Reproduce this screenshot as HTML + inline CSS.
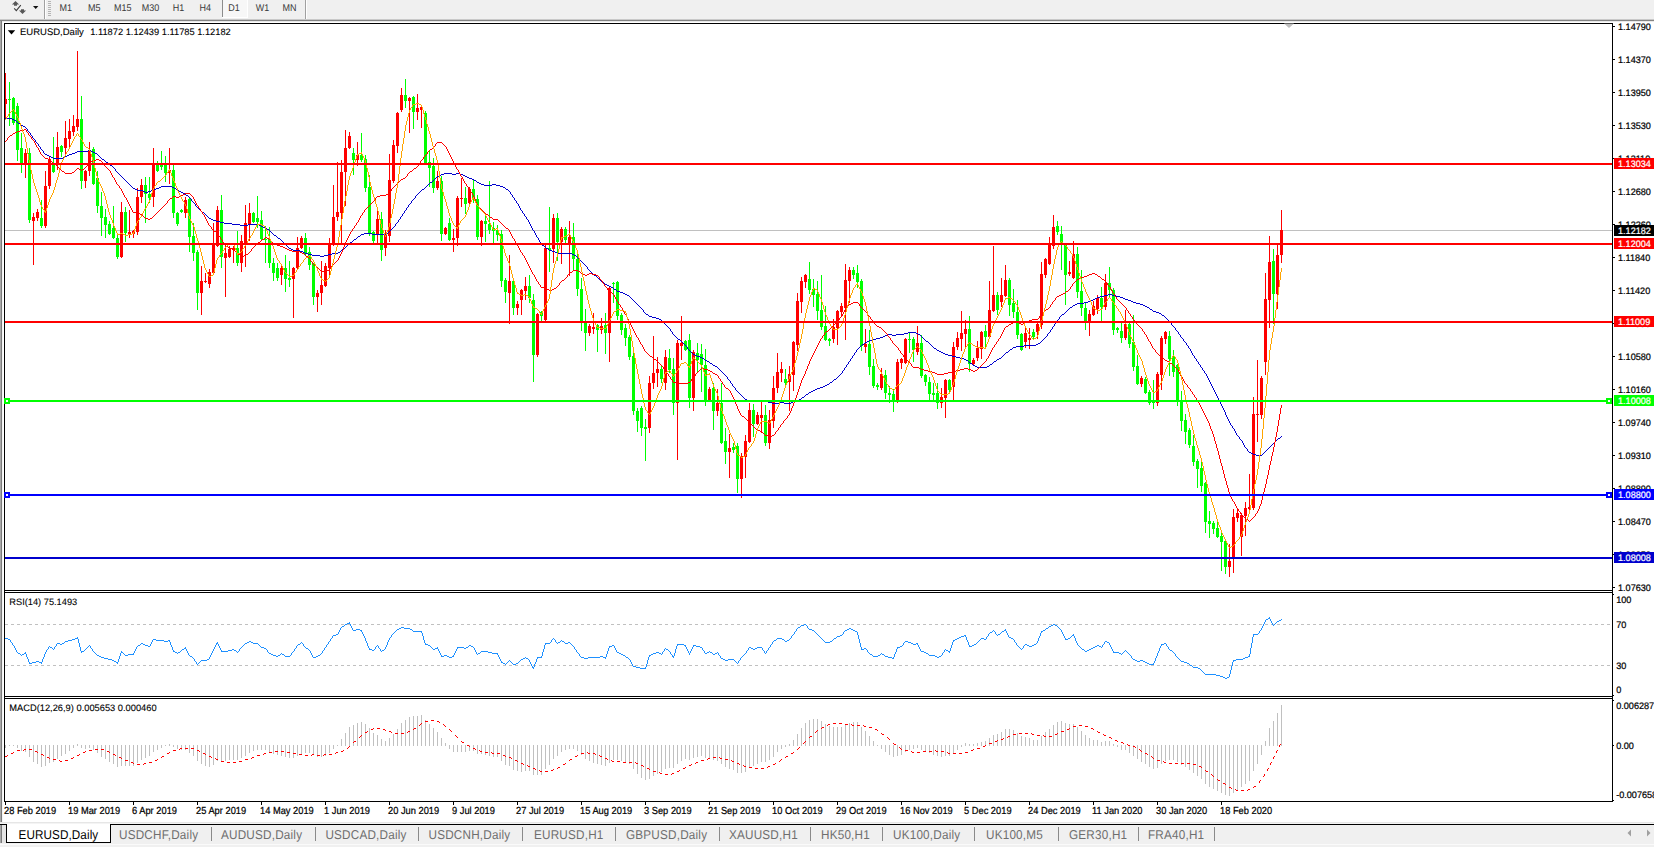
<!DOCTYPE html>
<html lang="en"><head><meta charset="utf-8"><title>EURUSD,Daily</title>
<style>html,body{margin:0;padding:0;background:#fff;overflow:hidden}svg{display:block}text{font-family:"Liberation Sans",sans-serif;fill:#000;text-rendering:geometricPrecision}.ax{stroke:#000;stroke-width:.22px}.dt{stroke:#000;stroke-width:.2px}.ttl{stroke:#000;stroke-width:.1px;text-rendering:geometricPrecision}.ax.w{stroke:#fff}.ax{font-size:9.1px}.dt{font-size:9.3px}.tb{font-size:9px;fill:#3a3a3a}.tab{font-size:11.7px;fill:#6e6e6e;letter-spacing:0.22px}.tabA{font-size:11.7px;fill:#000;letter-spacing:0.1px}.ttl{font-size:9.3px}.w{fill:#fff}</style></head><body>
<svg width="1654" height="847" viewBox="0 0 1654 847">
<rect width="1654" height="847" fill="#fff"/>
<g shape-rendering="crispEdges">
<rect x="0" y="0" width="1654" height="19" fill="#f0f0f0"/>
<rect x="0" y="19" width="1654" height="1" fill="#c9c9c9"/>
<rect x="0" y="20" width="1654" height="1" fill="#848484"/>
<rect x="0" y="21" width="1654" height="1" fill="#e9e9e9"/>
<rect x="44" y="0" width="1" height="19" fill="#a0a0a0"/><rect x="45" y="0" width="1" height="19" fill="#fff"/>
<rect x="305" y="0" width="1" height="19" fill="#a0a0a0"/><rect x="306" y="0" width="1" height="19" fill="#fff"/>
<rect x="48" y="1" width="3" height="1" fill="#b4b4b4"/>
<rect x="48" y="3" width="3" height="1" fill="#b4b4b4"/>
<rect x="48" y="5" width="3" height="1" fill="#b4b4b4"/>
<rect x="48" y="7" width="3" height="1" fill="#b4b4b4"/>
<rect x="48" y="9" width="3" height="1" fill="#b4b4b4"/>
<rect x="48" y="11" width="3" height="1" fill="#b4b4b4"/>
<rect x="48" y="13" width="3" height="1" fill="#b4b4b4"/>
<rect x="48" y="15" width="3" height="1" fill="#b4b4b4"/>
<rect x="222" y="0" width="25" height="18" fill="#f7f7f7"/><rect x="222" y="0" width="1" height="17" fill="#8c8c8c"/><rect x="222" y="17" width="26" height="1" fill="#fff"/><rect x="247" y="0" width="1" height="18" fill="#fff"/>
</g>
<g fill="#585858"><path d="M15.5 0.9 L19.1 4.6 L17 4.6 L17 5.8 L14 5.8 L14 4.6 L11.9 4.6 Z"/><path d="M21 9.3 L24 9.3 L24 10.5 L26.1 10.5 L22.5 14 L19 10.5 L21 10.5 Z"/><polyline points="14.2,8.4 16.3,10.7 20.8,5.2" fill="none" stroke="#3c3c3c" stroke-width="1.05"/><path d="M33 6 L38.4 6 L35.7 9 Z" fill="#111"/></g>
<text class="tb" transform="translate(59.6 11) scale(1 1.08)">M1</text>
<text class="tb" transform="translate(87.9 11) scale(1 1.08)">M5</text>
<text class="tb" transform="translate(113.9 11) scale(1 1.08)">M15</text>
<text class="tb" transform="translate(141.8 11) scale(1 1.08)">M30</text>
<text class="tb" transform="translate(172.8 11) scale(1 1.08)">H1</text>
<text class="tb" transform="translate(199.6 11) scale(1 1.08)">H4</text>
<text class="tb" transform="translate(228.3 11) scale(1 1.08)">D1</text>
<text class="tb" transform="translate(255.8 11) scale(1 1.08)">W1</text>
<text class="tb" transform="translate(282.6 11) scale(1 1.08)">MN</text>
<g shape-rendering="crispEdges">
<rect x="0" y="21" width="1" height="801" fill="#a8a8a8"/><rect x="1" y="21" width="1" height="801" fill="#7c7c7c"/><rect x="2" y="22" width="1" height="800" fill="#f4f4f4"/>
<rect x="4" y="23" width="1609" height="1" fill="#000"/>
<rect x="4" y="23" width="1" height="779" fill="#000"/>
<rect x="1612" y="23" width="1" height="779" fill="#000"/>
<rect x="4" y="590" width="1609" height="1" fill="#000"/>
<rect x="5" y="591" width="1607" height="1" fill="#fff"/>
<rect x="4" y="592" width="1609" height="1" fill="#000"/>
<rect x="4" y="696" width="1609" height="1" fill="#000"/>
<rect x="5" y="697" width="1607" height="1" fill="#fff"/>
<rect x="4" y="698" width="1609" height="1" fill="#000"/>
<rect x="4" y="801" width="1609" height="1" fill="#000"/>
</g>
<g shape-rendering="crispEdges">
<rect x="5" y="230" width="1607" height="1" fill="#c0c0c0"/>
</g>
<g shape-rendering="crispEdges">
<rect x="5" y="73" width="1" height="47" fill="#ff0000"/>
<rect x="5" y="99" width="2" height="5" fill="#ff0000"/>
<rect x="9" y="82" width="1" height="44" fill="#00ff00"/>
<rect x="8" y="99" width="3" height="1" fill="#00ff00"/>
<rect x="13" y="97" width="1" height="28" fill="#00ff00"/>
<rect x="12" y="98" width="3" height="25" fill="#00ff00"/>
<rect x="17" y="103" width="1" height="58" fill="#00ff00"/>
<rect x="16" y="106" width="3" height="44" fill="#00ff00"/>
<rect x="21" y="133" width="1" height="40" fill="#00ff00"/>
<rect x="20" y="148" width="3" height="15" fill="#00ff00"/>
<rect x="25" y="149" width="1" height="29" fill="#ff0000"/>
<rect x="24" y="153" width="3" height="11" fill="#ff0000"/>
<rect x="29" y="148" width="1" height="75" fill="#00ff00"/>
<rect x="28" y="153" width="3" height="67" fill="#00ff00"/>
<rect x="33" y="213" width="1" height="52" fill="#ff0000"/>
<rect x="32" y="217" width="3" height="4" fill="#ff0000"/>
<rect x="37" y="209" width="1" height="12" fill="#ff0000"/>
<rect x="36" y="212" width="3" height="6" fill="#ff0000"/>
<rect x="41" y="200" width="1" height="28" fill="#00ff00"/>
<rect x="40" y="218" width="3" height="8" fill="#00ff00"/>
<rect x="45" y="171" width="1" height="57" fill="#ff0000"/>
<rect x="44" y="186" width="3" height="40" fill="#ff0000"/>
<rect x="49" y="157" width="1" height="32" fill="#ff0000"/>
<rect x="48" y="159" width="3" height="27" fill="#ff0000"/>
<rect x="53" y="137" width="1" height="36" fill="#00ff00"/>
<rect x="52" y="164" width="3" height="8" fill="#00ff00"/>
<rect x="57" y="132" width="1" height="38" fill="#ff0000"/>
<rect x="56" y="147" width="3" height="17" fill="#ff0000"/>
<rect x="61" y="145" width="1" height="12" fill="#00ff00"/>
<rect x="60" y="146" width="3" height="6" fill="#00ff00"/>
<rect x="65" y="121" width="1" height="34" fill="#ff0000"/>
<rect x="64" y="138" width="3" height="10" fill="#ff0000"/>
<rect x="69" y="119" width="1" height="29" fill="#ff0000"/>
<rect x="68" y="131" width="3" height="8" fill="#ff0000"/>
<rect x="73" y="115" width="1" height="21" fill="#ff0000"/>
<rect x="72" y="126" width="3" height="6" fill="#ff0000"/>
<rect x="77" y="51" width="1" height="80" fill="#ff0000"/>
<rect x="76" y="119" width="3" height="8" fill="#ff0000"/>
<rect x="81" y="96" width="1" height="93" fill="#00ff00"/>
<rect x="80" y="119" width="3" height="62" fill="#00ff00"/>
<rect x="85" y="170" width="1" height="18" fill="#ff0000"/>
<rect x="84" y="171" width="3" height="10" fill="#ff0000"/>
<rect x="89" y="142" width="1" height="34" fill="#ff0000"/>
<rect x="88" y="150" width="3" height="21" fill="#ff0000"/>
<rect x="93" y="147" width="1" height="38" fill="#00ff00"/>
<rect x="92" y="149" width="3" height="35" fill="#00ff00"/>
<rect x="97" y="171" width="1" height="42" fill="#00ff00"/>
<rect x="96" y="178" width="3" height="28" fill="#00ff00"/>
<rect x="101" y="192" width="1" height="44" fill="#00ff00"/>
<rect x="100" y="206" width="3" height="12" fill="#00ff00"/>
<rect x="105" y="209" width="1" height="29" fill="#00ff00"/>
<rect x="104" y="217" width="3" height="8" fill="#00ff00"/>
<rect x="109" y="221" width="1" height="14" fill="#00ff00"/>
<rect x="108" y="224" width="3" height="10" fill="#00ff00"/>
<rect x="113" y="206" width="1" height="33" fill="#00ff00"/>
<rect x="112" y="228" width="3" height="10" fill="#00ff00"/>
<rect x="117" y="235" width="1" height="24" fill="#00ff00"/>
<rect x="116" y="238" width="3" height="19" fill="#00ff00"/>
<rect x="121" y="202" width="1" height="56" fill="#ff0000"/>
<rect x="120" y="212" width="3" height="45" fill="#ff0000"/>
<rect x="125" y="207" width="1" height="35" fill="#00ff00"/>
<rect x="124" y="212" width="3" height="21" fill="#00ff00"/>
<rect x="129" y="210" width="1" height="28" fill="#ff0000"/>
<rect x="128" y="232" width="3" height="2" fill="#ff0000"/>
<rect x="133" y="230" width="1" height="8" fill="#ff0000"/>
<rect x="132" y="231" width="3" height="3" fill="#ff0000"/>
<rect x="137" y="188" width="1" height="47" fill="#ff0000"/>
<rect x="136" y="197" width="3" height="35" fill="#ff0000"/>
<rect x="141" y="179" width="1" height="24" fill="#ff0000"/>
<rect x="140" y="185" width="3" height="12" fill="#ff0000"/>
<rect x="145" y="177" width="1" height="46" fill="#00ff00"/>
<rect x="144" y="185" width="3" height="9" fill="#00ff00"/>
<rect x="149" y="177" width="1" height="26" fill="#00ff00"/>
<rect x="148" y="194" width="3" height="4" fill="#00ff00"/>
<rect x="153" y="148" width="1" height="59" fill="#ff0000"/>
<rect x="152" y="164" width="3" height="33" fill="#ff0000"/>
<rect x="157" y="161" width="1" height="11" fill="#00ff00"/>
<rect x="156" y="164" width="3" height="7" fill="#00ff00"/>
<rect x="161" y="151" width="1" height="19" fill="#00ff00"/>
<rect x="160" y="165" width="3" height="2" fill="#00ff00"/>
<rect x="165" y="156" width="1" height="26" fill="#00ff00"/>
<rect x="164" y="165" width="3" height="8" fill="#00ff00"/>
<rect x="169" y="148" width="1" height="36" fill="#ff0000"/>
<rect x="168" y="170" width="3" height="3" fill="#ff0000"/>
<rect x="173" y="165" width="1" height="53" fill="#00ff00"/>
<rect x="172" y="170" width="3" height="43" fill="#00ff00"/>
<rect x="177" y="212" width="1" height="14" fill="#00ff00"/>
<rect x="176" y="213" width="3" height="11" fill="#00ff00"/>
<rect x="181" y="209" width="1" height="4" fill="#00ff00"/>
<rect x="180" y="210" width="3" height="2" fill="#00ff00"/>
<rect x="185" y="197" width="1" height="21" fill="#ff0000"/>
<rect x="184" y="200" width="3" height="13" fill="#ff0000"/>
<rect x="189" y="197" width="1" height="55" fill="#00ff00"/>
<rect x="188" y="199" width="3" height="38" fill="#00ff00"/>
<rect x="193" y="223" width="1" height="38" fill="#00ff00"/>
<rect x="192" y="236" width="3" height="17" fill="#00ff00"/>
<rect x="197" y="250" width="1" height="60" fill="#00ff00"/>
<rect x="196" y="252" width="3" height="41" fill="#00ff00"/>
<rect x="201" y="266" width="1" height="49" fill="#ff0000"/>
<rect x="200" y="281" width="3" height="12" fill="#ff0000"/>
<rect x="205" y="273" width="1" height="10" fill="#ff0000"/>
<rect x="204" y="281" width="3" height="1" fill="#ff0000"/>
<rect x="209" y="269" width="1" height="19" fill="#ff0000"/>
<rect x="208" y="272" width="3" height="12" fill="#ff0000"/>
<rect x="213" y="223" width="1" height="51" fill="#ff0000"/>
<rect x="212" y="244" width="3" height="29" fill="#ff0000"/>
<rect x="217" y="206" width="1" height="41" fill="#ff0000"/>
<rect x="216" y="210" width="3" height="36" fill="#ff0000"/>
<rect x="221" y="195" width="1" height="73" fill="#00ff00"/>
<rect x="220" y="210" width="3" height="47" fill="#00ff00"/>
<rect x="225" y="246" width="1" height="51" fill="#ff0000"/>
<rect x="224" y="253" width="3" height="5" fill="#ff0000"/>
<rect x="229" y="246" width="1" height="12" fill="#ff0000"/>
<rect x="228" y="249" width="3" height="8" fill="#ff0000"/>
<rect x="233" y="246" width="1" height="17" fill="#ff0000"/>
<rect x="232" y="248" width="3" height="2" fill="#ff0000"/>
<rect x="237" y="231" width="1" height="35" fill="#00ff00"/>
<rect x="236" y="248" width="3" height="15" fill="#00ff00"/>
<rect x="241" y="235" width="1" height="37" fill="#ff0000"/>
<rect x="240" y="241" width="3" height="22" fill="#ff0000"/>
<rect x="245" y="205" width="1" height="62" fill="#ff0000"/>
<rect x="244" y="223" width="3" height="20" fill="#ff0000"/>
<rect x="249" y="203" width="1" height="38" fill="#ff0000"/>
<rect x="248" y="213" width="3" height="11" fill="#ff0000"/>
<rect x="253" y="212" width="1" height="11" fill="#00ff00"/>
<rect x="252" y="213" width="3" height="9" fill="#00ff00"/>
<rect x="257" y="196" width="1" height="32" fill="#00ff00"/>
<rect x="256" y="218" width="3" height="4" fill="#00ff00"/>
<rect x="261" y="211" width="1" height="29" fill="#00ff00"/>
<rect x="260" y="220" width="3" height="19" fill="#00ff00"/>
<rect x="265" y="226" width="1" height="37" fill="#00ff00"/>
<rect x="264" y="239" width="3" height="1" fill="#00ff00"/>
<rect x="269" y="227" width="1" height="41" fill="#00ff00"/>
<rect x="268" y="239" width="3" height="24" fill="#00ff00"/>
<rect x="273" y="258" width="1" height="23" fill="#00ff00"/>
<rect x="272" y="263" width="3" height="10" fill="#00ff00"/>
<rect x="277" y="263" width="1" height="18" fill="#00ff00"/>
<rect x="276" y="268" width="3" height="10" fill="#00ff00"/>
<rect x="281" y="265" width="1" height="20" fill="#ff0000"/>
<rect x="280" y="268" width="3" height="7" fill="#ff0000"/>
<rect x="285" y="255" width="1" height="37" fill="#00ff00"/>
<rect x="284" y="268" width="3" height="11" fill="#00ff00"/>
<rect x="289" y="261" width="1" height="26" fill="#00ff00"/>
<rect x="288" y="278" width="3" height="2" fill="#00ff00"/>
<rect x="293" y="267" width="1" height="51" fill="#ff0000"/>
<rect x="292" y="268" width="3" height="11" fill="#ff0000"/>
<rect x="297" y="237" width="1" height="32" fill="#ff0000"/>
<rect x="296" y="248" width="3" height="20" fill="#ff0000"/>
<rect x="301" y="236" width="1" height="13" fill="#ff0000"/>
<rect x="300" y="238" width="3" height="10" fill="#ff0000"/>
<rect x="305" y="233" width="1" height="22" fill="#00ff00"/>
<rect x="304" y="238" width="3" height="16" fill="#00ff00"/>
<rect x="309" y="247" width="1" height="23" fill="#00ff00"/>
<rect x="308" y="252" width="3" height="13" fill="#00ff00"/>
<rect x="313" y="263" width="1" height="42" fill="#00ff00"/>
<rect x="312" y="264" width="3" height="33" fill="#00ff00"/>
<rect x="317" y="290" width="1" height="22" fill="#ff0000"/>
<rect x="316" y="293" width="3" height="4" fill="#ff0000"/>
<rect x="321" y="261" width="1" height="44" fill="#ff0000"/>
<rect x="320" y="285" width="3" height="8" fill="#ff0000"/>
<rect x="325" y="263" width="1" height="24" fill="#ff0000"/>
<rect x="324" y="266" width="3" height="20" fill="#ff0000"/>
<rect x="329" y="238" width="1" height="40" fill="#ff0000"/>
<rect x="328" y="243" width="3" height="25" fill="#ff0000"/>
<rect x="333" y="185" width="1" height="61" fill="#ff0000"/>
<rect x="332" y="217" width="3" height="27" fill="#ff0000"/>
<rect x="337" y="162" width="1" height="59" fill="#ff0000"/>
<rect x="336" y="212" width="3" height="5" fill="#ff0000"/>
<rect x="341" y="160" width="1" height="85" fill="#ff0000"/>
<rect x="340" y="172" width="3" height="41" fill="#ff0000"/>
<rect x="345" y="130" width="1" height="76" fill="#ff0000"/>
<rect x="344" y="148" width="3" height="24" fill="#ff0000"/>
<rect x="349" y="132" width="1" height="17" fill="#ff0000"/>
<rect x="348" y="136" width="3" height="12" fill="#ff0000"/>
<rect x="353" y="148" width="1" height="27" fill="#00ff00"/>
<rect x="352" y="153" width="3" height="7" fill="#00ff00"/>
<rect x="357" y="142" width="1" height="24" fill="#ff0000"/>
<rect x="356" y="155" width="3" height="5" fill="#ff0000"/>
<rect x="361" y="133" width="1" height="29" fill="#00ff00"/>
<rect x="360" y="155" width="3" height="5" fill="#00ff00"/>
<rect x="365" y="155" width="1" height="37" fill="#00ff00"/>
<rect x="364" y="159" width="3" height="29" fill="#00ff00"/>
<rect x="369" y="175" width="1" height="61" fill="#00ff00"/>
<rect x="368" y="187" width="3" height="46" fill="#00ff00"/>
<rect x="373" y="231" width="1" height="12" fill="#00ff00"/>
<rect x="372" y="232" width="3" height="9" fill="#00ff00"/>
<rect x="377" y="210" width="1" height="33" fill="#ff0000"/>
<rect x="376" y="219" width="3" height="15" fill="#ff0000"/>
<rect x="381" y="212" width="1" height="49" fill="#00ff00"/>
<rect x="380" y="219" width="3" height="31" fill="#00ff00"/>
<rect x="385" y="230" width="1" height="26" fill="#ff0000"/>
<rect x="384" y="235" width="3" height="13" fill="#ff0000"/>
<rect x="389" y="154" width="1" height="88" fill="#ff0000"/>
<rect x="388" y="180" width="3" height="56" fill="#ff0000"/>
<rect x="393" y="140" width="1" height="43" fill="#ff0000"/>
<rect x="392" y="145" width="3" height="36" fill="#ff0000"/>
<rect x="397" y="112" width="1" height="41" fill="#ff0000"/>
<rect x="396" y="113" width="3" height="33" fill="#ff0000"/>
<rect x="401" y="88" width="1" height="24" fill="#ff0000"/>
<rect x="400" y="95" width="3" height="15" fill="#ff0000"/>
<rect x="405" y="79" width="1" height="29" fill="#00ff00"/>
<rect x="404" y="95" width="3" height="6" fill="#00ff00"/>
<rect x="409" y="97" width="1" height="36" fill="#ff0000"/>
<rect x="408" y="98" width="3" height="3" fill="#ff0000"/>
<rect x="413" y="96" width="1" height="33" fill="#00ff00"/>
<rect x="412" y="97" width="3" height="15" fill="#00ff00"/>
<rect x="417" y="94" width="1" height="26" fill="#ff0000"/>
<rect x="416" y="108" width="3" height="4" fill="#ff0000"/>
<rect x="421" y="106" width="1" height="22" fill="#ff0000"/>
<rect x="420" y="107" width="3" height="3" fill="#ff0000"/>
<rect x="425" y="111" width="1" height="53" fill="#00ff00"/>
<rect x="424" y="113" width="3" height="50" fill="#00ff00"/>
<rect x="429" y="151" width="1" height="36" fill="#00ff00"/>
<rect x="428" y="162" width="3" height="6" fill="#00ff00"/>
<rect x="433" y="158" width="1" height="35" fill="#00ff00"/>
<rect x="432" y="166" width="3" height="22" fill="#00ff00"/>
<rect x="437" y="171" width="1" height="19" fill="#ff0000"/>
<rect x="436" y="181" width="3" height="7" fill="#ff0000"/>
<rect x="441" y="176" width="1" height="65" fill="#00ff00"/>
<rect x="440" y="181" width="3" height="53" fill="#00ff00"/>
<rect x="445" y="227" width="1" height="8" fill="#ff0000"/>
<rect x="444" y="228" width="3" height="6" fill="#ff0000"/>
<rect x="449" y="218" width="1" height="23" fill="#00ff00"/>
<rect x="448" y="223" width="3" height="17" fill="#00ff00"/>
<rect x="453" y="229" width="1" height="23" fill="#ff0000"/>
<rect x="452" y="238" width="3" height="2" fill="#ff0000"/>
<rect x="457" y="196" width="1" height="50" fill="#ff0000"/>
<rect x="456" y="198" width="3" height="40" fill="#ff0000"/>
<rect x="461" y="178" width="1" height="29" fill="#ff0000"/>
<rect x="460" y="198" width="3" height="1" fill="#ff0000"/>
<rect x="465" y="187" width="1" height="27" fill="#00ff00"/>
<rect x="464" y="198" width="3" height="6" fill="#00ff00"/>
<rect x="469" y="187" width="1" height="18" fill="#ff0000"/>
<rect x="468" y="189" width="3" height="14" fill="#ff0000"/>
<rect x="473" y="180" width="1" height="23" fill="#00ff00"/>
<rect x="472" y="189" width="3" height="9" fill="#00ff00"/>
<rect x="477" y="195" width="1" height="45" fill="#00ff00"/>
<rect x="476" y="199" width="3" height="38" fill="#00ff00"/>
<rect x="481" y="220" width="1" height="26" fill="#ff0000"/>
<rect x="480" y="221" width="3" height="16" fill="#ff0000"/>
<rect x="485" y="215" width="1" height="27" fill="#00ff00"/>
<rect x="484" y="221" width="3" height="3" fill="#00ff00"/>
<rect x="489" y="181" width="1" height="53" fill="#00ff00"/>
<rect x="488" y="224" width="3" height="6" fill="#00ff00"/>
<rect x="493" y="222" width="1" height="21" fill="#00ff00"/>
<rect x="492" y="228" width="3" height="3" fill="#00ff00"/>
<rect x="497" y="225" width="1" height="16" fill="#00ff00"/>
<rect x="496" y="230" width="3" height="5" fill="#00ff00"/>
<rect x="501" y="230" width="1" height="57" fill="#00ff00"/>
<rect x="500" y="234" width="3" height="47" fill="#00ff00"/>
<rect x="505" y="278" width="1" height="25" fill="#00ff00"/>
<rect x="504" y="280" width="3" height="12" fill="#00ff00"/>
<rect x="509" y="255" width="1" height="69" fill="#ff0000"/>
<rect x="508" y="281" width="3" height="12" fill="#ff0000"/>
<rect x="513" y="278" width="1" height="37" fill="#00ff00"/>
<rect x="512" y="281" width="3" height="27" fill="#00ff00"/>
<rect x="517" y="301" width="1" height="14" fill="#ff0000"/>
<rect x="516" y="304" width="3" height="4" fill="#ff0000"/>
<rect x="521" y="289" width="1" height="26" fill="#ff0000"/>
<rect x="520" y="290" width="3" height="10" fill="#ff0000"/>
<rect x="525" y="277" width="1" height="23" fill="#ff0000"/>
<rect x="524" y="286" width="3" height="5" fill="#ff0000"/>
<rect x="529" y="275" width="1" height="28" fill="#00ff00"/>
<rect x="528" y="286" width="3" height="12" fill="#00ff00"/>
<rect x="533" y="294" width="1" height="88" fill="#00ff00"/>
<rect x="532" y="300" width="3" height="55" fill="#00ff00"/>
<rect x="537" y="313" width="1" height="44" fill="#ff0000"/>
<rect x="536" y="314" width="3" height="41" fill="#ff0000"/>
<rect x="541" y="311" width="1" height="10" fill="#00ff00"/>
<rect x="540" y="312" width="3" height="4" fill="#00ff00"/>
<rect x="545" y="245" width="1" height="76" fill="#ff0000"/>
<rect x="544" y="248" width="3" height="72" fill="#ff0000"/>
<rect x="549" y="207" width="1" height="65" fill="#00ff00"/>
<rect x="548" y="248" width="3" height="2" fill="#00ff00"/>
<rect x="553" y="214" width="1" height="49" fill="#ff0000"/>
<rect x="552" y="218" width="3" height="31" fill="#ff0000"/>
<rect x="557" y="213" width="1" height="48" fill="#00ff00"/>
<rect x="556" y="218" width="3" height="24" fill="#00ff00"/>
<rect x="561" y="227" width="1" height="37" fill="#ff0000"/>
<rect x="560" y="229" width="3" height="13" fill="#ff0000"/>
<rect x="565" y="227" width="1" height="16" fill="#00ff00"/>
<rect x="564" y="229" width="3" height="11" fill="#00ff00"/>
<rect x="569" y="221" width="1" height="55" fill="#ff0000"/>
<rect x="568" y="237" width="3" height="7" fill="#ff0000"/>
<rect x="573" y="223" width="1" height="47" fill="#00ff00"/>
<rect x="572" y="237" width="3" height="22" fill="#00ff00"/>
<rect x="577" y="254" width="1" height="42" fill="#00ff00"/>
<rect x="576" y="259" width="3" height="30" fill="#00ff00"/>
<rect x="581" y="278" width="1" height="53" fill="#00ff00"/>
<rect x="580" y="289" width="3" height="32" fill="#00ff00"/>
<rect x="585" y="309" width="1" height="42" fill="#00ff00"/>
<rect x="584" y="321" width="3" height="12" fill="#00ff00"/>
<rect x="589" y="324" width="1" height="12" fill="#ff0000"/>
<rect x="588" y="326" width="3" height="7" fill="#ff0000"/>
<rect x="593" y="313" width="1" height="21" fill="#ff0000"/>
<rect x="592" y="327" width="3" height="2" fill="#ff0000"/>
<rect x="597" y="324" width="1" height="28" fill="#00ff00"/>
<rect x="596" y="325" width="3" height="5" fill="#00ff00"/>
<rect x="601" y="318" width="1" height="16" fill="#ff0000"/>
<rect x="600" y="326" width="3" height="4" fill="#ff0000"/>
<rect x="605" y="313" width="1" height="41" fill="#00ff00"/>
<rect x="604" y="325" width="3" height="8" fill="#00ff00"/>
<rect x="609" y="286" width="1" height="76" fill="#ff0000"/>
<rect x="608" y="288" width="3" height="45" fill="#ff0000"/>
<rect x="613" y="282" width="1" height="21" fill="#00ff00"/>
<rect x="612" y="283" width="3" height="1" fill="#00ff00"/>
<rect x="617" y="281" width="1" height="39" fill="#00ff00"/>
<rect x="616" y="282" width="3" height="34" fill="#00ff00"/>
<rect x="621" y="313" width="1" height="22" fill="#00ff00"/>
<rect x="620" y="315" width="3" height="15" fill="#00ff00"/>
<rect x="625" y="324" width="1" height="22" fill="#00ff00"/>
<rect x="624" y="328" width="3" height="10" fill="#00ff00"/>
<rect x="629" y="335" width="1" height="25" fill="#00ff00"/>
<rect x="628" y="337" width="3" height="20" fill="#00ff00"/>
<rect x="633" y="353" width="1" height="62" fill="#00ff00"/>
<rect x="632" y="356" width="3" height="55" fill="#00ff00"/>
<rect x="637" y="408" width="1" height="24" fill="#00ff00"/>
<rect x="636" y="411" width="3" height="10" fill="#00ff00"/>
<rect x="641" y="406" width="1" height="30" fill="#00ff00"/>
<rect x="640" y="408" width="3" height="20" fill="#00ff00"/>
<rect x="645" y="419" width="1" height="42" fill="#00ff00"/>
<rect x="644" y="427" width="3" height="2" fill="#00ff00"/>
<rect x="649" y="376" width="1" height="57" fill="#ff0000"/>
<rect x="648" y="383" width="3" height="45" fill="#ff0000"/>
<rect x="653" y="336" width="1" height="53" fill="#ff0000"/>
<rect x="652" y="373" width="3" height="10" fill="#ff0000"/>
<rect x="657" y="357" width="1" height="30" fill="#ff0000"/>
<rect x="656" y="369" width="3" height="4" fill="#ff0000"/>
<rect x="661" y="366" width="1" height="17" fill="#00ff00"/>
<rect x="660" y="369" width="3" height="10" fill="#00ff00"/>
<rect x="665" y="350" width="1" height="40" fill="#ff0000"/>
<rect x="664" y="357" width="3" height="26" fill="#ff0000"/>
<rect x="669" y="349" width="1" height="24" fill="#00ff00"/>
<rect x="668" y="358" width="3" height="12" fill="#00ff00"/>
<rect x="673" y="358" width="1" height="57" fill="#00ff00"/>
<rect x="672" y="369" width="3" height="34" fill="#00ff00"/>
<rect x="677" y="340" width="1" height="120" fill="#ff0000"/>
<rect x="676" y="343" width="3" height="60" fill="#ff0000"/>
<rect x="681" y="316" width="1" height="44" fill="#ff0000"/>
<rect x="680" y="343" width="3" height="3" fill="#ff0000"/>
<rect x="685" y="340" width="1" height="11" fill="#00ff00"/>
<rect x="684" y="341" width="3" height="9" fill="#00ff00"/>
<rect x="689" y="334" width="1" height="74" fill="#00ff00"/>
<rect x="688" y="340" width="3" height="58" fill="#00ff00"/>
<rect x="693" y="350" width="1" height="61" fill="#ff0000"/>
<rect x="692" y="352" width="3" height="46" fill="#ff0000"/>
<rect x="697" y="343" width="1" height="30" fill="#00ff00"/>
<rect x="696" y="353" width="3" height="7" fill="#00ff00"/>
<rect x="701" y="344" width="1" height="48" fill="#00ff00"/>
<rect x="700" y="354" width="3" height="11" fill="#00ff00"/>
<rect x="705" y="349" width="1" height="57" fill="#00ff00"/>
<rect x="704" y="365" width="3" height="35" fill="#00ff00"/>
<rect x="709" y="387" width="1" height="14" fill="#ff0000"/>
<rect x="708" y="389" width="3" height="11" fill="#ff0000"/>
<rect x="713" y="383" width="1" height="47" fill="#00ff00"/>
<rect x="712" y="388" width="3" height="23" fill="#00ff00"/>
<rect x="717" y="389" width="1" height="27" fill="#ff0000"/>
<rect x="716" y="403" width="3" height="8" fill="#ff0000"/>
<rect x="721" y="383" width="1" height="61" fill="#00ff00"/>
<rect x="720" y="403" width="3" height="40" fill="#00ff00"/>
<rect x="725" y="428" width="1" height="36" fill="#00ff00"/>
<rect x="724" y="441" width="3" height="11" fill="#00ff00"/>
<rect x="729" y="434" width="1" height="44" fill="#ff0000"/>
<rect x="728" y="448" width="3" height="4" fill="#ff0000"/>
<rect x="733" y="443" width="1" height="10" fill="#00ff00"/>
<rect x="732" y="447" width="3" height="3" fill="#00ff00"/>
<rect x="737" y="443" width="1" height="50" fill="#00ff00"/>
<rect x="736" y="446" width="3" height="33" fill="#00ff00"/>
<rect x="741" y="453" width="1" height="45" fill="#ff0000"/>
<rect x="740" y="456" width="3" height="23" fill="#ff0000"/>
<rect x="745" y="435" width="1" height="43" fill="#ff0000"/>
<rect x="744" y="441" width="3" height="16" fill="#ff0000"/>
<rect x="749" y="403" width="1" height="40" fill="#ff0000"/>
<rect x="748" y="410" width="3" height="32" fill="#ff0000"/>
<rect x="753" y="404" width="1" height="33" fill="#00ff00"/>
<rect x="752" y="410" width="3" height="14" fill="#00ff00"/>
<rect x="757" y="412" width="1" height="13" fill="#ff0000"/>
<rect x="756" y="415" width="3" height="9" fill="#ff0000"/>
<rect x="761" y="402" width="1" height="31" fill="#ff0000"/>
<rect x="760" y="415" width="3" height="3" fill="#ff0000"/>
<rect x="765" y="405" width="1" height="41" fill="#00ff00"/>
<rect x="764" y="415" width="3" height="28" fill="#00ff00"/>
<rect x="769" y="410" width="1" height="39" fill="#ff0000"/>
<rect x="768" y="420" width="3" height="23" fill="#ff0000"/>
<rect x="773" y="376" width="1" height="52" fill="#ff0000"/>
<rect x="772" y="388" width="3" height="33" fill="#ff0000"/>
<rect x="777" y="353" width="1" height="40" fill="#ff0000"/>
<rect x="776" y="372" width="3" height="16" fill="#ff0000"/>
<rect x="781" y="362" width="1" height="20" fill="#ff0000"/>
<rect x="780" y="369" width="3" height="4" fill="#ff0000"/>
<rect x="785" y="369" width="1" height="16" fill="#00ff00"/>
<rect x="784" y="379" width="3" height="4" fill="#00ff00"/>
<rect x="789" y="366" width="1" height="45" fill="#ff0000"/>
<rect x="788" y="374" width="3" height="8" fill="#ff0000"/>
<rect x="793" y="341" width="1" height="50" fill="#ff0000"/>
<rect x="792" y="342" width="3" height="33" fill="#ff0000"/>
<rect x="797" y="293" width="1" height="58" fill="#ff0000"/>
<rect x="796" y="301" width="3" height="44" fill="#ff0000"/>
<rect x="801" y="277" width="1" height="36" fill="#ff0000"/>
<rect x="800" y="281" width="3" height="21" fill="#ff0000"/>
<rect x="805" y="274" width="1" height="14" fill="#ff0000"/>
<rect x="804" y="275" width="3" height="7" fill="#ff0000"/>
<rect x="809" y="262" width="1" height="32" fill="#00ff00"/>
<rect x="808" y="279" width="3" height="11" fill="#00ff00"/>
<rect x="813" y="279" width="1" height="28" fill="#00ff00"/>
<rect x="812" y="289" width="3" height="6" fill="#00ff00"/>
<rect x="817" y="281" width="1" height="39" fill="#00ff00"/>
<rect x="816" y="294" width="3" height="17" fill="#00ff00"/>
<rect x="821" y="275" width="1" height="55" fill="#00ff00"/>
<rect x="820" y="310" width="3" height="17" fill="#00ff00"/>
<rect x="825" y="306" width="1" height="35" fill="#00ff00"/>
<rect x="824" y="326" width="3" height="14" fill="#00ff00"/>
<rect x="829" y="338" width="1" height="8" fill="#00ff00"/>
<rect x="828" y="339" width="3" height="2" fill="#00ff00"/>
<rect x="833" y="319" width="1" height="24" fill="#ff0000"/>
<rect x="832" y="327" width="3" height="12" fill="#ff0000"/>
<rect x="837" y="310" width="1" height="35" fill="#ff0000"/>
<rect x="836" y="311" width="3" height="17" fill="#ff0000"/>
<rect x="841" y="303" width="1" height="14" fill="#ff0000"/>
<rect x="840" y="306" width="3" height="6" fill="#ff0000"/>
<rect x="845" y="264" width="1" height="76" fill="#ff0000"/>
<rect x="844" y="280" width="3" height="28" fill="#ff0000"/>
<rect x="849" y="267" width="1" height="36" fill="#ff0000"/>
<rect x="848" y="270" width="3" height="11" fill="#ff0000"/>
<rect x="853" y="267" width="1" height="12" fill="#00ff00"/>
<rect x="852" y="270" width="3" height="5" fill="#00ff00"/>
<rect x="857" y="265" width="1" height="23" fill="#00ff00"/>
<rect x="856" y="273" width="3" height="9" fill="#00ff00"/>
<rect x="861" y="279" width="1" height="72" fill="#00ff00"/>
<rect x="860" y="281" width="3" height="65" fill="#00ff00"/>
<rect x="865" y="329" width="1" height="24" fill="#ff0000"/>
<rect x="864" y="344" width="3" height="3" fill="#ff0000"/>
<rect x="869" y="330" width="1" height="45" fill="#00ff00"/>
<rect x="868" y="344" width="3" height="23" fill="#00ff00"/>
<rect x="873" y="359" width="1" height="29" fill="#00ff00"/>
<rect x="872" y="366" width="3" height="20" fill="#00ff00"/>
<rect x="877" y="383" width="1" height="7" fill="#00ff00"/>
<rect x="876" y="385" width="3" height="2" fill="#00ff00"/>
<rect x="881" y="368" width="1" height="22" fill="#ff0000"/>
<rect x="880" y="374" width="3" height="14" fill="#ff0000"/>
<rect x="885" y="370" width="1" height="29" fill="#00ff00"/>
<rect x="884" y="375" width="3" height="18" fill="#00ff00"/>
<rect x="889" y="386" width="1" height="17" fill="#00ff00"/>
<rect x="888" y="393" width="3" height="2" fill="#00ff00"/>
<rect x="893" y="389" width="1" height="23" fill="#00ff00"/>
<rect x="892" y="394" width="3" height="7" fill="#00ff00"/>
<rect x="897" y="359" width="1" height="44" fill="#ff0000"/>
<rect x="896" y="362" width="3" height="38" fill="#ff0000"/>
<rect x="901" y="358" width="1" height="11" fill="#ff0000"/>
<rect x="900" y="359" width="3" height="4" fill="#ff0000"/>
<rect x="905" y="338" width="1" height="26" fill="#ff0000"/>
<rect x="904" y="339" width="3" height="24" fill="#ff0000"/>
<rect x="909" y="332" width="1" height="21" fill="#00ff00"/>
<rect x="908" y="339" width="3" height="1" fill="#00ff00"/>
<rect x="913" y="337" width="1" height="25" fill="#00ff00"/>
<rect x="912" y="339" width="3" height="11" fill="#00ff00"/>
<rect x="917" y="326" width="1" height="29" fill="#ff0000"/>
<rect x="916" y="343" width="3" height="9" fill="#ff0000"/>
<rect x="921" y="335" width="1" height="43" fill="#00ff00"/>
<rect x="920" y="343" width="3" height="33" fill="#00ff00"/>
<rect x="925" y="374" width="1" height="12" fill="#00ff00"/>
<rect x="924" y="375" width="3" height="7" fill="#00ff00"/>
<rect x="929" y="377" width="1" height="23" fill="#00ff00"/>
<rect x="928" y="382" width="3" height="12" fill="#00ff00"/>
<rect x="933" y="383" width="1" height="17" fill="#00ff00"/>
<rect x="932" y="393" width="3" height="2" fill="#00ff00"/>
<rect x="937" y="383" width="1" height="26" fill="#00ff00"/>
<rect x="936" y="393" width="3" height="10" fill="#00ff00"/>
<rect x="941" y="388" width="1" height="20" fill="#ff0000"/>
<rect x="940" y="397" width="3" height="6" fill="#ff0000"/>
<rect x="945" y="379" width="1" height="39" fill="#ff0000"/>
<rect x="944" y="380" width="3" height="18" fill="#ff0000"/>
<rect x="949" y="379" width="1" height="14" fill="#00ff00"/>
<rect x="948" y="380" width="3" height="10" fill="#00ff00"/>
<rect x="953" y="342" width="1" height="58" fill="#ff0000"/>
<rect x="952" y="347" width="3" height="40" fill="#ff0000"/>
<rect x="957" y="332" width="1" height="18" fill="#ff0000"/>
<rect x="956" y="338" width="3" height="9" fill="#ff0000"/>
<rect x="961" y="311" width="1" height="40" fill="#ff0000"/>
<rect x="960" y="333" width="3" height="6" fill="#ff0000"/>
<rect x="965" y="320" width="1" height="27" fill="#ff0000"/>
<rect x="964" y="329" width="3" height="5" fill="#ff0000"/>
<rect x="969" y="316" width="1" height="56" fill="#00ff00"/>
<rect x="968" y="329" width="3" height="35" fill="#00ff00"/>
<rect x="973" y="358" width="1" height="7" fill="#ff0000"/>
<rect x="972" y="360" width="3" height="4" fill="#ff0000"/>
<rect x="977" y="341" width="1" height="20" fill="#ff0000"/>
<rect x="976" y="348" width="3" height="10" fill="#ff0000"/>
<rect x="981" y="331" width="1" height="28" fill="#ff0000"/>
<rect x="980" y="332" width="3" height="17" fill="#ff0000"/>
<rect x="985" y="325" width="1" height="24" fill="#00ff00"/>
<rect x="984" y="331" width="3" height="6" fill="#00ff00"/>
<rect x="989" y="281" width="1" height="57" fill="#ff0000"/>
<rect x="988" y="310" width="3" height="27" fill="#ff0000"/>
<rect x="993" y="246" width="1" height="66" fill="#ff0000"/>
<rect x="992" y="295" width="3" height="16" fill="#ff0000"/>
<rect x="997" y="292" width="1" height="23" fill="#00ff00"/>
<rect x="996" y="295" width="3" height="15" fill="#00ff00"/>
<rect x="1001" y="278" width="1" height="29" fill="#ff0000"/>
<rect x="1000" y="295" width="3" height="7" fill="#ff0000"/>
<rect x="1005" y="265" width="1" height="32" fill="#ff0000"/>
<rect x="1004" y="280" width="3" height="16" fill="#ff0000"/>
<rect x="1009" y="278" width="1" height="38" fill="#00ff00"/>
<rect x="1008" y="280" width="3" height="25" fill="#00ff00"/>
<rect x="1013" y="289" width="1" height="29" fill="#00ff00"/>
<rect x="1012" y="303" width="3" height="9" fill="#00ff00"/>
<rect x="1017" y="300" width="1" height="39" fill="#00ff00"/>
<rect x="1016" y="312" width="3" height="23" fill="#00ff00"/>
<rect x="1021" y="333" width="1" height="18" fill="#00ff00"/>
<rect x="1020" y="334" width="3" height="16" fill="#00ff00"/>
<rect x="1025" y="326" width="1" height="22" fill="#ff0000"/>
<rect x="1024" y="333" width="3" height="9" fill="#ff0000"/>
<rect x="1029" y="328" width="1" height="21" fill="#ff0000"/>
<rect x="1028" y="338" width="3" height="2" fill="#ff0000"/>
<rect x="1033" y="329" width="1" height="11" fill="#00ff00"/>
<rect x="1032" y="332" width="3" height="5" fill="#00ff00"/>
<rect x="1037" y="323" width="1" height="16" fill="#ff0000"/>
<rect x="1036" y="324" width="3" height="8" fill="#ff0000"/>
<rect x="1041" y="262" width="1" height="67" fill="#ff0000"/>
<rect x="1040" y="274" width="3" height="51" fill="#ff0000"/>
<rect x="1045" y="258" width="1" height="20" fill="#ff0000"/>
<rect x="1044" y="259" width="3" height="16" fill="#ff0000"/>
<rect x="1049" y="237" width="1" height="28" fill="#ff0000"/>
<rect x="1048" y="244" width="3" height="20" fill="#ff0000"/>
<rect x="1053" y="215" width="1" height="34" fill="#ff0000"/>
<rect x="1052" y="227" width="3" height="19" fill="#ff0000"/>
<rect x="1057" y="221" width="1" height="14" fill="#00ff00"/>
<rect x="1056" y="226" width="3" height="6" fill="#00ff00"/>
<rect x="1061" y="226" width="1" height="44" fill="#00ff00"/>
<rect x="1060" y="234" width="3" height="11" fill="#00ff00"/>
<rect x="1065" y="243" width="1" height="62" fill="#00ff00"/>
<rect x="1064" y="245" width="3" height="30" fill="#00ff00"/>
<rect x="1069" y="261" width="1" height="15" fill="#ff0000"/>
<rect x="1068" y="272" width="3" height="2" fill="#ff0000"/>
<rect x="1073" y="241" width="1" height="38" fill="#ff0000"/>
<rect x="1072" y="254" width="3" height="24" fill="#ff0000"/>
<rect x="1077" y="247" width="1" height="51" fill="#00ff00"/>
<rect x="1076" y="254" width="3" height="38" fill="#00ff00"/>
<rect x="1081" y="270" width="1" height="46" fill="#00ff00"/>
<rect x="1080" y="291" width="3" height="17" fill="#00ff00"/>
<rect x="1085" y="303" width="1" height="27" fill="#00ff00"/>
<rect x="1084" y="308" width="3" height="14" fill="#00ff00"/>
<rect x="1089" y="310" width="1" height="26" fill="#ff0000"/>
<rect x="1088" y="314" width="3" height="8" fill="#ff0000"/>
<rect x="1093" y="301" width="1" height="15" fill="#ff0000"/>
<rect x="1092" y="306" width="3" height="9" fill="#ff0000"/>
<rect x="1097" y="295" width="1" height="19" fill="#ff0000"/>
<rect x="1096" y="298" width="3" height="11" fill="#ff0000"/>
<rect x="1101" y="287" width="1" height="34" fill="#00ff00"/>
<rect x="1100" y="298" width="3" height="9" fill="#00ff00"/>
<rect x="1105" y="274" width="1" height="36" fill="#ff0000"/>
<rect x="1104" y="283" width="3" height="24" fill="#ff0000"/>
<rect x="1109" y="267" width="1" height="31" fill="#00ff00"/>
<rect x="1108" y="283" width="3" height="7" fill="#00ff00"/>
<rect x="1113" y="288" width="1" height="47" fill="#00ff00"/>
<rect x="1112" y="290" width="3" height="40" fill="#00ff00"/>
<rect x="1117" y="327" width="1" height="6" fill="#00ff00"/>
<rect x="1116" y="328" width="3" height="2" fill="#00ff00"/>
<rect x="1121" y="323" width="1" height="20" fill="#00ff00"/>
<rect x="1120" y="331" width="3" height="7" fill="#00ff00"/>
<rect x="1125" y="310" width="1" height="30" fill="#ff0000"/>
<rect x="1124" y="324" width="3" height="14" fill="#ff0000"/>
<rect x="1129" y="322" width="1" height="26" fill="#00ff00"/>
<rect x="1128" y="324" width="3" height="20" fill="#00ff00"/>
<rect x="1133" y="315" width="1" height="56" fill="#00ff00"/>
<rect x="1132" y="342" width="3" height="25" fill="#00ff00"/>
<rect x="1137" y="355" width="1" height="30" fill="#00ff00"/>
<rect x="1136" y="366" width="3" height="18" fill="#00ff00"/>
<rect x="1141" y="376" width="1" height="11" fill="#ff0000"/>
<rect x="1140" y="378" width="3" height="6" fill="#ff0000"/>
<rect x="1145" y="377" width="1" height="17" fill="#00ff00"/>
<rect x="1144" y="379" width="3" height="14" fill="#00ff00"/>
<rect x="1149" y="390" width="1" height="15" fill="#00ff00"/>
<rect x="1148" y="392" width="3" height="11" fill="#00ff00"/>
<rect x="1153" y="380" width="1" height="29" fill="#00ff00"/>
<rect x="1152" y="401" width="3" height="2" fill="#00ff00"/>
<rect x="1157" y="372" width="1" height="34" fill="#ff0000"/>
<rect x="1156" y="374" width="3" height="29" fill="#ff0000"/>
<rect x="1161" y="336" width="1" height="54" fill="#ff0000"/>
<rect x="1160" y="338" width="3" height="37" fill="#ff0000"/>
<rect x="1165" y="331" width="1" height="13" fill="#ff0000"/>
<rect x="1164" y="332" width="3" height="7" fill="#ff0000"/>
<rect x="1169" y="331" width="1" height="45" fill="#00ff00"/>
<rect x="1168" y="336" width="3" height="23" fill="#00ff00"/>
<rect x="1173" y="350" width="1" height="27" fill="#00ff00"/>
<rect x="1172" y="357" width="3" height="15" fill="#00ff00"/>
<rect x="1177" y="364" width="1" height="42" fill="#00ff00"/>
<rect x="1176" y="365" width="3" height="35" fill="#00ff00"/>
<rect x="1181" y="391" width="1" height="40" fill="#00ff00"/>
<rect x="1180" y="400" width="3" height="21" fill="#00ff00"/>
<rect x="1185" y="414" width="1" height="30" fill="#00ff00"/>
<rect x="1184" y="420" width="3" height="12" fill="#00ff00"/>
<rect x="1189" y="428" width="1" height="20" fill="#00ff00"/>
<rect x="1188" y="430" width="3" height="15" fill="#00ff00"/>
<rect x="1193" y="435" width="1" height="31" fill="#00ff00"/>
<rect x="1192" y="446" width="3" height="16" fill="#00ff00"/>
<rect x="1197" y="459" width="1" height="29" fill="#00ff00"/>
<rect x="1196" y="461" width="3" height="8" fill="#00ff00"/>
<rect x="1201" y="460" width="1" height="32" fill="#00ff00"/>
<rect x="1200" y="468" width="3" height="18" fill="#00ff00"/>
<rect x="1205" y="482" width="1" height="51" fill="#00ff00"/>
<rect x="1204" y="483" width="3" height="39" fill="#00ff00"/>
<rect x="1209" y="511" width="1" height="27" fill="#00ff00"/>
<rect x="1208" y="521" width="3" height="3" fill="#00ff00"/>
<rect x="1213" y="521" width="1" height="13" fill="#00ff00"/>
<rect x="1212" y="523" width="3" height="6" fill="#00ff00"/>
<rect x="1217" y="520" width="1" height="18" fill="#00ff00"/>
<rect x="1216" y="528" width="3" height="9" fill="#00ff00"/>
<rect x="1221" y="531" width="1" height="40" fill="#00ff00"/>
<rect x="1220" y="536" width="3" height="6" fill="#00ff00"/>
<rect x="1225" y="539" width="1" height="35" fill="#00ff00"/>
<rect x="1224" y="541" width="3" height="26" fill="#00ff00"/>
<rect x="1229" y="544" width="1" height="33" fill="#ff0000"/>
<rect x="1228" y="561" width="3" height="6" fill="#ff0000"/>
<rect x="1233" y="509" width="1" height="64" fill="#ff0000"/>
<rect x="1232" y="517" width="3" height="41" fill="#ff0000"/>
<rect x="1237" y="508" width="1" height="14" fill="#ff0000"/>
<rect x="1236" y="513" width="3" height="5" fill="#ff0000"/>
<rect x="1241" y="513" width="1" height="43" fill="#ff0000"/>
<rect x="1240" y="515" width="3" height="22" fill="#ff0000"/>
<rect x="1245" y="502" width="1" height="34" fill="#ff0000"/>
<rect x="1244" y="508" width="3" height="8" fill="#ff0000"/>
<rect x="1249" y="474" width="1" height="37" fill="#ff0000"/>
<rect x="1248" y="507" width="3" height="2" fill="#ff0000"/>
<rect x="1253" y="397" width="1" height="113" fill="#ff0000"/>
<rect x="1252" y="414" width="3" height="94" fill="#ff0000"/>
<rect x="1257" y="360" width="1" height="82" fill="#ff0000"/>
<rect x="1256" y="414" width="3" height="1" fill="#ff0000"/>
<rect x="1261" y="376" width="1" height="43" fill="#ff0000"/>
<rect x="1260" y="378" width="3" height="37" fill="#ff0000"/>
<rect x="1265" y="273" width="1" height="102" fill="#ff0000"/>
<rect x="1264" y="299" width="3" height="63" fill="#ff0000"/>
<rect x="1269" y="236" width="1" height="92" fill="#ff0000"/>
<rect x="1268" y="262" width="3" height="38" fill="#ff0000"/>
<rect x="1273" y="249" width="1" height="75" fill="#00ff00"/>
<rect x="1272" y="261" width="3" height="33" fill="#00ff00"/>
<rect x="1277" y="244" width="1" height="65" fill="#ff0000"/>
<rect x="1276" y="255" width="3" height="39" fill="#ff0000"/>
<rect x="1281" y="210" width="1" height="53" fill="#ff0000"/>
<rect x="1280" y="230" width="3" height="25" fill="#ff0000"/>
</g>
<clipPath id="cm"><rect x="5" y="24" width="1607" height="566"/></clipPath>
<g clip-path="url(#cm)">
<path d="M5 118h7v1h-7zM12 119h2v1h-2zM14 120h2v1h-2zM16 121h1v1h-1zM17 122h1v1h-1zM18 123h2v1h-2zM20 124h1v1h-1zM21 125h2v1h-2zM23 126h2v1h-2zM25 127h1v1h-1zM26 128h1v1h-1zM27 129h1v2h-1zM28 131h1v1h-1zM29 132h1v1h-1zM30 133h1v2h-1zM31 135h1v1h-1zM32 136h1v2h-1zM33 138h1v1h-1zM34 139h1v1h-1zM35 140h1v2h-1zM36 142h1v1h-1zM37 143h1v1h-1zM38 144h1v2h-1zM39 146h1v1h-1zM40 147h1v2h-1zM41 149h1v1h-1zM42 150h1v1h-1zM43 151h1v2h-1zM44 153h1v1h-1zM45 154h2v1h-2zM47 155h2v1h-2zM49 156h2v1h-2zM51 157h2v1h-2zM53 158h10v1h-10zM63 157h2v1h-2zM65 156h2v1h-2zM67 155h2v1h-2zM69 154h3v1h-3zM72 153h3v1h-3zM75 152h2v1h-2zM77 151h11v1h-11zM88 150h3v1h-3zM91 151h2v1h-2zM93 152h2v1h-2zM95 153h2v1h-2zM97 154h1v1h-1zM98 155h1v1h-1zM99 156h1v1h-1zM100 157h1v1h-1zM101 158h1v1h-1zM102 159h2v1h-2zM104 160h1v1h-1zM105 161h1v1h-1zM106 162h2v1h-2zM108 163h1v1h-1zM109 164h1v1h-1zM110 165h2v1h-2zM112 166h1v1h-1zM113 167h1v1h-1zM114 168h1v1h-1zM115 169h1v2h-1zM116 171h1v1h-1zM117 172h1v1h-1zM118 173h1v1h-1zM119 174h1v1h-1zM120 175h1v1h-1zM121 176h1v1h-1zM122 177h1v1h-1zM123 178h1v1h-1zM124 179h1v1h-1zM125 180h1v1h-1zM126 181h1v1h-1zM127 182h1v1h-1zM128 183h1v1h-1zM129 184h1v1h-1zM130 185h1v1h-1zM131 186h1v1h-1zM132 187h1v1h-1zM133 188h2v1h-2zM135 189h2v1h-2zM137 190h6v1h-6zM143 191h2v1h-2zM145 192h3v1h-3zM148 191h3v1h-3zM151 190h2v1h-2zM153 189h3v1h-3zM156 188h3v1h-3zM159 187h2v1h-2zM161 186h11v1h-11zM172 187h2v1h-2zM174 188h2v1h-2zM176 189h1v1h-1zM177 190h2v1h-2zM179 191h2v1h-2zM181 192h2v1h-2zM183 193h2v1h-2zM185 194h1v1h-1zM186 195h2v1h-2zM188 196h1v1h-1zM189 197h1v1h-1zM190 198h1v1h-1zM191 199h1v2h-1zM192 201h1v1h-1zM193 202h1v1h-1zM194 203h1v1h-1zM195 204h1v2h-1zM196 206h1v1h-1zM197 207h1v1h-1zM198 208h1v1h-1zM199 209h1v1h-1zM200 210h1v1h-1zM201 211h1v1h-1zM202 212h2v1h-2zM204 213h1v1h-1zM205 214h1v1h-1zM206 215h1v1h-1zM207 216h1v1h-1zM208 217h1v1h-1zM209 218h2v1h-2zM211 219h2v1h-2zM213 220h3v1h-3zM216 221h4v1h-4zM220 222h4v1h-4zM224 223h8v1h-8zM232 224h8v1h-8zM240 225h8v1h-8zM248 224h11v1h-11zM259 225h2v1h-2zM261 226h2v1h-2zM263 227h2v1h-2zM265 228h2v1h-2zM267 229h2v1h-2zM269 230h1v1h-1zM270 231h1v1h-1zM271 232h1v1h-1zM272 233h1v1h-1zM273 234h1v1h-1zM274 235h2v1h-2zM276 236h1v1h-1zM277 237h1v1h-1zM278 238h2v1h-2zM280 239h1v1h-1zM281 240h1v1h-1zM282 241h1v1h-1zM283 242h1v1h-1zM284 243h1v1h-1zM285 244h1v1h-1zM286 245h1v1h-1zM287 246h1v1h-1zM288 247h1v1h-1zM289 248h2v1h-2zM291 249h2v1h-2zM293 250h7v1h-7zM300 251h3v1h-3zM303 252h2v1h-2zM305 253h3v1h-3zM308 254h4v1h-4zM312 255h8v1h-8zM320 256h4v1h-4zM324 255h4v1h-4zM328 254h4v1h-4zM332 253h6v1h-6zM338 252h2v1h-2zM340 251h1v1h-1zM341 250h1v1h-1zM342 249h2v1h-2zM344 248h1v1h-1zM345 247h1v1h-1zM346 246h1v1h-1zM347 245h1v1h-1zM348 244h1v1h-1zM349 243h1v1h-1zM350 242h2v1h-2zM352 241h1v1h-1zM353 240h1v1h-1zM354 239h2v1h-2zM356 238h1v1h-1zM357 237h1v1h-1zM358 236h2v1h-2zM360 235h1v1h-1zM361 234h3v1h-3zM364 233h8v1h-8zM372 234h14v1h-14zM386 233h2v1h-2zM388 232h1v1h-1zM389 231h1v1h-1zM390 230h1v1h-1zM391 229h1v1h-1zM392 228h1v1h-1zM393 227h1v1h-1zM394 226h1v1h-1zM395 224h1v2h-1zM396 223h1v1h-1zM397 222h1v1h-1zM398 220h1v2h-1zM399 219h1v1h-1zM400 217h1v2h-1zM401 216h1v1h-1zM402 214h1v2h-1zM403 213h1v1h-1zM404 211h1v2h-1zM405 210h1v1h-1zM406 208h1v2h-1zM407 207h1v1h-1zM408 205h1v2h-1zM409 204h1v1h-1zM410 203h1v1h-1zM411 201h1v2h-1zM412 200h1v1h-1zM413 199h1v1h-1zM414 198h1v1h-1zM415 196h1v2h-1zM416 195h1v1h-1zM417 194h1v1h-1zM418 193h1v1h-1zM419 192h1v1h-1zM420 191h1v1h-1zM421 190h1v1h-1zM422 189h2v1h-2zM424 188h1v1h-1zM425 187h1v1h-1zM426 186h1v1h-1zM427 185h1v1h-1zM428 184h1v1h-1zM429 183h1v1h-1zM430 182h2v1h-2zM432 181h1v1h-1zM433 180h1v1h-1zM434 179h1v1h-1zM435 178h1v1h-1zM436 177h1v1h-1zM437 176h2v1h-2zM439 175h2v1h-2zM441 174h3v1h-3zM444 173h8v1h-8zM452 174h4v1h-4zM456 173h4v1h-4zM460 174h3v1h-3zM463 175h2v1h-2zM465 176h2v1h-2zM467 177h2v1h-2zM469 178h3v1h-3zM472 179h2v1h-2zM474 180h2v1h-2zM476 181h1v1h-1zM477 182h2v1h-2zM479 183h2v1h-2zM481 184h3v1h-3zM484 185h8v1h-8zM492 184h4v1h-4zM496 185h4v1h-4zM500 186h3v1h-3zM503 187h2v1h-2zM505 188h1v1h-1zM506 189h2v1h-2zM508 190h1v1h-1zM509 191h1v1h-1zM510 192h1v2h-1zM511 194h1v1h-1zM512 195h1v2h-1zM513 197h1v1h-1zM514 198h1v2h-1zM515 200h1v1h-1zM516 201h1v2h-1zM517 203h1v1h-1zM518 204h1v2h-1zM519 206h1v2h-1zM520 208h1v2h-1zM521 210h1v1h-1zM522 211h1v2h-1zM523 213h1v1h-1zM524 214h1v2h-1zM525 216h1v1h-1zM526 217h1v2h-1zM527 219h1v1h-1zM528 220h1v2h-1zM529 222h1v2h-1zM530 224h1v2h-1zM531 226h1v2h-1zM532 228h1v2h-1zM533 230h1v1h-1zM534 231h1v2h-1zM535 233h1v2h-1zM536 235h1v2h-1zM537 237h1v1h-1zM538 238h1v2h-1zM539 240h1v2h-1zM540 242h1v2h-1zM541 244h1v1h-1zM542 245h2v1h-2zM544 246h1v1h-1zM545 247h1v1h-1zM546 248h2v1h-2zM548 249h1v1h-1zM549 250h3v1h-3zM552 251h3v1h-3zM555 252h2v1h-2zM557 253h15v1h-15zM572 254h2v1h-2zM574 255h2v1h-2zM576 256h1v1h-1zM577 257h1v1h-1zM578 258h1v1h-1zM579 259h1v1h-1zM580 260h1v1h-1zM581 261h1v1h-1zM582 262h1v1h-1zM583 263h1v1h-1zM584 264h1v1h-1zM585 265h1v1h-1zM586 266h1v1h-1zM587 267h1v2h-1zM588 269h1v1h-1zM589 270h1v1h-1zM590 271h1v1h-1zM591 272h1v1h-1zM592 273h1v1h-1zM593 274h1v1h-1zM594 275h2v1h-2zM596 276h1v1h-1zM597 277h1v1h-1zM598 278h1v1h-1zM599 279h1v1h-1zM600 280h1v1h-1zM601 281h1v1h-1zM602 282h2v1h-2zM604 283h1v1h-1zM605 284h2v1h-2zM607 285h2v1h-2zM609 286h2v1h-2zM611 287h2v1h-2zM613 288h1v1h-1zM614 289h2v1h-2zM616 290h1v1h-1zM617 291h3v1h-3zM620 292h3v1h-3zM623 293h2v1h-2zM625 294h2v1h-2zM627 295h2v1h-2zM629 296h1v1h-1zM630 297h1v1h-1zM631 298h1v1h-1zM632 299h1v1h-1zM633 300h1v1h-1zM634 301h1v1h-1zM635 302h1v1h-1zM636 303h1v1h-1zM637 304h1v1h-1zM638 305h1v1h-1zM639 306h1v1h-1zM640 307h1v1h-1zM641 308h1v1h-1zM642 309h1v1h-1zM643 310h1v2h-1zM644 312h1v1h-1zM645 313h1v1h-1zM646 314h2v1h-2zM648 315h1v1h-1zM649 316h3v1h-3zM652 317h4v1h-4zM656 318h3v1h-3zM659 319h2v1h-2zM661 320h1v1h-1zM662 321h1v1h-1zM663 322h1v1h-1zM664 323h1v1h-1zM665 324h1v1h-1zM666 325h1v1h-1zM667 326h1v1h-1zM668 327h1v1h-1zM669 328h1v1h-1zM670 329h1v2h-1zM671 331h1v1h-1zM672 332h1v2h-1zM673 334h1v1h-1zM674 335h1v1h-1zM675 336h1v1h-1zM676 337h1v1h-1zM677 338h1v1h-1zM678 339h2v1h-2zM680 340h1v1h-1zM681 341h1v1h-1zM682 342h1v1h-1zM683 343h1v1h-1zM684 344h1v1h-1zM685 345h1v1h-1zM686 346h1v1h-1zM687 347h1v2h-1zM688 349h1v1h-1zM689 350h1v1h-1zM690 351h1v1h-1zM691 352h1v1h-1zM692 353h1v1h-1zM693 354h2v1h-2zM695 355h2v1h-2zM697 356h3v1h-3zM700 357h2v1h-2zM702 358h2v1h-2zM704 359h1v1h-1zM705 360h2v1h-2zM707 361h2v1h-2zM709 362h1v1h-1zM710 363h2v1h-2zM712 364h1v1h-1zM713 365h2v1h-2zM715 366h2v1h-2zM717 367h1v1h-1zM718 368h1v1h-1zM719 369h1v1h-1zM720 370h1v1h-1zM721 371h1v1h-1zM722 372h1v1h-1zM723 373h1v1h-1zM724 374h1v1h-1zM725 375h1v1h-1zM726 376h1v1h-1zM727 377h1v2h-1zM728 379h1v1h-1zM729 380h1v1h-1zM730 381h1v2h-1zM731 383h1v1h-1zM732 384h1v2h-1zM733 386h1v1h-1zM734 387h1v1h-1zM735 388h1v2h-1zM736 390h1v1h-1zM737 391h1v1h-1zM738 392h1v1h-1zM739 393h1v1h-1zM740 394h1v1h-1zM741 395h1v1h-1zM742 396h1v1h-1zM743 397h1v1h-1zM744 398h1v1h-1zM745 399h2v1h-2zM747 400h2v1h-2zM749 401h11v1h-11zM760 400h4v1h-4zM764 401h4v1h-4zM768 402h4v1h-4zM772 403h8v1h-8zM780 402h4v1h-4zM784 403h7v1h-7zM791 402h2v1h-2zM793 401h3v1h-3zM796 400h3v1h-3zM799 399h2v1h-2zM801 398h1v1h-1zM802 397h2v1h-2zM804 396h1v1h-1zM805 395h1v1h-1zM806 394h2v1h-2zM808 393h1v1h-1zM809 392h2v1h-2zM811 391h2v1h-2zM813 390h2v1h-2zM815 389h2v1h-2zM817 388h3v1h-3zM820 387h3v1h-3zM823 386h2v1h-2zM825 385h2v1h-2zM827 384h2v1h-2zM829 383h1v1h-1zM830 382h2v1h-2zM832 381h1v1h-1zM833 380h1v1h-1zM834 379h2v1h-2zM836 378h1v1h-1zM837 377h1v1h-1zM838 376h1v1h-1zM839 375h1v1h-1zM840 374h1v1h-1zM841 373h1v1h-1zM842 371h1v2h-1zM843 370h1v1h-1zM844 368h1v2h-1zM845 367h1v1h-1zM846 365h1v2h-1zM847 364h1v1h-1zM848 362h1v2h-1zM849 361h1v1h-1zM850 359h1v2h-1zM851 358h1v1h-1zM852 356h1v2h-1zM853 355h1v1h-1zM854 353h1v2h-1zM855 352h1v1h-1zM856 350h1v2h-1zM857 349h1v1h-1zM858 348h1v1h-1zM859 347h1v1h-1zM860 346h1v1h-1zM861 345h1v1h-1zM862 344h2v1h-2zM864 343h1v1h-1zM865 342h2v1h-2zM867 341h2v1h-2zM869 340h3v1h-3zM872 339h4v1h-4zM876 338h4v1h-4zM880 337h3v1h-3zM883 336h2v1h-2zM885 335h3v1h-3zM888 334h4v1h-4zM892 335h4v1h-4zM896 334h8v1h-8zM904 333h4v1h-4zM908 332h8v1h-8zM916 333h2v1h-2zM918 334h2v1h-2zM920 335h1v1h-1zM921 336h1v1h-1zM922 337h1v1h-1zM923 338h1v1h-1zM924 339h1v1h-1zM925 340h1v1h-1zM926 341h2v1h-2zM928 342h1v1h-1zM929 343h1v1h-1zM930 344h1v1h-1zM931 345h1v1h-1zM932 346h1v1h-1zM933 347h1v1h-1zM934 348h2v1h-2zM936 349h1v1h-1zM937 350h2v1h-2zM939 351h2v1h-2zM941 352h2v1h-2zM943 353h2v1h-2zM945 354h3v1h-3zM948 355h4v1h-4zM952 356h4v1h-4zM956 357h4v1h-4zM960 358h4v1h-4zM964 359h2v1h-2zM966 360h2v1h-2zM968 361h1v1h-1zM969 362h1v1h-1zM970 363h2v1h-2zM972 364h1v1h-1zM973 365h2v1h-2zM975 366h2v1h-2zM977 367h10v1h-10zM987 366h2v1h-2zM989 365h1v1h-1zM990 364h2v1h-2zM992 363h1v1h-1zM993 362h1v1h-1zM994 361h2v1h-2zM996 360h1v1h-1zM997 359h2v1h-2zM999 358h2v1h-2zM1001 357h1v1h-1zM1002 356h1v1h-1zM1003 355h1v1h-1zM1004 354h1v1h-1zM1005 353h1v1h-1zM1006 352h2v1h-2zM1008 351h1v1h-1zM1009 350h1v1h-1zM1010 349h2v1h-2zM1012 348h1v1h-1zM1013 347h3v1h-3zM1016 346h8v1h-8zM1024 345h12v1h-12zM1036 344h2v1h-2zM1038 343h2v1h-2zM1040 342h1v1h-1zM1041 341h1v1h-1zM1042 340h1v1h-1zM1043 339h1v1h-1zM1044 338h1v1h-1zM1045 337h1v1h-1zM1046 336h1v1h-1zM1047 334h1v2h-1zM1048 333h1v1h-1zM1049 332h1v1h-1zM1050 330h1v2h-1zM1051 329h1v1h-1zM1052 327h1v2h-1zM1053 326h1v1h-1zM1054 324h1v2h-1zM1055 323h1v1h-1zM1056 321h1v2h-1zM1057 320h1v1h-1zM1058 319h1v1h-1zM1059 317h1v2h-1zM1060 316h1v1h-1zM1061 315h1v1h-1zM1062 314h2v1h-2zM1064 313h1v1h-1zM1065 312h1v1h-1zM1066 311h1v1h-1zM1067 310h1v1h-1zM1068 309h1v1h-1zM1069 308h1v1h-1zM1070 307h2v1h-2zM1072 306h1v1h-1zM1073 305h2v1h-2zM1075 304h2v1h-2zM1077 303h7v1h-7zM1084 302h4v1h-4zM1088 301h3v1h-3zM1091 300h2v1h-2zM1093 299h2v1h-2zM1095 298h2v1h-2zM1097 297h3v1h-3zM1100 296h4v1h-4zM1104 295h4v1h-4zM1108 294h4v1h-4zM1112 295h4v1h-4zM1116 296h4v1h-4zM1120 297h3v1h-3zM1123 298h2v1h-2zM1125 299h3v1h-3zM1128 300h3v1h-3zM1131 301h2v1h-2zM1133 302h3v1h-3zM1136 303h4v1h-4zM1140 304h3v1h-3zM1143 305h2v1h-2zM1145 306h2v1h-2zM1147 307h2v1h-2zM1149 308h1v1h-1zM1150 309h2v1h-2zM1152 310h1v1h-1zM1153 311h3v1h-3zM1156 312h3v1h-3zM1159 313h2v1h-2zM1161 314h1v1h-1zM1162 315h2v1h-2zM1164 316h1v1h-1zM1165 317h1v1h-1zM1166 318h1v1h-1zM1167 319h1v1h-1zM1168 320h1v1h-1zM1169 321h1v1h-1zM1170 322h1v1h-1zM1171 323h1v2h-1zM1172 325h1v1h-1zM1173 326h1v1h-1zM1174 327h1v1h-1zM1175 328h1v2h-1zM1176 330h1v1h-1zM1177 331h1v1h-1zM1178 332h1v2h-1zM1179 334h1v1h-1zM1180 335h1v2h-1zM1181 337h1v1h-1zM1182 338h1v1h-1zM1183 339h1v2h-1zM1184 341h1v1h-1zM1185 342h1v1h-1zM1186 343h1v2h-1zM1187 345h1v1h-1zM1188 346h1v2h-1zM1189 348h1v1h-1zM1190 349h1v2h-1zM1191 351h1v2h-1zM1192 353h1v2h-1zM1193 355h1v1h-1zM1194 356h1v2h-1zM1195 358h1v1h-1zM1196 359h1v2h-1zM1197 361h1v1h-1zM1198 362h1v2h-1zM1199 364h1v1h-1zM1200 365h1v2h-1zM1201 367h1v1h-1zM1202 368h1v2h-1zM1203 370h1v1h-1zM1204 371h1v2h-1zM1205 373h1v1h-1zM1206 374h1v2h-1zM1207 376h1v2h-1zM1208 378h1v2h-1zM1209 380h1v2h-1zM1210 382h1v2h-1zM1211 384h1v2h-1zM1212 386h1v2h-1zM1213 388h1v2h-1zM1214 390h1v2h-1zM1215 392h1v2h-1zM1216 394h1v2h-1zM1217 396h1v2h-1zM1218 398h1v2h-1zM1219 400h1v2h-1zM1220 402h1v2h-1zM1221 404h1v2h-1zM1222 406h1v2h-1zM1223 408h1v2h-1zM1224 410h1v2h-1zM1225 412h1v3h-1zM1226 415h1v2h-1zM1227 417h1v2h-1zM1228 419h1v2h-1zM1229 421h1v2h-1zM1230 423h1v2h-1zM1231 425h1v1h-1zM1232 426h1v2h-1zM1233 428h1v1h-1zM1234 429h1v2h-1zM1235 431h1v2h-1zM1236 433h1v2h-1zM1237 435h1v1h-1zM1238 436h1v1h-1zM1239 437h1v2h-1zM1240 439h1v1h-1zM1241 440h1v1h-1zM1242 441h1v2h-1zM1243 443h1v2h-1zM1244 445h1v2h-1zM1245 447h1v1h-1zM1246 448h1v1h-1zM1247 449h1v2h-1zM1248 451h1v1h-1zM1249 452h2v1h-2zM1251 453h2v1h-2zM1253 454h3v1h-3zM1256 455h6v1h-6zM1262 454h1v1h-1zM1263 453h1v1h-1zM1264 452h1v1h-1zM1265 451h1v1h-1zM1266 450h1v1h-1zM1267 449h1v1h-1zM1268 448h1v1h-1zM1269 447h1v1h-1zM1270 446h1v1h-1zM1271 445h1v1h-1zM1272 444h1v1h-1zM1273 443h1v1h-1zM1274 442h1v1h-1zM1275 441h1v1h-1zM1276 440h1v1h-1zM1277 439h1v1h-1zM1278 438h2v1h-2zM1280 437h1v1h-1zM1281 436h1v1h-1z" fill="#0000cd" shape-rendering="crispEdges"/>
<path d="M5 141h1v1h-1zM6 140h1v1h-1zM7 138h1v2h-1zM8 137h1v1h-1zM9 136h1v1h-1zM10 135h2v1h-2zM12 134h1v1h-1zM13 133h2v1h-2zM15 132h2v1h-2zM17 131h3v1h-3zM20 130h4v1h-4zM24 129h2v1h-2zM26 130h1v2h-1zM27 132h1v1h-1zM28 133h1v2h-1zM29 135h1v1h-1zM30 136h1v1h-1zM31 137h1v2h-1zM32 139h1v1h-1zM33 140h1v1h-1zM34 141h1v2h-1zM35 143h1v2h-1zM36 145h1v2h-1zM37 147h1v1h-1zM38 148h1v2h-1zM39 150h1v2h-1zM40 152h1v2h-1zM41 154h1v1h-1zM42 155h1v1h-1zM43 156h1v1h-1zM44 157h1v1h-1zM45 158h3v1h-3zM48 159h2v1h-2zM50 160h1v1h-1zM51 161h1v1h-1zM52 162h1v1h-1zM53 163h1v1h-1zM54 164h2v1h-2zM56 165h1v1h-1zM57 166h1v1h-1zM58 167h1v1h-1zM59 168h1v1h-1zM60 169h1v1h-1zM61 170h1v1h-1zM62 171h2v1h-2zM64 172h1v1h-1zM65 173h7v1h-7zM72 172h2v1h-2zM74 171h1v1h-1zM75 170h1v1h-1zM76 169h1v1h-1zM77 168h2v1h-2zM79 169h2v1h-2zM81 170h1v1h-1zM82 169h2v1h-2zM84 168h1v1h-1zM85 167h1v1h-1zM86 166h1v1h-1zM87 164h1v2h-1zM88 163h1v1h-1zM89 162h2v1h-2zM91 161h2v1h-2zM93 160h3v1h-3zM96 159h3v1h-3zM99 160h2v1h-2zM101 161h1v1h-1zM102 162h1v1h-1zM103 163h1v2h-1zM104 165h1v1h-1zM105 166h1v1h-1zM106 167h1v1h-1zM107 168h1v1h-1zM108 169h1v1h-1zM109 170h1v1h-1zM110 171h1v2h-1zM111 173h1v2h-1zM112 175h1v2h-1zM113 177h1v1h-1zM114 178h1v2h-1zM115 180h1v2h-1zM116 182h1v2h-1zM117 184h1v1h-1zM118 185h1v1h-1zM119 186h1v2h-1zM120 188h1v1h-1zM121 189h1v2h-1zM122 191h1v2h-1zM123 193h1v2h-1zM124 195h1v2h-1zM125 197h1v1h-1zM126 198h1v2h-1zM127 200h1v2h-1zM128 202h1v2h-1zM129 204h1v2h-1zM130 206h1v2h-1zM131 208h1v2h-1zM132 210h1v2h-1zM133 212h3v1h-3zM136 213h4v1h-4zM140 214h2v1h-2zM142 215h1v1h-1zM143 216h1v1h-1zM144 217h1v1h-1zM145 218h3v1h-3zM148 219h2v1h-2zM150 218h2v1h-2zM152 217h1v1h-1zM153 216h1v1h-1zM154 215h1v1h-1zM155 214h1v1h-1zM156 213h1v1h-1zM157 212h1v1h-1zM158 211h1v1h-1zM159 210h1v1h-1zM160 209h1v1h-1zM161 208h1v1h-1zM162 207h1v1h-1zM163 206h1v1h-1zM164 205h1v1h-1zM165 204h1v1h-1zM166 203h1v1h-1zM167 201h1v2h-1zM168 200h1v1h-1zM169 199h1v1h-1zM170 198h2v1h-2zM172 197h1v1h-1zM173 196h3v1h-3zM176 197h3v1h-3zM179 196h2v1h-2zM181 195h2v1h-2zM183 194h2v1h-2zM185 193h5v1h-5zM190 194h1v1h-1zM191 195h1v1h-1zM192 196h1v1h-1zM193 197h1v2h-1zM194 199h1v2h-1zM195 201h1v2h-1zM196 203h1v2h-1zM197 205h1v1h-1zM198 206h1v2h-1zM199 208h1v1h-1zM200 209h1v2h-1zM201 211h1v1h-1zM202 212h1v2h-1zM203 214h1v1h-1zM204 215h1v2h-1zM205 217h1v2h-1zM206 219h1v2h-1zM207 221h1v2h-1zM208 223h1v2h-1zM209 225h1v1h-1zM210 226h1v1h-1zM211 227h1v2h-1zM212 229h1v1h-1zM213 230h1v1h-1zM214 231h2v1h-2zM216 232h1v1h-1zM217 233h1v1h-1zM218 234h1v2h-1zM219 236h1v1h-1zM220 237h1v2h-1zM221 239h1v1h-1zM222 240h1v2h-1zM223 242h1v1h-1zM224 243h1v2h-1zM225 245h1v1h-1zM226 246h2v1h-2zM228 247h1v1h-1zM229 248h3v1h-3zM232 249h2v1h-2zM234 250h1v1h-1zM235 251h1v1h-1zM236 252h1v1h-1zM237 253h1v1h-1zM238 254h2v1h-2zM240 255h1v1h-1zM241 256h3v1h-3zM244 255h2v1h-2zM246 254h2v1h-2zM248 253h1v1h-1zM249 252h1v1h-1zM250 251h1v1h-1zM251 249h1v2h-1zM252 248h1v1h-1zM253 247h1v1h-1zM254 246h1v1h-1zM255 245h1v1h-1zM256 244h1v1h-1zM257 243h1v1h-1zM258 242h2v1h-2zM260 241h1v1h-1zM261 240h1v1h-1zM262 239h2v1h-2zM264 238h1v1h-1zM265 237h2v1h-2zM267 238h2v1h-2zM269 239h1v1h-1zM270 240h1v1h-1zM271 241h1v1h-1zM272 242h1v1h-1zM273 243h2v1h-2zM275 244h2v1h-2zM277 245h3v1h-3zM280 246h3v1h-3zM283 247h2v1h-2zM285 248h2v1h-2zM287 249h2v1h-2zM289 250h3v1h-3zM292 251h8v1h-8zM300 252h2v1h-2zM302 253h2v1h-2zM304 254h1v1h-1zM305 255h1v1h-1zM306 256h2v1h-2zM308 257h1v1h-1zM309 258h1v1h-1zM310 259h1v2h-1zM311 261h1v1h-1zM312 262h1v2h-1zM313 264h1v1h-1zM314 265h2v1h-2zM316 266h1v1h-1zM317 267h1v1h-1zM318 268h1v1h-1zM319 269h1v1h-1zM320 270h1v1h-1zM321 271h6v1h-6zM327 270h2v1h-2zM329 269h1v1h-1zM330 268h1v1h-1zM331 266h1v2h-1zM332 265h1v1h-1zM333 264h1v1h-1zM334 263h1v1h-1zM335 262h1v1h-1zM336 261h1v1h-1zM337 260h1v1h-1zM338 258h1v2h-1zM339 256h1v2h-1zM340 254h1v2h-1zM341 252h1v2h-1zM342 250h1v2h-1zM343 247h1v3h-1zM344 245h1v2h-1zM345 242h1v3h-1zM346 240h1v2h-1zM347 238h1v2h-1zM348 236h1v2h-1zM349 234h1v2h-1zM350 232h1v2h-1zM351 231h1v1h-1zM352 229h1v2h-1zM353 228h1v1h-1zM354 226h1v2h-1zM355 225h1v1h-1zM356 223h1v2h-1zM357 222h1v1h-1zM358 220h1v2h-1zM359 218h1v2h-1zM360 216h1v2h-1zM361 215h1v1h-1zM362 213h1v2h-1zM363 212h1v1h-1zM364 210h1v2h-1zM365 209h1v1h-1zM366 208h1v1h-1zM367 207h1v1h-1zM368 206h1v1h-1zM369 205h1v1h-1zM370 204h1v1h-1zM371 203h1v1h-1zM372 202h1v1h-1zM373 201h1v1h-1zM374 200h1v1h-1zM375 198h1v2h-1zM376 197h1v1h-1zM377 196h3v1h-3zM380 195h6v1h-6zM386 194h2v1h-2zM388 193h1v1h-1zM389 192h1v1h-1zM390 191h1v1h-1zM391 189h1v2h-1zM392 188h1v1h-1zM393 187h1v1h-1zM394 186h1v1h-1zM395 185h1v1h-1zM396 184h1v1h-1zM397 183h1v1h-1zM398 182h1v1h-1zM399 181h1v1h-1zM400 180h1v1h-1zM401 179h2v1h-2zM403 178h2v1h-2zM405 177h1v1h-1zM406 176h1v1h-1zM407 174h1v2h-1zM408 173h1v1h-1zM409 172h1v1h-1zM410 171h2v1h-2zM412 170h1v1h-1zM413 169h1v1h-1zM414 168h2v1h-2zM416 167h1v1h-1zM417 166h1v1h-1zM418 164h1v2h-1zM419 163h1v1h-1zM420 161h1v2h-1zM421 160h1v1h-1zM422 159h1v1h-1zM423 157h1v2h-1zM424 156h1v1h-1zM425 155h1v1h-1zM426 154h1v1h-1zM427 152h1v2h-1zM428 151h1v1h-1zM429 150h1v1h-1zM430 149h2v1h-2zM432 148h1v1h-1zM433 147h1v1h-1zM434 146h1v1h-1zM435 144h1v2h-1zM436 143h1v1h-1zM437 142h5v1h-5zM442 143h1v1h-1zM443 144h1v1h-1zM444 145h1v1h-1zM445 146h1v1h-1zM446 147h1v2h-1zM447 149h1v2h-1zM448 151h1v2h-1zM449 153h1v2h-1zM450 155h1v2h-1zM451 157h1v2h-1zM452 159h1v2h-1zM453 161h1v2h-1zM454 163h1v2h-1zM455 165h1v2h-1zM456 167h1v2h-1zM457 169h1v1h-1zM458 170h1v2h-1zM459 172h1v2h-1zM460 174h1v2h-1zM461 176h1v1h-1zM462 177h1v2h-1zM463 179h1v2h-1zM464 181h1v2h-1zM465 183h1v1h-1zM466 184h1v2h-1zM467 186h1v1h-1zM468 187h1v2h-1zM469 189h1v1h-1zM470 190h1v2h-1zM471 192h1v1h-1zM472 193h1v2h-1zM473 195h1v2h-1zM474 197h1v2h-1zM475 199h1v3h-1zM476 202h1v2h-1zM477 204h1v2h-1zM478 206h1v1h-1zM479 207h1v1h-1zM480 208h1v1h-1zM481 209h1v1h-1zM482 210h1v1h-1zM483 211h1v1h-1zM484 212h1v1h-1zM485 213h1v1h-1zM486 214h2v1h-2zM488 215h1v1h-1zM489 216h1v1h-1zM490 217h2v1h-2zM492 218h1v1h-1zM493 219h5v1h-5zM498 220h1v1h-1zM499 221h1v1h-1zM500 222h1v1h-1zM501 223h1v1h-1zM502 224h1v1h-1zM503 225h1v1h-1zM504 226h1v1h-1zM505 227h1v1h-1zM506 228h2v1h-2zM508 229h1v1h-1zM509 230h1v2h-1zM510 232h1v2h-1zM511 234h1v2h-1zM512 236h1v2h-1zM513 238h1v1h-1zM514 239h1v2h-1zM515 241h1v2h-1zM516 243h1v2h-1zM517 245h1v1h-1zM518 246h1v2h-1zM519 248h1v2h-1zM520 250h1v2h-1zM521 252h1v1h-1zM522 253h1v2h-1zM523 255h1v1h-1zM524 256h1v2h-1zM525 258h1v2h-1zM526 260h1v2h-1zM527 262h1v2h-1zM528 264h1v2h-1zM529 266h1v2h-1zM530 268h1v2h-1zM531 270h1v2h-1zM532 272h1v2h-1zM533 274h1v1h-1zM534 275h1v2h-1zM535 277h1v2h-1zM536 279h1v2h-1zM537 281h1v1h-1zM538 282h1v2h-1zM539 284h1v1h-1zM540 285h1v2h-1zM541 287h3v1h-3zM544 288h3v1h-3zM547 289h2v1h-2zM549 290h3v1h-3zM552 289h2v1h-2zM554 288h2v1h-2zM556 287h1v1h-1zM557 286h1v1h-1zM558 285h1v1h-1zM559 283h1v2h-1zM560 282h1v1h-1zM561 281h1v1h-1zM562 280h2v1h-2zM564 279h1v1h-1zM565 278h1v1h-1zM566 277h1v1h-1zM567 275h1v2h-1zM568 274h1v1h-1zM569 273h1v1h-1zM570 272h2v1h-2zM572 271h1v1h-1zM573 270h5v1h-5zM578 271h2v1h-2zM580 272h1v1h-1zM581 273h2v1h-2zM583 274h2v1h-2zM585 275h2v1h-2zM587 274h2v1h-2zM589 273h3v1h-3zM592 274h4v1h-4zM596 275h2v1h-2zM598 276h1v1h-1zM599 277h1v2h-1zM600 279h1v1h-1zM601 280h1v1h-1zM602 281h1v2h-1zM603 283h1v1h-1zM604 284h1v2h-1zM605 286h1v1h-1zM606 287h1v1h-1zM607 288h1v2h-1zM608 290h1v1h-1zM609 291h1v1h-1zM610 292h2v1h-2zM612 293h1v1h-1zM613 294h1v1h-1zM614 295h1v2h-1zM615 297h1v2h-1zM616 299h1v2h-1zM617 301h1v1h-1zM618 302h1v2h-1zM619 304h1v1h-1zM620 305h1v2h-1zM621 307h1v1h-1zM622 308h1v2h-1zM623 310h1v2h-1zM624 312h1v2h-1zM625 314h1v1h-1zM626 315h1v2h-1zM627 317h1v2h-1zM628 319h1v2h-1zM629 321h1v2h-1zM630 323h1v2h-1zM631 325h1v2h-1zM632 327h1v2h-1zM633 329h1v2h-1zM634 331h1v2h-1zM635 333h1v2h-1zM636 335h1v2h-1zM637 337h1v1h-1zM638 338h1v2h-1zM639 340h1v2h-1zM640 342h1v2h-1zM641 344h1v1h-1zM642 345h1v2h-1zM643 347h1v2h-1zM644 349h1v2h-1zM645 351h1v1h-1zM646 352h1v1h-1zM647 353h1v1h-1zM648 354h1v1h-1zM649 355h1v1h-1zM650 356h2v1h-2zM652 357h1v1h-1zM653 358h1v1h-1zM654 359h2v1h-2zM656 360h1v1h-1zM657 361h1v1h-1zM658 362h1v1h-1zM659 363h1v1h-1zM660 364h1v1h-1zM661 365h1v1h-1zM662 366h1v1h-1zM663 367h1v2h-1zM664 369h1v1h-1zM665 370h1v1h-1zM666 371h1v2h-1zM667 373h1v1h-1zM668 374h1v2h-1zM669 376h1v1h-1zM670 377h1v2h-1zM671 379h1v1h-1zM672 380h1v2h-1zM673 382h3v1h-3zM676 383h12v1h-12zM688 382h2v1h-2zM690 381h1v1h-1zM691 379h1v2h-1zM692 378h1v1h-1zM693 377h1v1h-1zM694 376h1v1h-1zM695 374h1v2h-1zM696 373h1v1h-1zM697 372h1v1h-1zM698 371h1v1h-1zM699 370h1v1h-1zM700 369h1v1h-1zM701 368h3v1h-3zM704 369h4v1h-4zM708 370h2v1h-2zM710 371h2v1h-2zM712 372h1v1h-1zM713 373h2v1h-2zM715 374h2v1h-2zM717 375h1v1h-1zM718 376h1v2h-1zM719 378h1v1h-1zM720 379h1v2h-1zM721 381h1v1h-1zM722 382h1v2h-1zM723 384h1v1h-1zM724 385h1v2h-1zM725 387h1v1h-1zM726 388h2v1h-2zM728 389h1v1h-1zM729 390h1v1h-1zM730 391h1v2h-1zM731 393h1v2h-1zM732 395h1v2h-1zM733 397h1v2h-1zM734 399h1v2h-1zM735 401h1v3h-1zM736 404h1v2h-1zM737 406h1v3h-1zM738 409h1v2h-1zM739 411h1v2h-1zM740 413h1v2h-1zM741 415h1v1h-1zM742 416h2v1h-2zM744 417h1v1h-1zM745 418h1v1h-1zM746 419h1v1h-1zM747 420h1v1h-1zM748 421h1v1h-1zM749 422h1v1h-1zM750 423h1v1h-1zM751 424h1v1h-1zM752 425h1v1h-1zM753 426h1v1h-1zM754 427h1v1h-1zM755 428h1v1h-1zM756 429h1v1h-1zM757 430h3v1h-3zM760 431h2v1h-2zM762 432h1v1h-1zM763 433h1v1h-1zM764 434h1v1h-1zM765 435h3v1h-3zM768 436h4v1h-4zM772 435h2v1h-2zM774 434h1v1h-1zM775 432h1v2h-1zM776 431h1v1h-1zM777 430h1v1h-1zM778 428h1v2h-1zM779 427h1v1h-1zM780 425h1v2h-1zM781 424h1v1h-1zM782 423h1v1h-1zM783 421h1v2h-1zM784 420h1v1h-1zM785 419h1v1h-1zM786 418h1v1h-1zM787 416h1v2h-1zM788 415h1v1h-1zM789 413h1v2h-1zM790 411h1v2h-1zM791 408h1v3h-1zM792 406h1v2h-1zM793 403h1v3h-1zM794 400h1v3h-1zM795 398h1v2h-1zM796 395h1v3h-1zM797 392h1v3h-1zM798 389h1v3h-1zM799 386h1v3h-1zM800 383h1v3h-1zM801 380h1v3h-1zM802 378h1v2h-1zM803 376h1v2h-1zM804 374h1v2h-1zM805 371h1v3h-1zM806 369h1v2h-1zM807 366h1v3h-1zM808 364h1v2h-1zM809 361h1v3h-1zM810 359h1v2h-1zM811 357h1v2h-1zM812 355h1v2h-1zM813 353h1v2h-1zM814 351h1v2h-1zM815 349h1v2h-1zM816 347h1v2h-1zM817 345h1v2h-1zM818 343h1v2h-1zM819 341h1v2h-1zM820 339h1v2h-1zM821 338h1v1h-1zM822 336h1v2h-1zM823 335h1v1h-1zM824 333h1v2h-1zM825 332h1v1h-1zM826 331h2v1h-2zM828 330h1v1h-1zM829 329h1v1h-1zM830 328h1v1h-1zM831 327h1v1h-1zM832 326h1v1h-1zM833 325h1v1h-1zM834 324h1v1h-1zM835 323h1v1h-1zM836 322h1v1h-1zM837 321h1v1h-1zM838 320h1v1h-1zM839 318h1v2h-1zM840 317h1v1h-1zM841 316h1v1h-1zM842 314h1v2h-1zM843 312h1v2h-1zM844 310h1v2h-1zM845 309h1v1h-1zM846 308h1v1h-1zM847 306h1v2h-1zM848 305h1v1h-1zM849 304h2v1h-2zM851 303h2v1h-2zM853 302h5v1h-5zM858 303h1v1h-1zM859 304h1v2h-1zM860 306h1v1h-1zM861 307h1v1h-1zM862 308h1v1h-1zM863 309h1v1h-1zM864 310h1v1h-1zM865 311h1v1h-1zM866 312h1v1h-1zM867 313h1v2h-1zM868 315h1v1h-1zM869 316h1v1h-1zM870 317h1v2h-1zM871 319h1v1h-1zM872 320h1v2h-1zM873 322h1v1h-1zM874 323h1v1h-1zM875 324h1v1h-1zM876 325h1v1h-1zM877 326h2v1h-2zM879 327h2v1h-2zM881 328h1v1h-1zM882 329h1v1h-1zM883 330h1v1h-1zM884 331h1v1h-1zM885 332h1v1h-1zM886 333h1v1h-1zM887 334h1v2h-1zM888 336h1v1h-1zM889 337h1v1h-1zM890 338h1v2h-1zM891 340h1v1h-1zM892 341h1v2h-1zM893 343h1v1h-1zM894 344h1v1h-1zM895 345h1v1h-1zM896 346h1v1h-1zM897 347h1v1h-1zM898 348h1v2h-1zM899 350h1v1h-1zM900 351h1v2h-1zM901 353h1v1h-1zM902 354h1v1h-1zM903 355h1v2h-1zM904 357h1v1h-1zM905 358h1v1h-1zM906 359h1v1h-1zM907 360h1v1h-1zM908 361h1v1h-1zM909 362h1v1h-1zM910 363h1v1h-1zM911 364h1v2h-1zM912 366h1v1h-1zM913 367h6v1h-6zM919 368h2v1h-2zM921 369h3v1h-3zM924 370h4v1h-4zM928 371h4v1h-4zM932 372h3v1h-3zM935 373h2v1h-2zM937 374h7v1h-7zM944 373h4v1h-4zM948 372h4v1h-4zM952 371h4v1h-4zM956 370h4v1h-4zM960 369h4v1h-4zM964 368h4v1h-4zM968 369h3v1h-3zM971 370h2v1h-2zM973 371h2v1h-2zM975 370h2v1h-2zM977 369h1v1h-1zM978 368h1v1h-1zM979 367h1v1h-1zM980 366h1v1h-1zM981 365h1v1h-1zM982 364h1v1h-1zM983 363h1v1h-1zM984 362h1v1h-1zM985 361h1v1h-1zM986 359h1v2h-1zM987 358h1v1h-1zM988 356h1v2h-1zM989 354h1v2h-1zM990 352h1v2h-1zM991 350h1v2h-1zM992 348h1v2h-1zM993 347h1v1h-1zM994 345h1v2h-1zM995 344h1v1h-1zM996 342h1v2h-1zM997 341h1v1h-1zM998 339h1v2h-1zM999 338h1v1h-1zM1000 336h1v2h-1zM1001 334h1v2h-1zM1002 332h1v2h-1zM1003 330h1v2h-1zM1004 328h1v2h-1zM1005 327h1v1h-1zM1006 326h2v1h-2zM1008 325h1v1h-1zM1009 324h2v1h-2zM1011 323h2v1h-2zM1013 322h6v1h-6zM1019 323h2v1h-2zM1021 324h2v1h-2zM1023 323h2v1h-2zM1025 322h2v1h-2zM1027 321h2v1h-2zM1029 320h3v1h-3zM1032 319h6v1h-6zM1038 318h1v1h-1zM1039 316h1v2h-1zM1040 315h1v1h-1zM1041 314h1v1h-1zM1042 313h1v1h-1zM1043 312h1v1h-1zM1044 311h1v1h-1zM1045 310h1v1h-1zM1046 309h2v1h-2zM1048 308h1v1h-1zM1049 307h1v1h-1zM1050 305h1v2h-1zM1051 304h1v1h-1zM1052 302h1v2h-1zM1053 301h1v1h-1zM1054 300h1v1h-1zM1055 298h1v2h-1zM1056 297h1v1h-1zM1057 296h2v1h-2zM1059 295h2v1h-2zM1061 294h2v1h-2zM1063 293h2v1h-2zM1065 292h1v1h-1zM1066 291h2v1h-2zM1068 290h1v1h-1zM1069 289h1v1h-1zM1070 287h1v2h-1zM1071 286h1v1h-1zM1072 284h1v2h-1zM1073 283h1v1h-1zM1074 282h1v1h-1zM1075 281h1v1h-1zM1076 280h1v1h-1zM1077 279h2v1h-2zM1079 278h2v1h-2zM1081 277h3v1h-3zM1084 276h3v1h-3zM1087 275h2v1h-2zM1089 274h3v1h-3zM1092 273h3v1h-3zM1095 274h2v1h-2zM1097 275h1v1h-1zM1098 276h2v1h-2zM1100 277h1v1h-1zM1101 278h1v1h-1zM1102 279h2v1h-2zM1104 280h1v1h-1zM1105 281h1v1h-1zM1106 282h1v1h-1zM1107 283h1v2h-1zM1108 285h1v1h-1zM1109 286h1v1h-1zM1110 287h1v2h-1zM1111 289h1v2h-1zM1112 291h1v2h-1zM1113 293h1v1h-1zM1114 294h1v2h-1zM1115 296h1v1h-1zM1116 297h1v2h-1zM1117 299h1v1h-1zM1118 300h1v1h-1zM1119 301h1v1h-1zM1120 302h1v1h-1zM1121 303h1v1h-1zM1122 304h1v1h-1zM1123 305h1v1h-1zM1124 306h1v1h-1zM1125 307h1v1h-1zM1126 308h1v2h-1zM1127 310h1v1h-1zM1128 311h1v2h-1zM1129 313h1v1h-1zM1130 314h1v2h-1zM1131 316h1v1h-1zM1132 317h1v2h-1zM1133 319h1v1h-1zM1134 320h1v1h-1zM1135 321h1v2h-1zM1136 323h1v1h-1zM1137 324h1v1h-1zM1138 325h1v1h-1zM1139 326h1v1h-1zM1140 327h1v1h-1zM1141 328h1v1h-1zM1142 329h1v2h-1zM1143 331h1v1h-1zM1144 332h1v2h-1zM1145 334h1v1h-1zM1146 335h1v2h-1zM1147 337h1v2h-1zM1148 339h1v2h-1zM1149 341h1v1h-1zM1150 342h1v2h-1zM1151 344h1v2h-1zM1152 346h1v2h-1zM1153 348h1v1h-1zM1154 349h1v1h-1zM1155 350h1v2h-1zM1156 352h1v1h-1zM1157 353h1v1h-1zM1158 354h1v1h-1zM1159 355h1v1h-1zM1160 356h1v1h-1zM1161 357h1v1h-1zM1162 358h2v1h-2zM1164 359h1v1h-1zM1165 360h2v1h-2zM1167 361h2v1h-2zM1169 362h1v1h-1zM1170 363h2v1h-2zM1172 364h1v1h-1zM1173 365h1v1h-1zM1174 366h1v1h-1zM1175 367h1v1h-1zM1176 368h1v1h-1zM1177 369h1v1h-1zM1178 370h1v2h-1zM1179 372h1v2h-1zM1180 374h1v2h-1zM1181 376h1v1h-1zM1182 377h1v2h-1zM1183 379h1v2h-1zM1184 381h1v2h-1zM1185 383h1v1h-1zM1186 384h1v1h-1zM1187 385h1v2h-1zM1188 387h1v1h-1zM1189 388h1v1h-1zM1190 389h1v2h-1zM1191 391h1v1h-1zM1192 392h1v2h-1zM1193 394h1v1h-1zM1194 395h1v2h-1zM1195 397h1v1h-1zM1196 398h1v2h-1zM1197 400h1v1h-1zM1198 401h1v2h-1zM1199 403h1v2h-1zM1200 405h1v2h-1zM1201 407h1v2h-1zM1202 409h1v2h-1zM1203 411h1v2h-1zM1204 413h1v2h-1zM1205 415h1v2h-1zM1206 417h1v2h-1zM1207 419h1v2h-1zM1208 421h1v2h-1zM1209 423h1v3h-1zM1210 426h1v3h-1zM1211 429h1v2h-1zM1212 431h1v3h-1zM1213 434h1v3h-1zM1214 437h1v4h-1zM1215 441h1v3h-1zM1216 444h1v4h-1zM1217 448h1v3h-1zM1218 451h1v4h-1zM1219 455h1v4h-1zM1220 459h1v4h-1zM1221 463h1v3h-1zM1222 466h1v4h-1zM1223 470h1v4h-1zM1224 474h1v4h-1zM1225 478h1v3h-1zM1226 481h1v4h-1zM1227 485h1v3h-1zM1228 488h1v4h-1zM1229 492h1v3h-1zM1230 495h1v2h-1zM1231 497h1v2h-1zM1232 499h1v2h-1zM1233 501h1v1h-1zM1234 502h1v2h-1zM1235 504h1v2h-1zM1236 506h1v2h-1zM1237 508h1v1h-1zM1238 509h1v2h-1zM1239 511h1v1h-1zM1240 512h1v2h-1zM1241 514h1v1h-1zM1242 515h1v1h-1zM1243 516h1v1h-1zM1244 517h1v1h-1zM1245 518h1v1h-1zM1246 519h2v1h-2zM1248 520h1v1h-1zM1249 521h1v1h-1zM1250 520h1v1h-1zM1251 519h1v1h-1zM1252 518h1v1h-1zM1253 517h1v1h-1zM1254 516h1v1h-1zM1255 514h1v2h-1zM1256 513h1v1h-1zM1257 511h1v2h-1zM1258 509h1v2h-1zM1259 506h1v3h-1zM1260 504h1v2h-1zM1261 500h1v4h-1zM1262 496h1v4h-1zM1263 492h1v4h-1zM1264 488h1v4h-1zM1265 484h1v4h-1zM1266 479h1v5h-1zM1267 475h1v4h-1zM1268 470h1v5h-1zM1269 465h1v5h-1zM1270 461h1v4h-1zM1271 456h1v5h-1zM1272 452h1v4h-1zM1273 447h1v5h-1zM1274 442h1v5h-1zM1275 437h1v5h-1zM1276 432h1v5h-1zM1277 426h1v6h-1zM1278 420h1v6h-1zM1279 414h1v6h-1zM1280 408h1v6h-1zM1281 405h1v3h-1z" fill="#ff0000" shape-rendering="crispEdges"/>
<path d="M5 119h1v1h-1zM6 117h1v2h-1zM7 116h1v1h-1zM8 114h1v2h-1zM9 113h1v1h-1zM10 112h1v1h-1zM11 111h1v1h-1zM12 110h1v1h-1zM13 109h1v1h-1zM14 110h1v2h-1zM15 112h1v2h-1zM16 114h1v2h-1zM17 116h1v2h-1zM18 118h1v3h-1zM19 121h1v2h-1zM20 123h1v3h-1zM21 126h1v3h-1zM22 129h1v3h-1zM23 132h1v2h-1zM24 134h1v3h-1zM25 137h1v5h-1zM26 142h1v6h-1zM27 148h1v6h-1zM28 154h1v6h-1zM29 160h1v5h-1zM30 165h1v5h-1zM31 170h1v4h-1zM32 174h1v5h-1zM33 179h1v4h-1zM34 183h1v3h-1zM35 186h1v3h-1zM36 189h1v3h-1zM37 192h1v3h-1zM38 195h1v3h-1zM39 198h1v4h-1zM40 202h1v3h-1zM41 205h1v2h-1zM42 207h1v2h-1zM43 209h1v1h-1zM44 210h1v2h-1zM45 211h1v2h-1zM46 208h1v3h-1zM47 205h1v3h-1zM48 202h1v3h-1zM49 199h1v3h-1zM50 197h1v2h-1zM51 195h1v2h-1zM52 193h1v2h-1zM53 190h1v3h-1zM54 187h1v3h-1zM55 183h1v4h-1zM56 180h1v3h-1zM57 177h1v3h-1zM58 173h1v4h-1zM59 169h1v4h-1zM60 165h1v4h-1zM61 162h1v3h-1zM62 160h1v2h-1zM63 158h1v2h-1zM64 156h1v2h-1zM65 154h1v2h-1zM66 152h1v2h-1zM67 151h1v1h-1zM68 149h1v2h-1zM69 147h1v2h-1zM70 145h1v2h-1zM71 143h1v2h-1zM72 141h1v2h-1zM73 139h1v2h-1zM74 137h1v2h-1zM75 136h1v1h-1zM76 134h1v2h-1zM77 133h1v1h-1zM78 134h1v2h-1zM79 136h1v1h-1zM80 137h1v2h-1zM81 139h1v1h-1zM82 140h1v2h-1zM83 142h1v2h-1zM84 144h1v2h-1zM85 146h1v1h-1zM86 147h2v1h-2zM88 148h1v1h-1zM89 149h1v2h-1zM90 151h1v3h-1zM91 154h1v3h-1zM92 157h1v3h-1zM93 160h1v4h-1zM94 164h1v4h-1zM95 168h1v4h-1zM96 172h1v4h-1zM97 176h1v4h-1zM98 180h1v2h-1zM99 182h1v2h-1zM100 184h1v2h-1zM101 186h1v2h-1zM102 188h1v3h-1zM103 191h1v2h-1zM104 193h1v3h-1zM105 196h1v4h-1zM106 200h1v4h-1zM107 204h1v4h-1zM108 208h1v4h-1zM109 212h1v3h-1zM110 215h1v3h-1zM111 218h1v2h-1zM112 220h1v3h-1zM113 223h1v3h-1zM114 226h1v2h-1zM115 228h1v3h-1zM116 231h1v2h-1zM117 233h1v2h-1zM118 234h2v1h-2zM120 233h3v1h-3zM123 234h2v1h-2zM125 235h3v1h-3zM128 234h4v1h-4zM132 233h2v1h-2zM133 232h1v1h-1zM134 229h1v3h-1zM135 226h1v3h-1zM136 223h1v3h-1zM137 221h1v2h-1zM138 220h1v1h-1zM139 218h1v2h-1zM140 217h1v1h-1zM141 215h1v2h-1zM142 213h1v2h-1zM143 211h1v2h-1zM144 209h1v2h-1zM145 208h1v1h-1zM146 206h1v2h-1zM147 204h1v2h-1zM148 202h1v2h-1zM149 200h1v2h-1zM150 197h1v3h-1zM151 193h1v4h-1zM152 190h1v3h-1zM153 188h1v2h-1zM154 186h1v2h-1zM155 185h1v1h-1zM156 183h1v2h-1zM157 182h1v1h-1zM158 181h2v1h-2zM160 180h1v1h-1zM161 179h1v1h-1zM162 178h1v1h-1zM163 177h1v1h-1zM164 176h1v1h-1zM165 175h1v1h-1zM166 173h1v2h-1zM167 172h1v1h-1zM168 170h1v2h-1zM169 169h1v2h-1zM170 171h1v2h-1zM171 173h1v3h-1zM172 176h1v2h-1zM173 178h1v3h-1zM174 181h1v2h-1zM175 183h1v3h-1zM176 186h1v2h-1zM177 188h1v3h-1zM178 191h1v2h-1zM179 193h1v2h-1zM180 195h1v2h-1zM181 197h1v2h-1zM182 199h1v2h-1zM183 201h1v1h-1zM184 202h1v2h-1zM185 204h1v2h-1zM186 206h1v3h-1zM187 209h1v4h-1zM188 213h1v3h-1zM189 216h1v3h-1zM190 219h1v2h-1zM191 221h1v2h-1zM192 223h1v2h-1zM193 225h1v2h-1zM194 227h1v4h-1zM195 231h1v3h-1zM196 234h1v4h-1zM197 238h1v3h-1zM198 241h1v4h-1zM199 245h1v3h-1zM200 248h1v4h-1zM201 252h1v4h-1zM202 256h1v4h-1zM203 260h1v4h-1zM204 264h1v4h-1zM205 268h1v2h-1zM206 270h1v2h-1zM207 272h1v2h-1zM208 274h1v2h-1zM209 276h2v1h-2zM211 275h2v1h-2zM213 272h1v3h-1zM214 268h1v4h-1zM215 264h1v4h-1zM216 260h1v4h-1zM217 258h1v2h-1zM218 257h1v1h-1zM219 255h1v2h-1zM220 254h1v1h-1zM221 253h1v1h-1zM222 251h1v2h-1zM223 250h1v1h-1zM224 248h1v2h-1zM225 247h1v1h-1zM226 246h1v1h-1zM227 245h1v1h-1zM228 244h1v1h-1zM229 243h5v1h-5zM233 244h1v1h-1zM234 245h1v3h-1zM235 248h1v2h-1zM236 250h1v3h-1zM237 253h1v2h-1zM238 253h2v1h-2zM240 252h1v1h-1zM241 251h1v1h-1zM242 249h1v2h-1zM243 248h1v1h-1zM244 246h1v2h-1zM245 245h1v1h-1zM246 243h1v2h-1zM247 241h1v2h-1zM248 239h1v2h-1zM249 238h1v1h-1zM250 236h1v2h-1zM251 235h1v1h-1zM252 233h1v2h-1zM253 231h1v2h-1zM254 229h1v2h-1zM255 227h1v2h-1zM256 225h1v2h-1zM257 224h5v1h-5zM262 225h2v1h-2zM264 226h1v1h-1zM265 227h1v2h-1zM266 229h1v2h-1zM267 231h1v3h-1zM268 234h1v2h-1zM269 236h1v3h-1zM270 239h1v2h-1zM271 241h1v3h-1zM272 244h1v2h-1zM273 246h1v3h-1zM274 249h1v3h-1zM275 252h1v3h-1zM276 255h1v3h-1zM277 258h1v2h-1zM278 260h1v1h-1zM279 261h1v2h-1zM280 263h1v1h-1zM281 264h1v2h-1zM282 266h1v2h-1zM283 268h1v2h-1zM284 270h1v2h-1zM285 272h1v1h-1zM286 273h1v1h-1zM287 274h1v1h-1zM288 275h1v1h-1zM289 276h3v1h-3zM292 275h2v1h-2zM294 273h1v2h-1zM295 272h1v1h-1zM296 270h1v2h-1zM297 269h1v1h-1zM298 267h1v2h-1zM299 266h1v1h-1zM300 264h1v2h-1zM301 263h1v1h-1zM302 262h1v1h-1zM303 260h1v2h-1zM304 259h1v1h-1zM305 258h1v1h-1zM306 257h2v1h-2zM308 256h1v1h-1zM309 255h1v1h-1zM310 256h1v1h-1zM311 257h1v2h-1zM312 259h1v1h-1zM313 260h1v2h-1zM314 262h1v2h-1zM315 264h1v2h-1zM316 266h1v2h-1zM317 268h1v3h-1zM318 271h1v2h-1zM319 273h1v3h-1zM320 276h1v2h-1zM321 278h1v2h-1zM322 279h1v1h-1zM323 280h2v1h-2zM325 281h1v1h-1zM326 280h1v1h-1zM327 279h1v1h-1zM328 278h1v1h-1zM329 275h1v3h-1zM330 271h1v4h-1zM331 267h1v4h-1zM332 263h1v4h-1zM333 259h1v4h-1zM334 255h1v4h-1zM335 251h1v4h-1zM336 247h1v4h-1zM337 243h1v4h-1zM338 237h1v6h-1zM339 231h1v6h-1zM340 225h1v6h-1zM341 219h1v6h-1zM342 213h1v6h-1zM343 207h1v6h-1zM344 201h1v6h-1zM345 196h1v5h-1zM346 191h1v5h-1zM347 185h1v6h-1zM348 180h1v5h-1zM349 176h1v4h-1zM350 173h1v3h-1zM351 171h1v2h-1zM352 168h1v3h-1zM353 165h1v3h-1zM354 162h1v3h-1zM355 159h1v3h-1zM356 156h1v3h-1zM357 154h1v2h-1zM358 154h1v1h-1zM359 153h3v1h-3zM361 152h1v1h-1zM362 154h1v2h-1zM363 156h1v2h-1zM364 158h1v2h-1zM365 160h1v3h-1zM366 163h1v5h-1zM367 168h1v4h-1zM368 172h1v5h-1zM369 177h1v5h-1zM370 182h1v4h-1zM371 186h1v4h-1zM372 190h1v4h-1zM373 194h1v3h-1zM374 197h1v3h-1zM375 200h1v4h-1zM376 204h1v3h-1zM377 207h1v4h-1zM378 211h1v4h-1zM379 215h1v5h-1zM380 220h1v4h-1zM381 224h1v4h-1zM382 228h1v2h-1zM383 230h1v3h-1zM384 233h1v2h-1zM385 235h1v2h-1zM386 232h1v3h-1zM387 230h1v2h-1zM388 227h1v3h-1zM389 223h1v4h-1zM390 218h1v5h-1zM391 214h1v4h-1zM392 209h1v5h-1zM393 204h1v5h-1zM394 199h1v5h-1zM395 193h1v6h-1zM396 188h1v5h-1zM397 182h1v6h-1zM398 174h1v8h-1zM399 166h1v8h-1zM400 158h1v8h-1zM401 151h1v7h-1zM402 144h1v7h-1zM403 138h1v6h-1zM404 131h1v7h-1zM405 125h1v6h-1zM406 121h1v4h-1zM407 117h1v4h-1zM408 113h1v4h-1zM409 110h1v3h-1zM410 108h1v2h-1zM411 107h1v1h-1zM412 105h1v2h-1zM413 104h3v1h-3zM416 103h3v1h-3zM419 104h2v1h-2zM421 105h1v2h-1zM422 107h1v3h-1zM423 110h1v4h-1zM424 114h1v3h-1zM425 117h1v3h-1zM426 120h1v4h-1zM427 124h1v3h-1zM428 127h1v4h-1zM429 131h1v3h-1zM430 134h1v4h-1zM431 138h1v4h-1zM432 142h1v4h-1zM433 146h1v3h-1zM434 149h1v4h-1zM435 153h1v3h-1zM436 156h1v4h-1zM437 160h1v5h-1zM438 165h1v6h-1zM439 171h1v7h-1zM440 178h1v6h-1zM441 184h1v5h-1zM442 189h1v3h-1zM443 192h1v4h-1zM444 196h1v3h-1zM445 199h1v3h-1zM446 202h1v4h-1zM447 206h1v3h-1zM448 209h1v4h-1zM449 213h1v3h-1zM450 216h1v2h-1zM451 218h1v3h-1zM452 221h1v2h-1zM453 223h1v2h-1zM454 225h1v1h-1zM455 226h1v1h-1zM456 227h2v1h-2zM457 228h1v1h-1zM458 225h1v2h-1zM459 223h1v2h-1zM460 221h1v2h-1zM461 220h1v1h-1zM462 219h1v1h-1zM463 218h1v1h-1zM464 217h1v1h-1zM465 215h1v2h-1zM466 212h1v3h-1zM467 210h1v2h-1zM468 207h1v3h-1zM469 204h1v3h-1zM470 202h1v2h-1zM471 200h1v2h-1zM472 198h1v2h-1zM473 197h1v2h-1zM474 199h1v2h-1zM475 201h1v2h-1zM476 203h1v2h-1zM477 205h1v1h-1zM478 206h1v1h-1zM479 207h1v2h-1zM480 209h1v1h-1zM481 210h1v1h-1zM482 211h1v1h-1zM483 212h1v1h-1zM484 213h1v1h-1zM485 214h1v2h-1zM486 216h1v2h-1zM487 218h1v2h-1zM488 220h1v2h-1zM489 222h1v1h-1zM490 223h1v2h-1zM491 225h1v2h-1zM492 227h1v2h-1zM493 229h3v1h-3zM496 228h2v1h-2zM497 229h1v1h-1zM498 230h1v3h-1zM499 233h1v3h-1zM500 236h1v3h-1zM501 239h1v3h-1zM502 242h1v4h-1zM503 246h1v3h-1zM504 249h1v4h-1zM505 253h1v3h-1zM506 256h1v2h-1zM507 258h1v3h-1zM508 261h1v2h-1zM509 263h1v3h-1zM510 266h1v4h-1zM511 270h1v4h-1zM512 274h1v4h-1zM513 278h1v3h-1zM514 281h1v4h-1zM515 285h1v3h-1zM516 288h1v4h-1zM517 292h1v2h-1zM518 293h1v1h-1zM519 294h2v1h-2zM521 295h3v1h-3zM524 294h2v1h-2zM526 295h2v1h-2zM528 296h1v1h-1zM529 297h1v2h-1zM530 299h1v2h-1zM531 301h1v3h-1zM532 304h1v2h-1zM533 306h1v2h-1zM534 307h1v1h-1zM535 308h2v1h-2zM537 309h1v1h-1zM538 310h1v1h-1zM539 311h1v2h-1zM540 313h2v1h-2zM541 314h1v1h-1zM542 311h1v2h-1zM543 309h1v2h-1zM544 307h1v2h-1zM545 305h1v2h-1zM546 303h1v2h-1zM547 301h1v2h-1zM548 299h1v2h-1zM549 294h1v5h-1zM550 287h1v7h-1zM551 280h1v7h-1zM552 273h1v7h-1zM553 268h1v5h-1zM554 264h1v4h-1zM555 261h1v3h-1zM556 257h1v4h-1zM557 253h1v4h-1zM558 249h1v4h-1zM559 244h1v5h-1zM560 240h1v4h-1zM561 237h1v3h-1zM562 237h2v1h-2zM564 236h2v1h-2zM566 235h2v1h-2zM568 234h2v1h-2zM569 233h1v1h-1zM570 235h1v2h-1zM571 237h1v2h-1zM572 239h1v2h-1zM573 241h1v2h-1zM574 243h1v2h-1zM575 245h1v3h-1zM576 248h1v2h-1zM577 250h1v4h-1zM578 254h1v4h-1zM579 258h1v5h-1zM580 263h1v4h-1zM581 267h1v5h-1zM582 272h1v5h-1zM583 277h1v4h-1zM584 281h1v5h-1zM585 286h1v5h-1zM586 291h1v4h-1zM587 295h1v5h-1zM588 300h1v4h-1zM589 304h1v4h-1zM590 308h1v3h-1zM591 311h1v4h-1zM592 315h1v3h-1zM593 318h1v3h-1zM594 321h1v2h-1zM595 323h1v2h-1zM596 325h1v2h-1zM597 327h3v1h-3zM600 328h6v1h-6zM606 326h1v2h-1zM607 324h1v2h-1zM608 322h1v2h-1zM609 320h1v2h-1zM610 318h1v2h-1zM611 316h1v2h-1zM612 314h1v2h-1zM613 312h1v2h-1zM614 311h2v1h-2zM616 310h1v1h-1zM617 309h3v1h-3zM620 310h4v1h-4zM624 311h2v1h-2zM625 312h1v1h-1zM626 313h1v4h-1zM627 317h1v3h-1zM628 320h1v4h-1zM629 324h1v5h-1zM630 329h1v6h-1zM631 335h1v6h-1zM632 341h1v6h-1zM633 347h1v6h-1zM634 353h1v5h-1zM635 358h1v6h-1zM636 364h1v5h-1zM637 369h1v5h-1zM638 374h1v5h-1zM639 379h1v5h-1zM640 384h1v5h-1zM641 389h1v5h-1zM642 394h1v4h-1zM643 398h1v5h-1zM644 403h1v4h-1zM645 407h1v3h-1zM646 410h1v1h-1zM647 411h1v2h-1zM648 413h1v1h-1zM649 414h1v1h-1zM650 412h1v2h-1zM651 410h1v2h-1zM652 408h1v2h-1zM653 406h1v2h-1zM654 403h1v3h-1zM655 401h1v2h-1zM656 398h1v3h-1zM657 395h1v3h-1zM658 393h1v2h-1zM659 391h1v2h-1zM660 389h1v2h-1zM661 386h1v3h-1zM662 382h1v4h-1zM663 378h1v4h-1zM664 374h1v4h-1zM665 372h1v2h-1zM666 372h1v1h-1zM667 371h2v1h-2zM669 370h1v1h-1zM670 371h1v2h-1zM671 373h1v1h-1zM672 374h1v2h-1zM673 376h1v1h-1zM674 374h1v2h-1zM675 373h1v1h-1zM676 371h1v2h-1zM677 370h1v1h-1zM678 368h1v2h-1zM679 366h1v2h-1zM680 364h1v2h-1zM681 363h3v1h-3zM684 362h2v1h-2zM686 363h1v1h-1zM687 364h1v2h-1zM688 366h2v1h-2zM689 367h1v1h-1zM690 364h1v2h-1zM691 361h1v3h-1zM692 359h1v2h-1zM693 357h1v2h-1zM694 358h1v1h-1zM695 359h1v1h-1zM696 360h1v1h-1zM697 361h1v1h-1zM698 362h1v1h-1zM699 363h1v1h-1zM700 364h1v1h-1zM701 365h1v2h-1zM702 367h1v2h-1zM703 369h1v3h-1zM704 372h1v2h-1zM705 374h1v2h-1zM706 375h1v1h-1zM707 374h3v1h-3zM709 373h1v1h-1zM710 375h1v3h-1zM711 378h1v3h-1zM712 381h1v3h-1zM713 384h1v3h-1zM714 387h1v2h-1zM715 389h1v2h-1zM716 391h1v2h-1zM717 393h1v3h-1zM718 396h1v4h-1zM719 400h1v4h-1zM720 404h1v4h-1zM721 408h1v3h-1zM722 411h1v3h-1zM723 414h1v2h-1zM724 416h1v3h-1zM725 419h1v3h-1zM726 422h1v3h-1zM727 425h1v2h-1zM728 427h1v3h-1zM729 430h1v3h-1zM730 433h1v2h-1zM731 435h1v2h-1zM732 437h1v2h-1zM733 439h1v2h-1zM734 441h1v4h-1zM735 445h1v4h-1zM736 449h1v4h-1zM737 453h1v2h-1zM738 455h2v1h-2zM740 456h1v1h-1zM741 457h2v1h-2zM743 456h2v1h-2zM745 454h1v2h-1zM746 452h1v2h-1zM747 450h1v2h-1zM748 448h1v2h-1zM749 447h1v1h-1zM750 446h1v1h-1zM751 444h1v2h-1zM752 443h1v1h-1zM753 441h1v2h-1zM754 438h1v3h-1zM755 434h1v4h-1zM756 431h1v3h-1zM757 428h1v3h-1zM758 426h1v2h-1zM759 424h1v2h-1zM760 422h1v2h-1zM761 421h6v1h-6zM767 422h2v1h-2zM769 423h1v1h-1zM770 421h1v2h-1zM771 419h1v2h-1zM772 417h1v2h-1zM773 415h1v2h-1zM774 413h1v2h-1zM775 411h1v2h-1zM776 409h1v2h-1zM777 407h1v2h-1zM778 405h1v2h-1zM779 402h1v3h-1zM780 400h1v2h-1zM781 397h1v3h-1zM782 394h1v3h-1zM783 391h1v3h-1zM784 388h1v3h-1zM785 385h1v3h-1zM786 383h1v2h-1zM787 381h1v2h-1zM788 379h1v2h-1zM789 376h1v3h-1zM790 374h1v2h-1zM791 372h1v2h-1zM792 370h1v2h-1zM793 367h1v3h-1zM794 363h1v4h-1zM795 360h1v3h-1zM796 356h1v4h-1zM797 352h1v4h-1zM798 348h1v4h-1zM799 343h1v5h-1zM800 339h1v4h-1zM801 334h1v5h-1zM802 329h1v5h-1zM803 323h1v6h-1zM804 318h1v5h-1zM805 313h1v5h-1zM806 309h1v4h-1zM807 305h1v4h-1zM808 301h1v4h-1zM809 297h1v4h-1zM810 295h1v2h-1zM811 292h1v3h-1zM812 290h1v2h-1zM813 288h1v2h-1zM814 288h1v1h-1zM815 289h2v1h-2zM817 290h1v2h-1zM818 292h1v2h-1zM819 294h1v3h-1zM820 297h1v2h-1zM821 299h1v3h-1zM822 302h1v3h-1zM823 305h1v4h-1zM824 309h1v3h-1zM825 312h1v3h-1zM826 315h1v2h-1zM827 317h1v3h-1zM828 320h1v2h-1zM829 322h1v2h-1zM830 324h1v2h-1zM831 326h1v1h-1zM832 327h1v2h-1zM833 329h5v1h-5zM838 328h1v1h-1zM839 327h1v1h-1zM840 326h1v1h-1zM841 324h1v2h-1zM842 321h1v3h-1zM843 318h1v3h-1zM844 315h1v3h-1zM845 312h1v3h-1zM846 308h1v4h-1zM847 305h1v3h-1zM848 301h1v4h-1zM849 298h1v3h-1zM850 295h1v3h-1zM851 293h1v2h-1zM852 290h1v3h-1zM853 288h1v2h-1zM854 287h1v1h-1zM855 285h1v2h-1zM856 284h2v1h-2zM857 283h1v1h-1zM858 285h1v2h-1zM859 287h1v2h-1zM860 289h1v2h-1zM861 291h1v2h-1zM862 293h1v3h-1zM863 296h1v3h-1zM864 299h1v3h-1zM865 302h1v4h-1zM866 306h1v5h-1zM867 311h1v5h-1zM868 316h1v5h-1zM869 321h1v5h-1zM870 326h1v6h-1zM871 332h1v5h-1zM872 337h1v6h-1zM873 343h1v5h-1zM874 348h1v5h-1zM875 353h1v6h-1zM876 359h1v5h-1zM877 364h1v3h-1zM878 367h1v2h-1zM879 369h1v1h-1zM880 370h1v2h-1zM881 372h1v2h-1zM882 374h1v2h-1zM883 376h1v2h-1zM884 378h1v2h-1zM885 380h1v2h-1zM886 382h1v2h-1zM887 384h1v1h-1zM888 385h1v2h-1zM889 387h1v1h-1zM890 388h2v1h-2zM892 389h1v1h-1zM893 390h1v1h-1zM894 389h1v1h-1zM895 387h1v2h-1zM896 386h1v1h-1zM897 385h1v1h-1zM898 384h2v1h-2zM900 383h1v1h-1zM901 381h1v2h-1zM902 378h1v3h-1zM903 376h1v2h-1zM904 373h1v3h-1zM905 370h1v3h-1zM906 367h1v3h-1zM907 365h1v2h-1zM908 362h1v3h-1zM909 359h1v3h-1zM910 357h1v2h-1zM911 354h1v3h-1zM912 352h1v2h-1zM913 350h1v2h-1zM914 349h1v1h-1zM915 348h1v1h-1zM916 347h1v1h-1zM917 346h1v1h-1zM918 347h1v1h-1zM919 348h1v1h-1zM920 349h1v1h-1zM921 350h1v2h-1zM922 352h1v2h-1zM923 354h1v2h-1zM924 356h1v2h-1zM925 358h1v2h-1zM926 360h1v3h-1zM927 363h1v2h-1zM928 365h1v3h-1zM929 368h1v3h-1zM930 371h1v2h-1zM931 373h1v2h-1zM932 375h1v2h-1zM933 377h1v3h-1zM934 380h1v3h-1zM935 383h1v3h-1zM936 386h1v3h-1zM937 389h1v2h-1zM938 391h1v1h-1zM939 392h1v1h-1zM940 393h1v1h-1zM941 394h7v1h-7zM948 393h2v1h-2zM949 392h1v1h-1zM950 390h1v2h-1zM951 387h1v3h-1zM952 385h1v2h-1zM953 382h1v3h-1zM954 379h1v3h-1zM955 375h1v4h-1zM956 372h1v3h-1zM957 369h1v3h-1zM958 366h1v3h-1zM959 363h1v3h-1zM960 360h1v3h-1zM961 357h1v3h-1zM962 354h1v3h-1zM963 352h1v2h-1zM964 349h1v3h-1zM965 347h1v2h-1zM966 346h1v1h-1zM967 344h1v2h-1zM968 343h1v1h-1zM969 342h1v1h-1zM970 343h2v1h-2zM972 344h1v1h-1zM973 345h2v1h-2zM975 346h2v1h-2zM977 347h7v1h-7zM984 348h2v1h-2zM985 347h1v1h-1zM986 344h1v3h-1zM987 342h1v2h-1zM988 339h1v3h-1zM989 336h1v3h-1zM990 333h1v3h-1zM991 329h1v4h-1zM992 326h1v3h-1zM993 324h1v2h-1zM994 322h1v2h-1zM995 320h1v2h-1zM996 318h1v2h-1zM997 316h1v2h-1zM998 314h1v2h-1zM999 312h1v2h-1zM1000 310h1v2h-1zM1001 308h1v2h-1zM1002 305h1v3h-1zM1003 303h1v2h-1zM1004 300h1v3h-1zM1005 298h1v2h-1zM1006 298h2v1h-2zM1008 297h2v1h-2zM1010 298h2v1h-2zM1012 299h1v1h-1zM1013 300h1v1h-1zM1014 301h1v1h-1zM1015 302h1v2h-1zM1016 304h1v1h-1zM1017 305h1v2h-1zM1018 307h1v3h-1zM1019 310h1v2h-1zM1020 312h1v3h-1zM1021 315h1v3h-1zM1022 318h1v3h-1zM1023 321h1v2h-1zM1024 323h1v3h-1zM1025 326h1v2h-1zM1026 328h1v2h-1zM1027 330h1v2h-1zM1028 332h1v2h-1zM1029 334h1v1h-1zM1030 335h1v1h-1zM1031 336h1v2h-1zM1032 338h1v1h-1zM1033 339h1v1h-1zM1034 338h2v1h-2zM1036 337h1v1h-1zM1037 335h1v2h-1zM1038 331h1v4h-1zM1039 327h1v4h-1zM1040 323h1v4h-1zM1041 320h1v3h-1zM1042 316h1v4h-1zM1043 312h1v4h-1zM1044 308h1v4h-1zM1045 304h1v4h-1zM1046 300h1v4h-1zM1047 295h1v5h-1zM1048 291h1v4h-1zM1049 286h1v5h-1zM1050 280h1v6h-1zM1051 275h1v5h-1zM1052 269h1v6h-1zM1053 264h1v5h-1zM1054 259h1v5h-1zM1055 255h1v4h-1zM1056 250h1v5h-1zM1057 247h1v3h-1zM1058 245h1v2h-1zM1059 244h1v1h-1zM1060 242h1v2h-1zM1061 241h1v1h-1zM1062 242h1v1h-1zM1063 243h1v1h-1zM1064 244h1v1h-1zM1065 245h1v1h-1zM1066 246h1v1h-1zM1067 247h1v2h-1zM1068 249h1v1h-1zM1069 250h1v1h-1zM1070 251h1v2h-1zM1071 253h1v1h-1zM1072 254h1v2h-1zM1073 256h1v2h-1zM1074 258h1v3h-1zM1075 261h1v3h-1zM1076 264h1v3h-1zM1077 267h1v3h-1zM1078 270h1v3h-1zM1079 273h1v3h-1zM1080 276h1v3h-1zM1081 279h1v3h-1zM1082 282h1v2h-1zM1083 284h1v3h-1zM1084 287h1v2h-1zM1085 289h1v3h-1zM1086 292h1v2h-1zM1087 294h1v2h-1zM1088 296h1v2h-1zM1089 298h1v2h-1zM1090 300h1v2h-1zM1091 302h1v3h-1zM1092 305h1v2h-1zM1093 307h1v2h-1zM1094 308h1v1h-1zM1095 309h2v1h-2zM1097 310h3v1h-3zM1100 309h2v1h-2zM1102 307h1v2h-1zM1103 305h1v2h-1zM1104 303h1v2h-1zM1105 302h1v1h-1zM1106 301h1v1h-1zM1107 299h1v2h-1zM1108 298h1v1h-1zM1109 297h1v1h-1zM1110 298h1v1h-1zM1111 299h1v2h-1zM1112 301h1v1h-1zM1113 302h1v1h-1zM1114 303h1v2h-1zM1115 305h1v1h-1zM1116 306h1v2h-1zM1117 308h1v1h-1zM1118 309h1v2h-1zM1119 311h1v1h-1zM1120 312h1v2h-1zM1121 314h1v2h-1zM1122 316h1v2h-1zM1123 318h1v2h-1zM1124 320h1v2h-1zM1125 322h1v2h-1zM1126 324h1v3h-1zM1127 327h1v2h-1zM1128 329h1v3h-1zM1129 332h1v3h-1zM1130 335h1v2h-1zM1131 337h1v2h-1zM1132 339h1v2h-1zM1133 341h1v2h-1zM1134 343h1v2h-1zM1135 345h1v3h-1zM1136 348h1v2h-1zM1137 350h1v3h-1zM1138 353h1v2h-1zM1139 355h1v2h-1zM1140 357h1v2h-1zM1141 359h1v2h-1zM1142 361h1v4h-1zM1143 365h1v3h-1zM1144 368h1v4h-1zM1145 372h1v3h-1zM1146 375h1v3h-1zM1147 378h1v3h-1zM1148 381h1v3h-1zM1149 384h1v2h-1zM1150 386h1v2h-1zM1151 388h1v2h-1zM1152 390h1v2h-1zM1153 392h2v1h-2zM1155 391h2v1h-2zM1157 389h1v2h-1zM1158 387h1v2h-1zM1159 385h1v2h-1zM1160 383h1v2h-1zM1161 381h1v2h-1zM1162 378h1v3h-1zM1163 375h1v3h-1zM1164 372h1v3h-1zM1165 369h1v3h-1zM1166 367h1v2h-1zM1167 365h1v2h-1zM1168 363h1v2h-1zM1169 361h1v2h-1zM1170 359h1v2h-1zM1171 358h1v1h-1zM1172 356h1v2h-1zM1173 355h1v1h-1zM1174 356h1v1h-1zM1175 357h1v2h-1zM1176 359h1v1h-1zM1177 360h1v3h-1zM1178 363h1v4h-1zM1179 367h1v4h-1zM1180 371h1v4h-1zM1181 375h1v5h-1zM1182 380h1v5h-1zM1183 385h1v5h-1zM1184 390h1v5h-1zM1185 395h1v5h-1zM1186 400h1v4h-1zM1187 404h1v4h-1zM1188 408h1v4h-1zM1189 412h1v5h-1zM1190 417h1v4h-1zM1191 421h1v5h-1zM1192 426h1v4h-1zM1193 430h1v4h-1zM1194 434h1v4h-1zM1195 438h1v3h-1zM1196 441h1v4h-1zM1197 445h1v3h-1zM1198 448h1v3h-1zM1199 451h1v4h-1zM1200 455h1v3h-1zM1201 458h1v4h-1zM1202 462h1v4h-1zM1203 466h1v5h-1zM1204 471h1v4h-1zM1205 475h1v5h-1zM1206 480h1v4h-1zM1207 484h1v4h-1zM1208 488h1v4h-1zM1209 492h1v3h-1zM1210 495h1v3h-1zM1211 498h1v4h-1zM1212 502h1v3h-1zM1213 505h1v3h-1zM1214 508h1v4h-1zM1215 512h1v3h-1zM1216 515h1v4h-1zM1217 519h1v3h-1zM1218 522h1v3h-1zM1219 525h1v2h-1zM1220 527h1v3h-1zM1221 530h1v3h-1zM1222 533h1v2h-1zM1223 535h1v2h-1zM1224 537h1v2h-1zM1225 539h1v2h-1zM1226 541h1v2h-1zM1227 543h1v2h-1zM1228 545h1v2h-1zM1229 547h2v1h-2zM1231 546h2v1h-2zM1233 545h1v1h-1zM1234 544h1v1h-1zM1235 542h1v2h-1zM1236 541h1v1h-1zM1237 540h1v1h-1zM1238 539h1v1h-1zM1239 537h1v2h-1zM1240 536h1v1h-1zM1241 534h1v2h-1zM1242 531h1v3h-1zM1243 528h1v3h-1zM1244 525h1v3h-1zM1245 522h1v3h-1zM1246 519h1v3h-1zM1247 517h1v2h-1zM1248 514h1v3h-1zM1249 510h1v4h-1zM1250 505h1v5h-1zM1251 499h1v6h-1zM1252 494h1v5h-1zM1253 489h1v5h-1zM1254 484h1v5h-1zM1255 480h1v4h-1zM1256 475h1v5h-1zM1257 469h1v6h-1zM1258 462h1v7h-1zM1259 455h1v7h-1zM1260 448h1v7h-1zM1261 439h1v9h-1zM1262 429h1v10h-1zM1263 418h1v11h-1zM1264 408h1v10h-1zM1265 396h1v12h-1zM1266 384h1v12h-1zM1267 372h1v12h-1zM1268 360h1v12h-1zM1269 350h1v10h-1zM1270 344h1v6h-1zM1271 338h1v6h-1zM1272 332h1v6h-1zM1273 326h1v6h-1zM1274 318h1v8h-1zM1275 310h1v8h-1zM1276 302h1v8h-1zM1277 295h1v7h-1zM1278 287h1v8h-1zM1279 280h1v7h-1zM1280 272h1v8h-1zM1281 268h1v4h-1z" fill="#ffa500" shape-rendering="crispEdges"/>
</g>
<g shape-rendering="crispEdges">
<rect x="5" y="163" width="1607" height="2" fill="#ff0000"/>
<rect x="5" y="243" width="1607" height="2" fill="#ff0000"/>
<rect x="5" y="321" width="1607" height="2" fill="#ff0000"/>
<rect x="5" y="400" width="1607" height="2" fill="#00ff00"/>
<rect x="5" y="494" width="1607" height="2" fill="#0000ff"/>
<rect x="5" y="557" width="1607" height="2" fill="#0000cd"/>
<rect x="4" y="398" width="6" height="6" fill="#00ff00"/><rect x="6" y="400" width="2" height="2" fill="#fff"/>
<rect x="1606" y="398" width="6" height="6" fill="#00ff00"/><rect x="1608" y="400" width="2" height="2" fill="#fff"/>
<rect x="4" y="492" width="6" height="6" fill="#0000ff"/><rect x="6" y="494" width="2" height="2" fill="#fff"/>
<rect x="1606" y="492" width="6" height="6" fill="#0000ff"/><rect x="1608" y="494" width="2" height="2" fill="#fff"/>
</g>
<g shape-rendering="crispEdges">
<rect x="1613" y="22" width="41" height="800" fill="#fff"/>
<rect x="1612" y="23" width="1" height="779" fill="#000"/>
<rect x="1613" y="26" width="2" height="1" fill="#000"/>
<rect x="1613" y="59" width="2" height="1" fill="#000"/>
<rect x="1613" y="92" width="2" height="1" fill="#000"/>
<rect x="1613" y="125" width="2" height="1" fill="#000"/>
<rect x="1613" y="158" width="2" height="1" fill="#000"/>
<rect x="1613" y="191" width="2" height="1" fill="#000"/>
<rect x="1613" y="224" width="2" height="1" fill="#000"/>
<rect x="1613" y="257" width="2" height="1" fill="#000"/>
<rect x="1613" y="290" width="2" height="1" fill="#000"/>
<rect x="1613" y="323" width="2" height="1" fill="#000"/>
<rect x="1613" y="356" width="2" height="1" fill="#000"/>
<rect x="1613" y="389" width="2" height="1" fill="#000"/>
<rect x="1613" y="422" width="2" height="1" fill="#000"/>
<rect x="1613" y="455" width="2" height="1" fill="#000"/>
<rect x="1613" y="488" width="2" height="1" fill="#000"/>
<rect x="1613" y="521" width="2" height="1" fill="#000"/>
<rect x="1613" y="554" width="2" height="1" fill="#000"/>
<rect x="1613" y="587" width="2" height="1" fill="#000"/>
<rect x="1613" y="594" width="1" height="1" fill="#000"/>
<rect x="1613" y="695" width="1" height="1" fill="#000"/>
<rect x="1613" y="700" width="1" height="1" fill="#000"/>
<rect x="1613" y="745" width="1" height="1" fill="#000"/>
<rect x="1613" y="800" width="1" height="1" fill="#000"/>
</g>
<text class="ax" transform="translate(1618 29.9) scale(1 1.03)">1.14790</text>
<text class="ax" transform="translate(1618 62.9) scale(1 1.03)">1.14370</text>
<text class="ax" transform="translate(1618 95.9) scale(1 1.03)">1.13950</text>
<text class="ax" transform="translate(1618 128.9) scale(1 1.03)">1.13530</text>
<text class="ax" transform="translate(1618 161.9) scale(1 1.03)">1.13110</text>
<text class="ax" transform="translate(1618 194.9) scale(1 1.03)">1.12680</text>
<text class="ax" transform="translate(1618 227.9) scale(1 1.03)">1.12260</text>
<text class="ax" transform="translate(1618 260.9) scale(1 1.03)">1.11840</text>
<text class="ax" transform="translate(1618 293.9) scale(1 1.03)">1.11420</text>
<text class="ax" transform="translate(1618 326.9) scale(1 1.03)">1.11000</text>
<text class="ax" transform="translate(1618 359.9) scale(1 1.03)">1.10580</text>
<text class="ax" transform="translate(1618 392.9) scale(1 1.03)">1.10160</text>
<text class="ax" transform="translate(1618 425.9) scale(1 1.03)">1.09740</text>
<text class="ax" transform="translate(1618 458.9) scale(1 1.03)">1.09310</text>
<text class="ax" transform="translate(1618 491.9) scale(1 1.03)">1.08890</text>
<text class="ax" transform="translate(1618 524.9) scale(1 1.03)">1.08470</text>
<text class="ax" transform="translate(1618 557.9) scale(1 1.03)">1.08050</text>
<text class="ax" transform="translate(1618 590.9) scale(1 1.03)">1.07630</text>
<text class="ax" transform="translate(1616.2 603.3) scale(1 1.03)">100</text>
<text class="ax" transform="translate(1616.2 628) scale(1 1.03)">70</text>
<text class="ax" transform="translate(1616.2 669) scale(1 1.03)">30</text>
<text class="ax" transform="translate(1616.2 692.8) scale(1 1.03)">0</text>
<text class="ax" transform="translate(1616.2 708.8) scale(1 1.03)">0.006287</text>
<text class="ax" transform="translate(1616.2 749) scale(1 1.03)">0.00</text>
<text class="ax" transform="translate(1616.2 798.3) scale(1 1.03)">-0.007658</text>
<g shape-rendering="crispEdges">
<rect x="1614" y="225" width="40" height="11" fill="#000"/>
<rect x="1614" y="158" width="40" height="11" fill="#ff0000"/>
<rect x="1614" y="238" width="40" height="11" fill="#ff0000"/>
<rect x="1614" y="316" width="40" height="11" fill="#ff0000"/>
<rect x="1614" y="395" width="40" height="11" fill="#00ff00"/>
<rect x="1614" y="489" width="40" height="11" fill="#0000ff"/>
<rect x="1614" y="552" width="40" height="11" fill="#0000cd"/>
</g>
<text class="ax w" transform="translate(1618 233.8) scale(1 1.03)">1.12182</text>
<text class="ax w" transform="translate(1618 166.8) scale(1 1.03)">1.13034</text>
<text class="ax w" transform="translate(1618 246.8) scale(1 1.03)">1.12004</text>
<text class="ax w" transform="translate(1618 324.8) scale(1 1.03)">1.11009</text>
<text class="ax w" transform="translate(1618 403.8) scale(1 1.03)">1.10008</text>
<text class="ax w" transform="translate(1618 497.8) scale(1 1.03)">1.08800</text>
<text class="ax w" transform="translate(1618 560.8) scale(1 1.03)">1.08008</text>
<path d="M7.8 30.2 L15.2 30.2 L11.5 34.4 Z" fill="#000"/>
<text class="ttl" transform="translate(20 34.7) scale(1 1)" style="font-size:9.5px">EURUSD,Daily</text>
<text class="ttl" transform="translate(90.2 34.7) scale(1 1)" style="font-size:9.29px">1.11872 1.12439 1.11785 1.12182</text>
<path d="M1284 23.5 L1294 23.5 L1289 28 Z" fill="#c0c0c0"/>
<text class="ttl" transform="translate(9.3 605.1) scale(1 1)" style="font-size:9.25px">RSI(14) 75.1493</text>
<text class="ttl" transform="translate(9.3 711.1) scale(1 1)">MACD(12,26,9) 0.005653 0.000460</text>
<g shape-rendering="crispEdges">
<line x1="5" y1="624.5" x2="1612" y2="624.5" stroke="#c0c0c0" stroke-width="1" stroke-dasharray="3 3"/>
<line x1="5" y1="665.5" x2="1612" y2="665.5" stroke="#c0c0c0" stroke-width="1" stroke-dasharray="3 3"/>
</g>
<path d="M5 638h3v1h-3zM8 639h2v1h-2zM10 640h1v2h-1zM11 642h1v1h-1zM12 643h1v2h-1zM13 645h1v1h-1zM14 646h1v2h-1zM15 648h1v2h-1zM16 650h1v2h-1zM17 652h1v1h-1zM18 653h2v1h-2zM20 654h1v1h-1zM21 655h1v1h-1zM22 654h2v1h-2zM24 653h2v1h-2zM25 652h1v1h-1zM26 654h1v3h-1zM27 657h1v2h-1zM28 659h1v3h-1zM29 662h1v2h-1zM30 663h2v1h-2zM32 662h4v1h-4zM36 661h3v1h-3zM39 662h3v1h-3zM41 663h1v1h-1zM42 659h1v3h-1zM43 657h1v2h-1zM44 654h1v3h-1zM45 652h1v2h-1zM46 650h1v2h-1zM47 649h1v1h-1zM48 647h1v2h-1zM49 646h1v1h-1zM50 647h2v1h-2zM52 648h1v1h-1zM53 649h1v1h-1zM54 647h1v2h-1zM55 646h1v1h-1zM56 644h1v2h-1zM57 643h3v1h-3zM60 644h2v1h-2zM62 643h2v1h-2zM64 642h1v1h-1zM65 641h3v1h-3zM68 640h4v1h-4zM72 639h3v1h-3zM75 638h3v1h-3zM77 637h1v1h-1zM78 639h1v4h-1zM79 643h1v4h-1zM80 647h1v4h-1zM81 651h1v2h-1zM82 651h2v1h-2zM84 650h1v1h-1zM85 649h1v1h-1zM86 648h1v1h-1zM87 647h1v1h-1zM88 646h1v1h-1zM89 645h1v1h-1zM90 646h1v2h-1zM91 648h1v1h-1zM92 649h1v2h-1zM93 651h1v1h-1zM94 652h1v1h-1zM95 653h1v1h-1zM96 654h1v1h-1zM97 655h2v1h-2zM99 656h2v1h-2zM101 657h3v1h-3zM104 658h4v1h-4zM108 659h4v1h-4zM112 660h2v1h-2zM114 661h2v1h-2zM116 662h2v1h-2zM117 663h1v1h-1zM118 659h1v3h-1zM119 656h1v3h-1zM120 653h1v3h-1zM121 651h1v2h-1zM122 652h1v1h-1zM123 653h1v1h-1zM124 654h1v1h-1zM125 655h3v1h-3zM128 654h6v1h-6zM133 653h1v1h-1zM134 651h1v2h-1zM135 649h1v2h-1zM136 647h1v2h-1zM137 646h1v1h-1zM138 645h2v1h-2zM140 644h1v1h-1zM141 643h2v1h-2zM143 644h2v1h-2zM145 645h3v1h-3zM148 646h2v1h-2zM150 644h1v2h-1zM151 642h1v2h-1zM152 640h1v2h-1zM153 639h3v1h-3zM156 640h8v1h-8zM164 641h4v1h-4zM168 640h2v1h-2zM169 641h1v1h-1zM170 642h1v3h-1zM171 645h1v2h-1zM172 647h1v3h-1zM173 650h1v2h-1zM174 651h1v1h-1zM175 652h2v1h-2zM177 653h1v1h-1zM178 652h2v1h-2zM180 651h1v1h-1zM181 650h1v1h-1zM182 649h2v1h-2zM184 648h2v1h-2zM185 647h1v1h-1zM186 649h1v2h-1zM187 651h1v2h-1zM188 653h1v2h-1zM189 655h1v1h-1zM190 656h2v1h-2zM192 657h1v1h-1zM193 658h1v1h-1zM194 659h1v2h-1zM195 661h1v1h-1zM196 662h1v2h-1zM197 664h1v1h-1zM198 663h1v1h-1zM199 662h1v1h-1zM200 661h1v1h-1zM201 660h6v1h-6zM207 659h2v1h-2zM209 657h1v2h-1zM210 655h1v2h-1zM211 653h1v2h-1zM212 651h1v2h-1zM213 649h1v2h-1zM214 647h1v2h-1zM215 645h1v2h-1zM216 643h1v2h-1zM217 642h1v2h-1zM218 644h1v2h-1zM219 646h1v2h-1zM220 648h1v2h-1zM221 650h1v2h-1zM222 651h6v1h-6zM228 650h4v1h-4zM232 649h2v1h-2zM234 650h2v1h-2zM236 651h1v1h-1zM237 652h1v1h-1zM238 651h1v1h-1zM239 649h1v2h-1zM240 648h1v1h-1zM241 647h1v1h-1zM242 646h1v1h-1zM243 645h1v1h-1zM244 644h1v1h-1zM245 643h2v1h-2zM247 642h2v1h-2zM249 641h2v1h-2zM251 642h2v1h-2zM253 643h5v1h-5zM258 644h1v1h-1zM259 645h1v1h-1zM260 646h1v1h-1zM261 647h3v1h-3zM264 648h2v1h-2zM266 649h1v1h-1zM267 650h1v2h-1zM268 652h1v1h-1zM269 653h2v1h-2zM271 654h2v1h-2zM273 655h3v1h-3zM276 656h2v1h-2zM278 655h2v1h-2zM280 654h1v1h-1zM281 653h1v1h-1zM282 654h2v1h-2zM284 655h1v1h-1zM285 656h5v1h-5zM290 655h1v1h-1zM291 653h1v2h-1zM292 652h1v1h-1zM293 651h1v1h-1zM294 649h1v2h-1zM295 648h1v1h-1zM296 646h1v2h-1zM297 645h1v1h-1zM298 644h2v1h-2zM300 643h1v1h-1zM301 642h1v1h-1zM302 643h1v1h-1zM303 644h1v2h-1zM304 646h1v1h-1zM305 647h1v1h-1zM306 648h2v1h-2zM308 649h1v1h-1zM309 650h1v1h-1zM310 651h1v2h-1zM311 653h1v2h-1zM312 655h1v2h-1zM313 657h3v1h-3zM316 656h2v1h-2zM318 655h2v1h-2zM320 654h1v1h-1zM321 653h1v1h-1zM322 651h1v2h-1zM323 650h1v1h-1zM324 648h1v2h-1zM325 647h1v1h-1zM326 645h1v2h-1zM327 644h1v1h-1zM328 642h1v2h-1zM329 641h1v1h-1zM330 639h1v2h-1zM331 638h1v1h-1zM332 636h1v2h-1zM333 635h3v1h-3zM336 634h2v1h-2zM338 632h1v2h-1zM339 630h1v2h-1zM340 628h1v2h-1zM341 627h1v1h-1zM342 626h2v1h-2zM344 625h1v1h-1zM345 624h2v1h-2zM347 623h3v1h-3zM349 622h1v1h-1zM350 624h1v2h-1zM351 626h1v2h-1zM352 628h1v2h-1zM353 630h3v1h-3zM356 629h4v1h-4zM360 630h2v1h-2zM361 631h1v1h-1zM362 632h1v2h-1zM363 634h1v2h-1zM364 636h1v2h-1zM365 638h1v3h-1zM366 641h1v2h-1zM367 643h1v3h-1zM368 646h1v2h-1zM369 648h1v2h-1zM370 649h2v1h-2zM372 650h2v1h-2zM374 649h1v1h-1zM375 647h1v2h-1zM376 646h1v1h-1zM377 645h1v1h-1zM378 646h1v2h-1zM379 648h1v1h-1zM380 649h1v2h-1zM381 651h1v1h-1zM382 650h2v1h-2zM384 649h1v1h-1zM385 647h1v2h-1zM386 645h1v2h-1zM387 642h1v3h-1zM388 640h1v2h-1zM389 638h1v2h-1zM390 637h1v1h-1zM391 635h1v2h-1zM392 634h1v1h-1zM393 633h1v1h-1zM394 632h1v1h-1zM395 631h1v1h-1zM396 630h1v1h-1zM397 629h2v1h-2zM399 628h2v1h-2zM401 627h3v1h-3zM404 628h6v1h-6zM410 629h2v1h-2zM412 630h1v1h-1zM413 631h9v1h-9zM421 632h1v1h-1zM422 633h1v3h-1zM423 636h1v4h-1zM424 640h1v3h-1zM425 643h1v2h-1zM426 644h2v1h-2zM428 645h2v1h-2zM430 646h1v1h-1zM431 647h1v1h-1zM432 648h1v1h-1zM433 649h2v1h-2zM435 648h3v1h-3zM437 647h1v1h-1zM438 649h1v2h-1zM439 651h1v2h-1zM440 653h1v2h-1zM441 655h1v2h-1zM442 656h2v1h-2zM444 655h3v1h-3zM447 656h2v1h-2zM449 657h3v1h-3zM452 656h2v1h-2zM453 655h1v1h-1zM454 653h1v2h-1zM455 651h1v2h-1zM456 649h1v2h-1zM457 647h1v2h-1zM458 647h6v1h-6zM464 648h2v1h-2zM466 647h2v1h-2zM468 646h1v1h-1zM469 645h2v1h-2zM471 646h2v1h-2zM473 647h1v1h-1zM474 648h1v2h-1zM475 650h1v2h-1zM476 652h1v2h-1zM477 654h1v1h-1zM478 653h2v1h-2zM480 652h1v1h-1zM481 651h7v1h-7zM488 652h4v1h-4zM492 653h6v1h-6zM497 654h1v1h-1zM498 655h1v2h-1zM499 657h1v2h-1zM500 659h1v2h-1zM501 661h1v2h-1zM502 662h1v1h-1zM503 663h2v1h-2zM505 664h1v1h-1zM506 663h1v1h-1zM507 662h1v1h-1zM508 661h1v1h-1zM509 660h1v1h-1zM510 661h1v1h-1zM511 662h1v1h-1zM512 663h1v1h-1zM513 664h3v1h-3zM516 663h2v1h-2zM518 662h1v1h-1zM519 661h1v1h-1zM520 660h1v1h-1zM521 659h2v1h-2zM523 658h2v1h-2zM525 657h1v1h-1zM526 658h2v1h-2zM528 659h1v1h-1zM529 660h1v2h-1zM530 662h1v2h-1zM531 664h1v2h-1zM532 666h1v2h-1zM533 667h1v2h-1zM534 664h1v3h-1zM535 662h1v2h-1zM536 659h1v3h-1zM537 657h1v2h-1zM538 657h4v1h-4zM541 656h1v1h-1zM542 652h1v4h-1zM543 649h1v3h-1zM544 645h1v4h-1zM545 643h1v2h-1zM546 643h4v1h-4zM550 642h1v1h-1zM551 640h1v2h-1zM552 639h1v1h-1zM553 638h1v1h-1zM554 639h1v1h-1zM555 640h1v2h-1zM556 642h1v1h-1zM557 643h1v1h-1zM558 642h2v1h-2zM560 641h1v1h-1zM561 640h1v1h-1zM562 641h2v1h-2zM564 642h1v1h-1zM565 643h3v1h-3zM568 642h2v1h-2zM570 643h1v1h-1zM571 644h1v1h-1zM572 645h1v1h-1zM573 646h1v1h-1zM574 647h1v2h-1zM575 649h1v1h-1zM576 650h1v2h-1zM577 652h1v1h-1zM578 653h1v1h-1zM579 654h1v2h-1zM580 656h1v1h-1zM581 657h3v1h-3zM584 658h4v1h-4zM588 657h12v1h-12zM600 656h3v1h-3zM603 657h3v1h-3zM605 658h1v1h-1zM606 654h1v3h-1zM607 651h1v3h-1zM608 648h1v3h-1zM609 646h1v2h-1zM610 646h2v1h-2zM612 645h2v1h-2zM614 646h1v2h-1zM615 648h1v2h-1zM616 650h1v2h-1zM617 652h2v1h-2zM619 653h2v1h-2zM621 654h2v1h-2zM623 655h2v1h-2zM625 656h1v1h-1zM626 657h2v1h-2zM628 658h1v1h-1zM629 659h1v1h-1zM630 660h1v2h-1zM631 662h1v2h-1zM632 664h1v2h-1zM633 666h3v1h-3zM636 667h4v1h-4zM640 668h6v1h-6zM645 667h1v1h-1zM646 664h1v3h-1zM647 660h1v4h-1zM648 657h1v3h-1zM649 655h1v2h-1zM650 655h1v1h-1zM651 654h2v1h-2zM653 653h3v1h-3zM656 652h3v1h-3zM659 653h2v1h-2zM661 654h1v1h-1zM662 652h1v2h-1zM663 651h1v1h-1zM664 649h1v2h-1zM665 648h1v1h-1zM666 649h2v1h-2zM668 650h1v1h-1zM669 651h1v1h-1zM670 652h1v2h-1zM671 654h1v1h-1zM672 655h1v2h-1zM673 656h1v2h-1zM674 653h1v3h-1zM675 649h1v4h-1zM676 646h1v3h-1zM677 644h1v2h-1zM678 644h6v1h-6zM684 645h2v1h-2zM685 646h1v1h-1zM686 647h1v2h-1zM687 649h1v2h-1zM688 651h1v2h-1zM689 653h1v2h-1zM690 651h1v2h-1zM691 649h1v2h-1zM692 647h1v2h-1zM693 645h1v2h-1zM694 645h2v1h-2zM696 646h4v1h-4zM700 647h2v1h-2zM702 648h1v2h-1zM703 650h1v1h-1zM704 651h1v2h-1zM705 653h2v1h-2zM707 652h2v1h-2zM709 651h1v1h-1zM710 652h2v1h-2zM712 653h1v1h-1zM713 654h2v1h-2zM715 653h2v1h-2zM717 652h1v1h-1zM718 653h1v2h-1zM719 655h1v1h-1zM720 656h1v2h-1zM721 658h2v1h-2zM723 659h2v1h-2zM725 660h3v1h-3zM728 659h6v1h-6zM734 660h1v1h-1zM735 661h1v1h-1zM736 662h1v1h-1zM737 663h1v1h-1zM738 661h1v2h-1zM739 660h1v1h-1zM740 658h1v2h-1zM741 657h1v1h-1zM742 656h1v1h-1zM743 655h1v1h-1zM744 654h1v1h-1zM745 653h1v1h-1zM746 651h1v2h-1zM747 650h1v1h-1zM748 648h1v2h-1zM749 647h2v1h-2zM751 648h2v1h-2zM753 649h2v1h-2zM755 648h2v1h-2zM757 647h5v1h-5zM762 648h1v2h-1zM763 650h1v1h-1zM764 651h1v2h-1zM765 653h1v1h-1zM766 651h1v2h-1zM767 650h1v1h-1zM768 648h1v2h-1zM769 647h1v1h-1zM770 645h1v2h-1zM771 644h1v1h-1zM772 642h1v2h-1zM773 641h1v1h-1zM774 640h2v1h-2zM776 639h1v1h-1zM777 638h5v1h-5zM782 639h2v1h-2zM784 640h1v1h-1zM785 641h2v1h-2zM787 640h2v1h-2zM789 639h1v1h-1zM790 638h1v1h-1zM791 636h1v2h-1zM792 635h1v1h-1zM793 634h1v1h-1zM794 632h1v2h-1zM795 631h1v1h-1zM796 629h1v2h-1zM797 628h1v1h-1zM798 627h2v1h-2zM800 626h1v1h-1zM801 625h3v1h-3zM804 624h2v1h-2zM806 625h1v1h-1zM807 626h1v2h-1zM808 628h1v1h-1zM809 629h3v1h-3zM812 630h2v1h-2zM814 631h1v1h-1zM815 632h1v1h-1zM816 633h1v1h-1zM817 634h1v1h-1zM818 635h1v1h-1zM819 636h1v1h-1zM820 637h1v1h-1zM821 638h1v1h-1zM822 639h1v1h-1zM823 640h1v1h-1zM824 641h1v1h-1zM825 642h5v1h-5zM830 641h2v1h-2zM832 640h1v1h-1zM833 639h1v1h-1zM834 638h2v1h-2zM836 637h1v1h-1zM837 636h3v1h-3zM840 635h2v1h-2zM842 634h1v1h-1zM843 632h1v2h-1zM844 631h1v1h-1zM845 630h2v1h-2zM847 629h2v1h-2zM849 628h2v1h-2zM851 629h2v1h-2zM853 630h2v1h-2zM855 631h2v1h-2zM857 632h1v3h-1zM858 635h1v4h-1zM859 639h1v4h-1zM860 643h1v4h-1zM861 647h1v3h-1zM862 649h2v1h-2zM864 648h2v1h-2zM866 649h1v1h-1zM867 650h1v2h-1zM868 652h1v1h-1zM869 653h1v1h-1zM870 654h2v1h-2zM872 655h1v1h-1zM873 656h5v1h-5zM878 655h2v1h-2zM880 654h1v1h-1zM881 653h1v1h-1zM882 654h2v1h-2zM884 655h1v1h-1zM885 656h3v1h-3zM888 657h4v1h-4zM892 658h2v1h-2zM893 657h1v1h-1zM894 654h1v3h-1zM895 652h1v2h-1zM896 649h1v3h-1zM897 647h1v2h-1zM898 647h2v1h-2zM900 646h2v1h-2zM902 645h1v1h-1zM903 643h1v2h-1zM904 642h1v1h-1zM905 641h3v1h-3zM908 642h3v1h-3zM911 643h2v1h-2zM913 644h3v1h-3zM916 643h2v1h-2zM917 644h1v1h-1zM918 645h1v2h-1zM919 647h1v2h-1zM920 649h1v2h-1zM921 651h3v1h-3zM924 652h2v1h-2zM926 653h2v1h-2zM928 654h1v1h-1zM929 655h6v1h-6zM935 656h2v1h-2zM937 657h2v1h-2zM939 656h2v1h-2zM941 655h1v1h-1zM942 653h1v2h-1zM943 652h1v1h-1zM944 650h1v2h-1zM945 649h1v1h-1zM946 650h2v1h-2zM948 651h2v1h-2zM949 652h1v1h-1zM950 648h1v3h-1zM951 645h1v3h-1zM952 642h1v3h-1zM953 640h1v2h-1zM954 640h1v1h-1zM955 639h2v1h-2zM957 638h2v1h-2zM959 637h2v1h-2zM961 636h3v1h-3zM964 635h2v1h-2zM965 636h1v1h-1zM966 637h1v3h-1zM967 640h1v2h-1zM968 642h1v3h-1zM969 645h1v2h-1zM970 646h2v1h-2zM972 645h2v1h-2zM974 644h2v1h-2zM976 643h1v1h-1zM977 642h1v1h-1zM978 641h1v1h-1zM979 640h1v1h-1zM980 639h1v1h-1zM981 638h3v1h-3zM984 639h2v1h-2zM986 637h1v2h-1zM987 636h1v1h-1zM988 634h1v2h-1zM989 633h1v1h-1zM990 632h2v1h-2zM992 631h1v1h-1zM993 630h1v1h-1zM994 631h1v1h-1zM995 632h1v2h-1zM996 634h1v1h-1zM997 635h1v1h-1zM998 634h2v1h-2zM1000 633h1v1h-1zM1001 632h1v1h-1zM1002 631h2v1h-2zM1004 630h2v1h-2zM1005 629h1v1h-1zM1006 631h1v2h-1zM1007 633h1v2h-1zM1008 635h1v2h-1zM1009 637h2v1h-2zM1011 638h2v1h-2zM1013 639h1v1h-1zM1014 640h1v2h-1zM1015 642h1v1h-1zM1016 643h1v2h-1zM1017 645h1v1h-1zM1018 646h1v1h-1zM1019 647h1v1h-1zM1020 648h1v1h-1zM1021 649h1v1h-1zM1022 648h1v1h-1zM1023 646h1v2h-1zM1024 645h1v1h-1zM1025 644h2v1h-2zM1027 645h2v1h-2zM1029 646h3v1h-3zM1032 645h2v1h-2zM1034 644h2v1h-2zM1036 643h1v1h-1zM1037 641h1v2h-1zM1038 638h1v3h-1zM1039 636h1v2h-1zM1040 633h1v3h-1zM1041 631h1v2h-1zM1042 631h1v1h-1zM1043 630h2v1h-2zM1045 629h1v1h-1zM1046 628h2v1h-2zM1048 627h1v1h-1zM1049 626h2v1h-2zM1051 625h2v1h-2zM1053 624h2v1h-2zM1055 625h2v1h-2zM1057 626h1v1h-1zM1058 627h1v1h-1zM1059 628h1v1h-1zM1060 629h1v1h-1zM1061 630h1v2h-1zM1062 632h1v2h-1zM1063 634h1v2h-1zM1064 636h1v2h-1zM1065 638h1v2h-1zM1066 639h2v1h-2zM1068 638h2v1h-2zM1070 637h1v1h-1zM1071 636h1v1h-1zM1072 635h2v1h-2zM1073 634h1v1h-1zM1074 636h1v2h-1zM1075 638h1v3h-1zM1076 641h1v2h-1zM1077 643h1v2h-1zM1078 645h1v1h-1zM1079 646h1v1h-1zM1080 647h1v1h-1zM1081 648h1v1h-1zM1082 649h2v1h-2zM1084 650h1v1h-1zM1085 651h2v1h-2zM1087 650h2v1h-2zM1089 649h2v1h-2zM1091 648h2v1h-2zM1093 647h2v1h-2zM1095 646h2v1h-2zM1097 645h2v1h-2zM1099 646h2v1h-2zM1101 647h1v1h-1zM1102 645h1v2h-1zM1103 644h1v1h-1zM1104 642h1v2h-1zM1105 641h2v1h-2zM1107 642h2v1h-2zM1109 643h1v2h-1zM1110 645h1v2h-1zM1111 647h1v2h-1zM1112 649h1v2h-1zM1113 651h1v2h-1zM1114 652h5v1h-5zM1119 653h2v1h-2zM1121 654h1v1h-1zM1122 653h1v1h-1zM1123 652h1v1h-1zM1124 651h1v1h-1zM1125 650h1v1h-1zM1126 651h1v1h-1zM1127 652h1v1h-1zM1128 653h1v1h-1zM1129 654h1v1h-1zM1130 655h1v1h-1zM1131 656h1v2h-1zM1132 658h1v1h-1zM1133 659h2v1h-2zM1135 660h2v1h-2zM1137 661h3v1h-3zM1140 660h3v1h-3zM1143 661h2v1h-2zM1145 662h2v1h-2zM1147 663h2v1h-2zM1149 664h5v1h-5zM1153 663h1v1h-1zM1154 661h1v2h-1zM1155 658h1v3h-1zM1156 656h1v2h-1zM1157 653h1v3h-1zM1158 651h1v2h-1zM1159 648h1v3h-1zM1160 646h1v2h-1zM1161 644h1v2h-1zM1162 644h2v1h-2zM1164 643h2v1h-2zM1166 644h1v2h-1zM1167 646h1v1h-1zM1168 647h1v2h-1zM1169 649h1v1h-1zM1170 650h2v1h-2zM1172 651h1v1h-1zM1173 652h1v1h-1zM1174 653h1v1h-1zM1175 654h1v2h-1zM1176 656h1v1h-1zM1177 657h1v1h-1zM1178 658h1v1h-1zM1179 659h1v1h-1zM1180 660h1v1h-1zM1181 661h3v1h-3zM1184 662h3v1h-3zM1187 663h2v1h-2zM1189 664h1v1h-1zM1190 665h2v1h-2zM1192 666h1v1h-1zM1193 667h5v1h-5zM1198 668h2v1h-2zM1200 669h1v1h-1zM1201 670h1v1h-1zM1202 671h1v1h-1zM1203 672h1v1h-1zM1204 673h1v1h-1zM1205 674h11v1h-11zM1216 675h4v1h-4zM1220 676h3v1h-3zM1223 677h2v1h-2zM1225 678h2v1h-2zM1227 677h2v1h-2zM1229 674h1v3h-1zM1230 670h1v4h-1zM1231 666h1v4h-1zM1232 662h1v4h-1zM1233 660h1v2h-1zM1234 660h2v1h-2zM1236 659h7v1h-7zM1243 658h2v1h-2zM1245 657h3v1h-3zM1248 656h2v1h-2zM1249 654h1v2h-1zM1250 648h1v6h-1zM1251 643h1v5h-1zM1252 637h1v6h-1zM1253 634h1v3h-1zM1254 634h4v1h-4zM1258 633h1v1h-1zM1259 631h1v2h-1zM1260 630h1v1h-1zM1261 628h1v2h-1zM1262 626h1v2h-1zM1263 624h1v2h-1zM1264 622h1v2h-1zM1265 620h1v2h-1zM1266 619h2v1h-2zM1268 618h2v1h-2zM1269 617h1v1h-1zM1270 619h1v2h-1zM1271 621h1v2h-1zM1272 623h1v2h-1zM1273 625h1v1h-1zM1274 624h1v1h-1zM1275 623h1v1h-1zM1276 622h1v1h-1zM1277 621h2v1h-2zM1279 620h2v1h-2zM1281 619h1v1h-1z" fill="#1e90ff" shape-rendering="crispEdges"/>
<g shape-rendering="crispEdges">
<rect x="5" y="745" width="1" height="3" fill="#c0c0c0"/>
<rect x="9" y="745" width="1" height="1" fill="#c0c0c0"/>
<rect x="13" y="745" width="1" height="1" fill="#c0c0c0"/>
<rect x="17" y="745" width="1" height="3" fill="#c0c0c0"/>
<rect x="21" y="745" width="1" height="6" fill="#c0c0c0"/>
<rect x="25" y="745" width="1" height="7" fill="#c0c0c0"/>
<rect x="29" y="745" width="1" height="12" fill="#c0c0c0"/>
<rect x="33" y="745" width="1" height="17" fill="#c0c0c0"/>
<rect x="37" y="745" width="1" height="19" fill="#c0c0c0"/>
<rect x="41" y="745" width="1" height="22" fill="#c0c0c0"/>
<rect x="45" y="745" width="1" height="21" fill="#c0c0c0"/>
<rect x="49" y="745" width="1" height="18" fill="#c0c0c0"/>
<rect x="53" y="745" width="1" height="17" fill="#c0c0c0"/>
<rect x="57" y="745" width="1" height="14" fill="#c0c0c0"/>
<rect x="61" y="745" width="1" height="11" fill="#c0c0c0"/>
<rect x="65" y="745" width="1" height="9" fill="#c0c0c0"/>
<rect x="69" y="745" width="1" height="6" fill="#c0c0c0"/>
<rect x="73" y="745" width="1" height="3" fill="#c0c0c0"/>
<rect x="77" y="744" width="1" height="2" fill="#c0c0c0"/>
<rect x="81" y="745" width="1" height="3" fill="#c0c0c0"/>
<rect x="85" y="745" width="1" height="4" fill="#c0c0c0"/>
<rect x="89" y="745" width="1" height="3" fill="#c0c0c0"/>
<rect x="93" y="745" width="1" height="5" fill="#c0c0c0"/>
<rect x="97" y="745" width="1" height="8" fill="#c0c0c0"/>
<rect x="101" y="745" width="1" height="12" fill="#c0c0c0"/>
<rect x="105" y="745" width="1" height="14" fill="#c0c0c0"/>
<rect x="109" y="745" width="1" height="17" fill="#c0c0c0"/>
<rect x="113" y="745" width="1" height="19" fill="#c0c0c0"/>
<rect x="117" y="745" width="1" height="22" fill="#c0c0c0"/>
<rect x="121" y="745" width="1" height="21" fill="#c0c0c0"/>
<rect x="125" y="745" width="1" height="21" fill="#c0c0c0"/>
<rect x="129" y="745" width="1" height="21" fill="#c0c0c0"/>
<rect x="133" y="745" width="1" height="21" fill="#c0c0c0"/>
<rect x="137" y="745" width="1" height="18" fill="#c0c0c0"/>
<rect x="141" y="745" width="1" height="15" fill="#c0c0c0"/>
<rect x="145" y="745" width="1" height="13" fill="#c0c0c0"/>
<rect x="149" y="745" width="1" height="11" fill="#c0c0c0"/>
<rect x="153" y="745" width="1" height="7" fill="#c0c0c0"/>
<rect x="157" y="745" width="1" height="5" fill="#c0c0c0"/>
<rect x="161" y="745" width="1" height="3" fill="#c0c0c0"/>
<rect x="165" y="745" width="1" height="1" fill="#c0c0c0"/>
<rect x="169" y="744" width="1" height="2" fill="#c0c0c0"/>
<rect x="173" y="745" width="1" height="2" fill="#c0c0c0"/>
<rect x="177" y="745" width="1" height="4" fill="#c0c0c0"/>
<rect x="181" y="745" width="1" height="5" fill="#c0c0c0"/>
<rect x="185" y="745" width="1" height="5" fill="#c0c0c0"/>
<rect x="189" y="745" width="1" height="8" fill="#c0c0c0"/>
<rect x="193" y="745" width="1" height="11" fill="#c0c0c0"/>
<rect x="197" y="745" width="1" height="16" fill="#c0c0c0"/>
<rect x="201" y="745" width="1" height="19" fill="#c0c0c0"/>
<rect x="205" y="745" width="1" height="21" fill="#c0c0c0"/>
<rect x="209" y="745" width="1" height="22" fill="#c0c0c0"/>
<rect x="213" y="745" width="1" height="20" fill="#c0c0c0"/>
<rect x="217" y="745" width="1" height="16" fill="#c0c0c0"/>
<rect x="221" y="745" width="1" height="16" fill="#c0c0c0"/>
<rect x="225" y="745" width="1" height="16" fill="#c0c0c0"/>
<rect x="229" y="745" width="1" height="15" fill="#c0c0c0"/>
<rect x="233" y="745" width="1" height="15" fill="#c0c0c0"/>
<rect x="237" y="745" width="1" height="15" fill="#c0c0c0"/>
<rect x="241" y="745" width="1" height="13" fill="#c0c0c0"/>
<rect x="245" y="745" width="1" height="11" fill="#c0c0c0"/>
<rect x="249" y="745" width="1" height="8" fill="#c0c0c0"/>
<rect x="253" y="745" width="1" height="6" fill="#c0c0c0"/>
<rect x="257" y="745" width="1" height="5" fill="#c0c0c0"/>
<rect x="261" y="745" width="1" height="5" fill="#c0c0c0"/>
<rect x="265" y="745" width="1" height="5" fill="#c0c0c0"/>
<rect x="269" y="745" width="1" height="7" fill="#c0c0c0"/>
<rect x="273" y="745" width="1" height="9" fill="#c0c0c0"/>
<rect x="277" y="745" width="1" height="10" fill="#c0c0c0"/>
<rect x="281" y="745" width="1" height="11" fill="#c0c0c0"/>
<rect x="285" y="745" width="1" height="12" fill="#c0c0c0"/>
<rect x="289" y="745" width="1" height="13" fill="#c0c0c0"/>
<rect x="293" y="745" width="1" height="13" fill="#c0c0c0"/>
<rect x="297" y="745" width="1" height="11" fill="#c0c0c0"/>
<rect x="301" y="745" width="1" height="9" fill="#c0c0c0"/>
<rect x="305" y="745" width="1" height="8" fill="#c0c0c0"/>
<rect x="309" y="745" width="1" height="8" fill="#c0c0c0"/>
<rect x="313" y="745" width="1" height="10" fill="#c0c0c0"/>
<rect x="317" y="745" width="1" height="12" fill="#c0c0c0"/>
<rect x="321" y="745" width="1" height="12" fill="#c0c0c0"/>
<rect x="325" y="745" width="1" height="11" fill="#c0c0c0"/>
<rect x="329" y="745" width="1" height="8" fill="#c0c0c0"/>
<rect x="333" y="745" width="1" height="4" fill="#c0c0c0"/>
<rect x="337" y="745" width="1" height="1" fill="#c0c0c0"/>
<rect x="341" y="739" width="1" height="7" fill="#c0c0c0"/>
<rect x="345" y="733" width="1" height="13" fill="#c0c0c0"/>
<rect x="349" y="727" width="1" height="19" fill="#c0c0c0"/>
<rect x="353" y="725" width="1" height="21" fill="#c0c0c0"/>
<rect x="357" y="723" width="1" height="23" fill="#c0c0c0"/>
<rect x="361" y="722" width="1" height="24" fill="#c0c0c0"/>
<rect x="365" y="724" width="1" height="22" fill="#c0c0c0"/>
<rect x="369" y="728" width="1" height="18" fill="#c0c0c0"/>
<rect x="373" y="733" width="1" height="13" fill="#c0c0c0"/>
<rect x="377" y="735" width="1" height="11" fill="#c0c0c0"/>
<rect x="381" y="739" width="1" height="7" fill="#c0c0c0"/>
<rect x="385" y="741" width="1" height="5" fill="#c0c0c0"/>
<rect x="389" y="738" width="1" height="8" fill="#c0c0c0"/>
<rect x="393" y="734" width="1" height="12" fill="#c0c0c0"/>
<rect x="397" y="729" width="1" height="17" fill="#c0c0c0"/>
<rect x="401" y="723" width="1" height="23" fill="#c0c0c0"/>
<rect x="405" y="720" width="1" height="26" fill="#c0c0c0"/>
<rect x="409" y="717" width="1" height="29" fill="#c0c0c0"/>
<rect x="413" y="716" width="1" height="30" fill="#c0c0c0"/>
<rect x="417" y="716" width="1" height="30" fill="#c0c0c0"/>
<rect x="421" y="715" width="1" height="31" fill="#c0c0c0"/>
<rect x="425" y="720" width="1" height="26" fill="#c0c0c0"/>
<rect x="429" y="724" width="1" height="22" fill="#c0c0c0"/>
<rect x="433" y="728" width="1" height="18" fill="#c0c0c0"/>
<rect x="437" y="732" width="1" height="14" fill="#c0c0c0"/>
<rect x="441" y="738" width="1" height="8" fill="#c0c0c0"/>
<rect x="445" y="743" width="1" height="3" fill="#c0c0c0"/>
<rect x="449" y="745" width="1" height="4" fill="#c0c0c0"/>
<rect x="453" y="745" width="1" height="7" fill="#c0c0c0"/>
<rect x="457" y="745" width="1" height="7" fill="#c0c0c0"/>
<rect x="461" y="745" width="1" height="7" fill="#c0c0c0"/>
<rect x="465" y="745" width="1" height="7" fill="#c0c0c0"/>
<rect x="469" y="745" width="1" height="6" fill="#c0c0c0"/>
<rect x="473" y="745" width="1" height="6" fill="#c0c0c0"/>
<rect x="477" y="745" width="1" height="9" fill="#c0c0c0"/>
<rect x="481" y="745" width="1" height="9" fill="#c0c0c0"/>
<rect x="485" y="745" width="1" height="10" fill="#c0c0c0"/>
<rect x="489" y="745" width="1" height="11" fill="#c0c0c0"/>
<rect x="493" y="745" width="1" height="12" fill="#c0c0c0"/>
<rect x="497" y="745" width="1" height="12" fill="#c0c0c0"/>
<rect x="501" y="745" width="1" height="16" fill="#c0c0c0"/>
<rect x="505" y="745" width="1" height="20" fill="#c0c0c0"/>
<rect x="509" y="745" width="1" height="21" fill="#c0c0c0"/>
<rect x="513" y="745" width="1" height="25" fill="#c0c0c0"/>
<rect x="517" y="745" width="1" height="26" fill="#c0c0c0"/>
<rect x="521" y="745" width="1" height="27" fill="#c0c0c0"/>
<rect x="525" y="745" width="1" height="26" fill="#c0c0c0"/>
<rect x="529" y="745" width="1" height="26" fill="#c0c0c0"/>
<rect x="533" y="745" width="1" height="30" fill="#c0c0c0"/>
<rect x="537" y="745" width="1" height="30" fill="#c0c0c0"/>
<rect x="541" y="745" width="1" height="30" fill="#c0c0c0"/>
<rect x="545" y="745" width="1" height="24" fill="#c0c0c0"/>
<rect x="549" y="745" width="1" height="20" fill="#c0c0c0"/>
<rect x="553" y="745" width="1" height="14" fill="#c0c0c0"/>
<rect x="557" y="745" width="1" height="11" fill="#c0c0c0"/>
<rect x="561" y="745" width="1" height="7" fill="#c0c0c0"/>
<rect x="565" y="745" width="1" height="5" fill="#c0c0c0"/>
<rect x="569" y="745" width="1" height="4" fill="#c0c0c0"/>
<rect x="573" y="745" width="1" height="4" fill="#c0c0c0"/>
<rect x="577" y="745" width="1" height="6" fill="#c0c0c0"/>
<rect x="581" y="745" width="1" height="10" fill="#c0c0c0"/>
<rect x="585" y="745" width="1" height="14" fill="#c0c0c0"/>
<rect x="589" y="745" width="1" height="16" fill="#c0c0c0"/>
<rect x="593" y="745" width="1" height="18" fill="#c0c0c0"/>
<rect x="597" y="745" width="1" height="19" fill="#c0c0c0"/>
<rect x="601" y="745" width="1" height="20" fill="#c0c0c0"/>
<rect x="605" y="745" width="1" height="21" fill="#c0c0c0"/>
<rect x="609" y="745" width="1" height="18" fill="#c0c0c0"/>
<rect x="613" y="745" width="1" height="15" fill="#c0c0c0"/>
<rect x="617" y="745" width="1" height="15" fill="#c0c0c0"/>
<rect x="621" y="745" width="1" height="16" fill="#c0c0c0"/>
<rect x="625" y="745" width="1" height="17" fill="#c0c0c0"/>
<rect x="629" y="745" width="1" height="19" fill="#c0c0c0"/>
<rect x="633" y="745" width="1" height="24" fill="#c0c0c0"/>
<rect x="637" y="745" width="1" height="29" fill="#c0c0c0"/>
<rect x="641" y="745" width="1" height="33" fill="#c0c0c0"/>
<rect x="645" y="745" width="1" height="35" fill="#c0c0c0"/>
<rect x="649" y="745" width="1" height="34" fill="#c0c0c0"/>
<rect x="653" y="745" width="1" height="31" fill="#c0c0c0"/>
<rect x="657" y="745" width="1" height="29" fill="#c0c0c0"/>
<rect x="661" y="745" width="1" height="27" fill="#c0c0c0"/>
<rect x="665" y="745" width="1" height="24" fill="#c0c0c0"/>
<rect x="669" y="745" width="1" height="23" fill="#c0c0c0"/>
<rect x="673" y="745" width="1" height="23" fill="#c0c0c0"/>
<rect x="677" y="745" width="1" height="19" fill="#c0c0c0"/>
<rect x="681" y="745" width="1" height="16" fill="#c0c0c0"/>
<rect x="685" y="745" width="1" height="14" fill="#c0c0c0"/>
<rect x="689" y="745" width="1" height="15" fill="#c0c0c0"/>
<rect x="693" y="745" width="1" height="13" fill="#c0c0c0"/>
<rect x="697" y="745" width="1" height="12" fill="#c0c0c0"/>
<rect x="701" y="745" width="1" height="11" fill="#c0c0c0"/>
<rect x="705" y="745" width="1" height="13" fill="#c0c0c0"/>
<rect x="709" y="745" width="1" height="13" fill="#c0c0c0"/>
<rect x="713" y="745" width="1" height="15" fill="#c0c0c0"/>
<rect x="717" y="745" width="1" height="16" fill="#c0c0c0"/>
<rect x="721" y="745" width="1" height="19" fill="#c0c0c0"/>
<rect x="725" y="745" width="1" height="22" fill="#c0c0c0"/>
<rect x="729" y="745" width="1" height="24" fill="#c0c0c0"/>
<rect x="733" y="745" width="1" height="25" fill="#c0c0c0"/>
<rect x="737" y="745" width="1" height="28" fill="#c0c0c0"/>
<rect x="741" y="745" width="1" height="28" fill="#c0c0c0"/>
<rect x="745" y="745" width="1" height="27" fill="#c0c0c0"/>
<rect x="749" y="745" width="1" height="23" fill="#c0c0c0"/>
<rect x="753" y="745" width="1" height="21" fill="#c0c0c0"/>
<rect x="757" y="745" width="1" height="19" fill="#c0c0c0"/>
<rect x="761" y="745" width="1" height="17" fill="#c0c0c0"/>
<rect x="765" y="745" width="1" height="17" fill="#c0c0c0"/>
<rect x="769" y="745" width="1" height="15" fill="#c0c0c0"/>
<rect x="773" y="745" width="1" height="12" fill="#c0c0c0"/>
<rect x="777" y="745" width="1" height="7" fill="#c0c0c0"/>
<rect x="781" y="745" width="1" height="4" fill="#c0c0c0"/>
<rect x="785" y="745" width="1" height="2" fill="#c0c0c0"/>
<rect x="789" y="744" width="1" height="2" fill="#c0c0c0"/>
<rect x="793" y="740" width="1" height="6" fill="#c0c0c0"/>
<rect x="797" y="734" width="1" height="12" fill="#c0c0c0"/>
<rect x="801" y="728" width="1" height="18" fill="#c0c0c0"/>
<rect x="805" y="723" width="1" height="23" fill="#c0c0c0"/>
<rect x="809" y="720" width="1" height="26" fill="#c0c0c0"/>
<rect x="813" y="719" width="1" height="27" fill="#c0c0c0"/>
<rect x="817" y="719" width="1" height="27" fill="#c0c0c0"/>
<rect x="821" y="721" width="1" height="25" fill="#c0c0c0"/>
<rect x="825" y="724" width="1" height="22" fill="#c0c0c0"/>
<rect x="829" y="726" width="1" height="20" fill="#c0c0c0"/>
<rect x="833" y="727" width="1" height="19" fill="#c0c0c0"/>
<rect x="837" y="727" width="1" height="19" fill="#c0c0c0"/>
<rect x="841" y="727" width="1" height="19" fill="#c0c0c0"/>
<rect x="845" y="725" width="1" height="21" fill="#c0c0c0"/>
<rect x="849" y="723" width="1" height="23" fill="#c0c0c0"/>
<rect x="853" y="722" width="1" height="24" fill="#c0c0c0"/>
<rect x="857" y="722" width="1" height="24" fill="#c0c0c0"/>
<rect x="861" y="727" width="1" height="19" fill="#c0c0c0"/>
<rect x="865" y="731" width="1" height="15" fill="#c0c0c0"/>
<rect x="869" y="736" width="1" height="10" fill="#c0c0c0"/>
<rect x="873" y="741" width="1" height="5" fill="#c0c0c0"/>
<rect x="877" y="745" width="1" height="1" fill="#c0c0c0"/>
<rect x="881" y="745" width="1" height="4" fill="#c0c0c0"/>
<rect x="885" y="745" width="1" height="7" fill="#c0c0c0"/>
<rect x="889" y="745" width="1" height="10" fill="#c0c0c0"/>
<rect x="893" y="745" width="1" height="12" fill="#c0c0c0"/>
<rect x="897" y="745" width="1" height="11" fill="#c0c0c0"/>
<rect x="901" y="745" width="1" height="10" fill="#c0c0c0"/>
<rect x="905" y="745" width="1" height="7" fill="#c0c0c0"/>
<rect x="909" y="745" width="1" height="5" fill="#c0c0c0"/>
<rect x="913" y="745" width="1" height="4" fill="#c0c0c0"/>
<rect x="917" y="745" width="1" height="3" fill="#c0c0c0"/>
<rect x="921" y="745" width="1" height="5" fill="#c0c0c0"/>
<rect x="925" y="745" width="1" height="6" fill="#c0c0c0"/>
<rect x="929" y="745" width="1" height="8" fill="#c0c0c0"/>
<rect x="933" y="745" width="1" height="10" fill="#c0c0c0"/>
<rect x="937" y="745" width="1" height="11" fill="#c0c0c0"/>
<rect x="941" y="745" width="1" height="12" fill="#c0c0c0"/>
<rect x="945" y="745" width="1" height="11" fill="#c0c0c0"/>
<rect x="949" y="745" width="1" height="11" fill="#c0c0c0"/>
<rect x="953" y="745" width="1" height="8" fill="#c0c0c0"/>
<rect x="957" y="745" width="1" height="5" fill="#c0c0c0"/>
<rect x="961" y="745" width="1" height="2" fill="#c0c0c0"/>
<rect x="965" y="743" width="1" height="3" fill="#c0c0c0"/>
<rect x="969" y="744" width="1" height="2" fill="#c0c0c0"/>
<rect x="973" y="744" width="1" height="2" fill="#c0c0c0"/>
<rect x="977" y="743" width="1" height="3" fill="#c0c0c0"/>
<rect x="981" y="742" width="1" height="4" fill="#c0c0c0"/>
<rect x="985" y="741" width="1" height="5" fill="#c0c0c0"/>
<rect x="989" y="738" width="1" height="8" fill="#c0c0c0"/>
<rect x="993" y="735" width="1" height="11" fill="#c0c0c0"/>
<rect x="997" y="734" width="1" height="12" fill="#c0c0c0"/>
<rect x="1001" y="732" width="1" height="14" fill="#c0c0c0"/>
<rect x="1005" y="729" width="1" height="17" fill="#c0c0c0"/>
<rect x="1009" y="729" width="1" height="17" fill="#c0c0c0"/>
<rect x="1013" y="730" width="1" height="16" fill="#c0c0c0"/>
<rect x="1017" y="733" width="1" height="13" fill="#c0c0c0"/>
<rect x="1021" y="736" width="1" height="10" fill="#c0c0c0"/>
<rect x="1025" y="737" width="1" height="9" fill="#c0c0c0"/>
<rect x="1029" y="738" width="1" height="8" fill="#c0c0c0"/>
<rect x="1033" y="740" width="1" height="6" fill="#c0c0c0"/>
<rect x="1037" y="740" width="1" height="6" fill="#c0c0c0"/>
<rect x="1041" y="736" width="1" height="10" fill="#c0c0c0"/>
<rect x="1045" y="732" width="1" height="14" fill="#c0c0c0"/>
<rect x="1049" y="729" width="1" height="17" fill="#c0c0c0"/>
<rect x="1053" y="725" width="1" height="21" fill="#c0c0c0"/>
<rect x="1057" y="722" width="1" height="24" fill="#c0c0c0"/>
<rect x="1061" y="721" width="1" height="25" fill="#c0c0c0"/>
<rect x="1065" y="723" width="1" height="23" fill="#c0c0c0"/>
<rect x="1069" y="724" width="1" height="22" fill="#c0c0c0"/>
<rect x="1073" y="724" width="1" height="22" fill="#c0c0c0"/>
<rect x="1077" y="727" width="1" height="19" fill="#c0c0c0"/>
<rect x="1081" y="731" width="1" height="15" fill="#c0c0c0"/>
<rect x="1085" y="735" width="1" height="11" fill="#c0c0c0"/>
<rect x="1089" y="738" width="1" height="8" fill="#c0c0c0"/>
<rect x="1093" y="740" width="1" height="6" fill="#c0c0c0"/>
<rect x="1097" y="740" width="1" height="6" fill="#c0c0c0"/>
<rect x="1101" y="742" width="1" height="4" fill="#c0c0c0"/>
<rect x="1105" y="741" width="1" height="5" fill="#c0c0c0"/>
<rect x="1109" y="741" width="1" height="5" fill="#c0c0c0"/>
<rect x="1113" y="744" width="1" height="2" fill="#c0c0c0"/>
<rect x="1117" y="745" width="1" height="2" fill="#c0c0c0"/>
<rect x="1121" y="745" width="1" height="5" fill="#c0c0c0"/>
<rect x="1125" y="745" width="1" height="5" fill="#c0c0c0"/>
<rect x="1129" y="745" width="1" height="8" fill="#c0c0c0"/>
<rect x="1133" y="745" width="1" height="11" fill="#c0c0c0"/>
<rect x="1137" y="745" width="1" height="14" fill="#c0c0c0"/>
<rect x="1141" y="745" width="1" height="17" fill="#c0c0c0"/>
<rect x="1145" y="745" width="1" height="19" fill="#c0c0c0"/>
<rect x="1149" y="745" width="1" height="22" fill="#c0c0c0"/>
<rect x="1153" y="745" width="1" height="24" fill="#c0c0c0"/>
<rect x="1157" y="745" width="1" height="23" fill="#c0c0c0"/>
<rect x="1161" y="745" width="1" height="19" fill="#c0c0c0"/>
<rect x="1165" y="745" width="1" height="16" fill="#c0c0c0"/>
<rect x="1169" y="745" width="1" height="15" fill="#c0c0c0"/>
<rect x="1173" y="745" width="1" height="15" fill="#c0c0c0"/>
<rect x="1177" y="745" width="1" height="17" fill="#c0c0c0"/>
<rect x="1181" y="745" width="1" height="20" fill="#c0c0c0"/>
<rect x="1185" y="745" width="1" height="22" fill="#c0c0c0"/>
<rect x="1189" y="745" width="1" height="25" fill="#c0c0c0"/>
<rect x="1193" y="745" width="1" height="28" fill="#c0c0c0"/>
<rect x="1197" y="745" width="1" height="31" fill="#c0c0c0"/>
<rect x="1201" y="745" width="1" height="34" fill="#c0c0c0"/>
<rect x="1205" y="745" width="1" height="39" fill="#c0c0c0"/>
<rect x="1209" y="745" width="1" height="42" fill="#c0c0c0"/>
<rect x="1213" y="745" width="1" height="44" fill="#c0c0c0"/>
<rect x="1217" y="745" width="1" height="46" fill="#c0c0c0"/>
<rect x="1221" y="745" width="1" height="48" fill="#c0c0c0"/>
<rect x="1225" y="745" width="1" height="50" fill="#c0c0c0"/>
<rect x="1229" y="745" width="1" height="51" fill="#c0c0c0"/>
<rect x="1233" y="745" width="1" height="48" fill="#c0c0c0"/>
<rect x="1237" y="745" width="1" height="45" fill="#c0c0c0"/>
<rect x="1241" y="745" width="1" height="42" fill="#c0c0c0"/>
<rect x="1245" y="745" width="1" height="39" fill="#c0c0c0"/>
<rect x="1249" y="745" width="1" height="36" fill="#c0c0c0"/>
<rect x="1253" y="745" width="1" height="26" fill="#c0c0c0"/>
<rect x="1257" y="745" width="1" height="19" fill="#c0c0c0"/>
<rect x="1261" y="745" width="1" height="10" fill="#c0c0c0"/>
<rect x="1265" y="741" width="1" height="5" fill="#c0c0c0"/>
<rect x="1269" y="728" width="1" height="18" fill="#c0c0c0"/>
<rect x="1273" y="721" width="1" height="25" fill="#c0c0c0"/>
<rect x="1277" y="713" width="1" height="33" fill="#c0c0c0"/>
<rect x="1281" y="705" width="1" height="41" fill="#c0c0c0"/>
</g>
<path d="M5 756h2v1h-2zM7 755h1v1h-1zM11 753h2v1h-2zM13 752h1v1h-1zM17 750h3v1h-3zM23 750h1v1h-1zM24 749h2v1h-2zM29 749h3v1h-3zM35 751h2v1h-2zM37 752h1v1h-1zM41 754h2v1h-2zM43 755h1v1h-1zM47 757h2v1h-2zM49 758h1v1h-1zM53 759h3v1h-3zM59 760h1v1h-1zM60 761h2v1h-2zM65 760h3v1h-3zM71 758h2v1h-2zM73 757h1v1h-1zM77 755h2v1h-2zM79 754h1v1h-1zM83 752h2v1h-2zM85 751h1v1h-1zM89 750h3v1h-3zM95 749h3v1h-3zM101 749h3v1h-3zM107 751h2v1h-2zM109 752h1v1h-1zM113 754h2v1h-2zM115 755h1v1h-1zM119 757h2v1h-2zM121 758h1v1h-1zM125 760h3v1h-3zM131 762h2v1h-2zM133 763h1v1h-1zM137 764h3v1h-3zM143 764h1v1h-1zM144 763h2v1h-2zM149 762h3v1h-3zM155 760h2v1h-2zM157 759h1v1h-1zM161 757h1v1h-1zM162 756h2v1h-2zM167 753h2v1h-2zM169 752h1v1h-1zM173 750h3v1h-3zM179 749h1v1h-1zM180 748h2v1h-2zM185 748h3v1h-3zM191 748h3v1h-3zM197 750h2v1h-2zM199 751h1v1h-1zM203 753h2v1h-2zM205 754h1v1h-1zM209 756h2v1h-2zM211 757h1v1h-1zM215 758h1v1h-1zM216 759h2v1h-2zM221 761h3v1h-3zM227 762h3v1h-3zM233 762h3v1h-3zM239 761h3v1h-3zM245 759h3v1h-3zM251 758h1v1h-1zM252 757h2v1h-2zM257 755h3v1h-3zM263 754h1v1h-1zM264 753h2v1h-2zM269 752h3v1h-3zM275 751h3v1h-3zM281 751h3v1h-3zM287 752h3v1h-3zM293 753h3v1h-3zM299 754h3v1h-3zM305 755h3v1h-3zM311 755h1v1h-1zM312 754h2v1h-2zM317 755h3v1h-3zM323 755h1v1h-1zM324 754h2v1h-2zM329 754h3v1h-3zM335 753h1v1h-1zM336 752h2v1h-2zM341 751h2v1h-2zM343 750h1v1h-1zM347 748h1v1h-1zM348 747h1v1h-1zM349 746h1v1h-1zM353 742h1v1h-1zM354 741h2v1h-2zM359 737h1v1h-1zM360 736h1v1h-1zM361 735h1v1h-1zM365 732h2v1h-2zM367 731h1v1h-1zM371 729h2v1h-2zM373 728h1v1h-1zM377 728h3v1h-3zM383 729h2v1h-2zM385 730h1v1h-1zM389 731h2v1h-2zM391 732h1v1h-1zM395 733h3v1h-3zM401 733h3v1h-3zM407 732h1v1h-1zM408 731h2v1h-2zM413 729h1v1h-1zM414 728h2v1h-2zM419 725h1v1h-1zM420 724h1v1h-1zM421 723h1v1h-1zM425 721h3v1h-3zM431 720h3v1h-3zM437 721h2v1h-2zM439 722h1v1h-1zM443 724h1v1h-1zM444 725h1v1h-1zM445 726h1v1h-1zM449 729h1v1h-1zM450 730h1v1h-1zM451 731h1v1h-1zM455 735h1v1h-1zM456 736h1v1h-1zM457 737h1v1h-1zM461 741h1v1h-1zM462 742h2v1h-2zM467 745h2v1h-2zM469 746h1v1h-1zM473 748h2v1h-2zM475 749h1v1h-1zM479 750h1v1h-1zM480 751h2v1h-2zM485 752h3v1h-3zM491 752h1v1h-1zM492 753h2v1h-2zM497 753h3v1h-3zM503 755h2v1h-2zM505 756h1v1h-1zM509 757h2v1h-2zM511 758h1v1h-1zM515 760h2v1h-2zM517 761h1v1h-1zM521 763h2v1h-2zM523 764h1v1h-1zM527 765h1v1h-1zM528 766h2v1h-2zM533 768h2v1h-2zM535 769h1v1h-1zM539 770h1v1h-1zM540 771h2v1h-2zM545 771h3v1h-3zM551 770h2v1h-2zM553 769h1v1h-1zM557 768h1v1h-1zM558 767h2v1h-2zM563 764h2v1h-2zM565 763h1v1h-1zM569 760h1v1h-1zM570 759h2v1h-2zM575 756h2v1h-2zM577 755h1v1h-1zM581 753h3v1h-3zM587 752h1v1h-1zM588 753h2v1h-2zM593 753h2v1h-2zM595 754h1v1h-1zM599 755h1v1h-1zM600 756h2v1h-2zM605 758h2v1h-2zM607 759h1v1h-1zM611 760h1v1h-1zM612 761h2v1h-2zM617 761h3v1h-3zM623 762h3v1h-3zM629 762h3v1h-3zM635 762h1v1h-1zM636 763h2v1h-2zM641 765h2v1h-2zM643 766h1v1h-1zM647 768h2v1h-2zM649 769h1v1h-1zM653 771h3v1h-3zM659 772h1v1h-1zM660 773h2v1h-2zM665 774h3v1h-3zM671 774h1v1h-1zM672 773h2v1h-2zM677 771h2v1h-2zM679 770h1v1h-1zM683 768h2v1h-2zM685 767h1v1h-1zM689 765h2v1h-2zM691 764h1v1h-1zM695 763h1v1h-1zM696 762h2v1h-2zM701 760h3v1h-3zM707 759h1v1h-1zM708 758h2v1h-2zM713 757h3v1h-3zM719 757h1v1h-1zM720 758h2v1h-2zM725 759h3v1h-3zM731 760h1v1h-1zM732 761h2v1h-2zM737 763h2v1h-2zM739 764h1v1h-1zM743 765h1v1h-1zM744 766h2v1h-2zM749 767h3v1h-3zM755 768h3v1h-3zM761 768h3v1h-3zM767 767h1v1h-1zM768 766h2v1h-2zM773 764h2v1h-2zM775 763h1v1h-1zM779 761h1v1h-1zM780 760h1v1h-1zM781 759h1v1h-1zM785 757h1v1h-1zM786 756h2v1h-2zM791 753h2v1h-2zM793 752h1v1h-1zM797 749h1v1h-1zM798 748h1v1h-1zM799 747h1v1h-1zM803 743h1v1h-1zM804 742h1v1h-1zM805 741h1v1h-1zM809 737h1v1h-1zM810 736h2v1h-2zM815 732h1v1h-1zM816 731h1v1h-1zM817 730h1v1h-1zM821 728h1v1h-1zM822 727h2v1h-2zM827 725h1v1h-1zM828 724h2v1h-2zM833 723h3v1h-3zM839 723h3v1h-3zM845 724h3v1h-3zM851 724h1v1h-1zM852 725h2v1h-2zM857 725h3v1h-3zM863 725h1v1h-1zM864 726h2v1h-2zM869 727h3v1h-3zM875 729h2v1h-2zM877 730h1v1h-1zM881 733h1v1h-1zM882 734h2v1h-2zM887 737h1v1h-1zM888 738h1v1h-1zM889 739h1v1h-1zM893 743h1v1h-1zM894 744h2v1h-2zM899 747h1v1h-1zM900 748h1v1h-1zM901 749h1v1h-1zM905 750h3v1h-3zM911 751h1v1h-1zM912 752h2v1h-2zM917 752h3v1h-3zM923 751h3v1h-3zM929 751h3v1h-3zM935 750h1v1h-1zM936 751h2v1h-2zM941 751h3v1h-3zM947 752h1v1h-1zM948 753h2v1h-2zM953 753h3v1h-3zM959 753h3v1h-3zM965 752h3v1h-3zM971 750h2v1h-2zM973 749h1v1h-1zM977 748h3v1h-3zM983 746h2v1h-2zM985 745h1v1h-1zM989 743h3v1h-3zM995 741h2v1h-2zM997 740h1v1h-1zM1001 739h2v1h-2zM1003 738h1v1h-1zM1007 737h1v1h-1zM1008 736h2v1h-2zM1013 734h3v1h-3zM1019 733h3v1h-3zM1025 733h3v1h-3zM1031 733h1v1h-1zM1032 734h2v1h-2zM1037 735h3v1h-3zM1043 735h1v1h-1zM1044 736h2v1h-2zM1049 736h3v1h-3zM1055 734h2v1h-2zM1057 733h1v1h-1zM1061 731h3v1h-3zM1067 729h2v1h-2zM1069 728h1v1h-1zM1073 726h3v1h-3zM1079 725h3v1h-3zM1085 726h3v1h-3zM1091 728h2v1h-2zM1093 729h1v1h-1zM1097 731h1v1h-1zM1098 732h2v1h-2zM1103 734h1v1h-1zM1104 735h2v1h-2zM1109 737h2v1h-2zM1111 738h1v1h-1zM1115 740h2v1h-2zM1117 741h1v1h-1zM1121 742h2v1h-2zM1123 743h1v1h-1zM1127 744h1v1h-1zM1128 745h2v1h-2zM1133 746h2v1h-2zM1135 747h1v1h-1zM1139 749h1v1h-1zM1140 750h1v1h-1zM1141 751h1v1h-1zM1145 753h2v1h-2zM1147 754h1v1h-1zM1151 756h1v1h-1zM1152 757h1v1h-1zM1153 758h1v1h-1zM1157 760h3v1h-3zM1163 761h1v1h-1zM1164 762h2v1h-2zM1169 763h3v1h-3zM1175 763h3v1h-3zM1181 763h3v1h-3zM1187 763h3v1h-3zM1193 764h3v1h-3zM1199 766h2v1h-2zM1201 767h1v1h-1zM1205 770h1v1h-1zM1206 771h2v1h-2zM1211 774h1v1h-1zM1212 775h1v1h-1zM1213 776h1v1h-1zM1217 779h1v1h-1zM1218 780h2v1h-2zM1223 783h2v1h-2zM1225 784h1v1h-1zM1229 787h2v1h-2zM1231 788h1v1h-1zM1235 789h1v1h-1zM1236 790h2v1h-2zM1241 790h3v1h-3zM1247 790h1v1h-1zM1248 789h2v1h-2zM1253 787h1v1h-1zM1254 786h2v1h-2zM1259 781h1v2h-1zM1260 780h1v1h-1zM1263 776h1v1h-1zM1264 774h1v2h-1zM1267 769h1v2h-1zM1268 768h1v1h-1zM1270 763h1v2h-1zM1271 762h1v1h-1zM1273 757h1v2h-1zM1274 756h1v1h-1zM1276 751h1v2h-1zM1277 750h1v1h-1zM1279 745h1v2h-1zM1280 744h1v1h-1z" fill="#ff0000" shape-rendering="crispEdges"/>
<g shape-rendering="crispEdges">
<rect x="5" y="802" width="1" height="3" fill="#000"/>
<rect x="69" y="802" width="1" height="3" fill="#000"/>
<rect x="133" y="802" width="1" height="3" fill="#000"/>
<rect x="197" y="802" width="1" height="3" fill="#000"/>
<rect x="261" y="802" width="1" height="3" fill="#000"/>
<rect x="325" y="802" width="1" height="3" fill="#000"/>
<rect x="389" y="802" width="1" height="3" fill="#000"/>
<rect x="453" y="802" width="1" height="3" fill="#000"/>
<rect x="517" y="802" width="1" height="3" fill="#000"/>
<rect x="581" y="802" width="1" height="3" fill="#000"/>
<rect x="645" y="802" width="1" height="3" fill="#000"/>
<rect x="709" y="802" width="1" height="3" fill="#000"/>
<rect x="773" y="802" width="1" height="3" fill="#000"/>
<rect x="837" y="802" width="1" height="3" fill="#000"/>
<rect x="901" y="802" width="1" height="3" fill="#000"/>
<rect x="965" y="802" width="1" height="3" fill="#000"/>
<rect x="1029" y="802" width="1" height="3" fill="#000"/>
<rect x="1093" y="802" width="1" height="3" fill="#000"/>
<rect x="1157" y="802" width="1" height="3" fill="#000"/>
<rect x="1221" y="802" width="1" height="3" fill="#000"/>
</g>
<text class="dt" transform="translate(4 814) scale(1 1.1)">28 Feb 2019</text>
<text class="dt" transform="translate(68 814) scale(1 1.1)">19 Mar 2019</text>
<text class="dt" transform="translate(132 814) scale(1 1.1)">6 Apr 2019</text>
<text class="dt" transform="translate(196 814) scale(1 1.1)">25 Apr 2019</text>
<text class="dt" transform="translate(260 814) scale(1 1.1)">14 May 2019</text>
<text class="dt" transform="translate(324 814) scale(1 1.1)">1 Jun 2019</text>
<text class="dt" transform="translate(388 814) scale(1 1.1)">20 Jun 2019</text>
<text class="dt" transform="translate(452 814) scale(1 1.1)">9 Jul 2019</text>
<text class="dt" transform="translate(516 814) scale(1 1.1)">27 Jul 2019</text>
<text class="dt" transform="translate(580 814) scale(1 1.1)">15 Aug 2019</text>
<text class="dt" transform="translate(644 814) scale(1 1.1)">3 Sep 2019</text>
<text class="dt" transform="translate(708 814) scale(1 1.1)">21 Sep 2019</text>
<text class="dt" transform="translate(772 814) scale(1 1.1)">10 Oct 2019</text>
<text class="dt" transform="translate(836 814) scale(1 1.1)">29 Oct 2019</text>
<text class="dt" transform="translate(900 814) scale(1 1.1)">16 Nov 2019</text>
<text class="dt" transform="translate(964 814) scale(1 1.1)">5 Dec 2019</text>
<text class="dt" transform="translate(1028 814) scale(1 1.1)">24 Dec 2019</text>
<text class="dt" transform="translate(1092 814) scale(1 1.1)">11 Jan 2020</text>
<text class="dt" transform="translate(1156 814) scale(1 1.1)">30 Jan 2020</text>
<text class="dt" transform="translate(1220 814) scale(1 1.1)">18 Feb 2020</text>
<g shape-rendering="crispEdges">
<rect x="0" y="822" width="1654" height="1" fill="#e6e6e6"/>
<rect x="0" y="823" width="1654" height="1" fill="#f4f4f4"/>
<rect x="0" y="824" width="1654" height="23" fill="#f0f0f0"/>
<rect x="0" y="824" width="1654" height="1" fill="#000"/>
<rect x="0" y="844" width="1654" height="1" fill="#fafafa"/>
<rect x="6" y="824" width="105" height="19" fill="#fff"/>
<rect x="6" y="824" width="1" height="19" fill="#000"/><rect x="110" y="824" width="1" height="19" fill="#000"/><rect x="6" y="842" width="105" height="1" fill="#000"/>
<rect x="0" y="825" width="1" height="18" fill="#a8a8a8"/><rect x="1" y="825" width="1" height="18" fill="#7c7c7c"/><rect x="2" y="825" width="4" height="18" fill="#e4e4e4"/>
</g>
<text class="tabA" transform="translate(18.5 838.8) scale(1 1.09)">EURUSD,Daily</text>
<text class="tab" transform="translate(119 838.8) scale(1 1.09)">USDCHF,Daily</text>
<rect x="211" y="827" width="1" height="14" fill="#8a8a8a" shape-rendering="crispEdges"/>
<text class="tab" transform="translate(221 838.8) scale(1 1.09)">AUDUSD,Daily</text>
<rect x="315" y="827" width="1" height="14" fill="#8a8a8a" shape-rendering="crispEdges"/>
<text class="tab" transform="translate(325.4 838.8) scale(1 1.09)">USDCAD,Daily</text>
<rect x="418" y="827" width="1" height="14" fill="#8a8a8a" shape-rendering="crispEdges"/>
<text class="tab" transform="translate(428.5 838.8) scale(1 1.09)">USDCNH,Daily</text>
<rect x="522" y="827" width="1" height="14" fill="#8a8a8a" shape-rendering="crispEdges"/>
<text class="tab" transform="translate(534 838.8) scale(1 1.09)">EURUSD,H1</text>
<rect x="615" y="827" width="1" height="14" fill="#8a8a8a" shape-rendering="crispEdges"/>
<text class="tab" transform="translate(626 838.8) scale(1 1.09)">GBPUSD,Daily</text>
<rect x="719" y="827" width="1" height="14" fill="#8a8a8a" shape-rendering="crispEdges"/>
<text class="tab" transform="translate(729 838.8) scale(1 1.09)">XAUUSD,H1</text>
<rect x="810" y="827" width="1" height="14" fill="#8a8a8a" shape-rendering="crispEdges"/>
<text class="tab" transform="translate(821 838.8) scale(1 1.09)">HK50,H1</text>
<rect x="882" y="827" width="1" height="14" fill="#8a8a8a" shape-rendering="crispEdges"/>
<text class="tab" transform="translate(893 838.8) scale(1 1.09)">UK100,Daily</text>
<rect x="974" y="827" width="1" height="14" fill="#8a8a8a" shape-rendering="crispEdges"/>
<text class="tab" transform="translate(986 838.8) scale(1 1.09)">UK100,M5</text>
<rect x="1058" y="827" width="1" height="14" fill="#8a8a8a" shape-rendering="crispEdges"/>
<text class="tab" transform="translate(1069 838.8) scale(1 1.09)">GER30,H1</text>
<rect x="1138" y="827" width="1" height="14" fill="#8a8a8a" shape-rendering="crispEdges"/>
<text class="tab" transform="translate(1148 838.8) scale(1 1.09)">FRA40,H1</text>
<rect x="1214" y="827" width="1" height="14" fill="#8a8a8a" shape-rendering="crispEdges"/>
<path d="M1631 829.5 L1631 836.5 L1627.5 833 Z" fill="#a0a0a0"/><path d="M1647 829.5 L1647 836.5 L1650.5 833 Z" fill="#a0a0a0"/>
</svg></body></html>
